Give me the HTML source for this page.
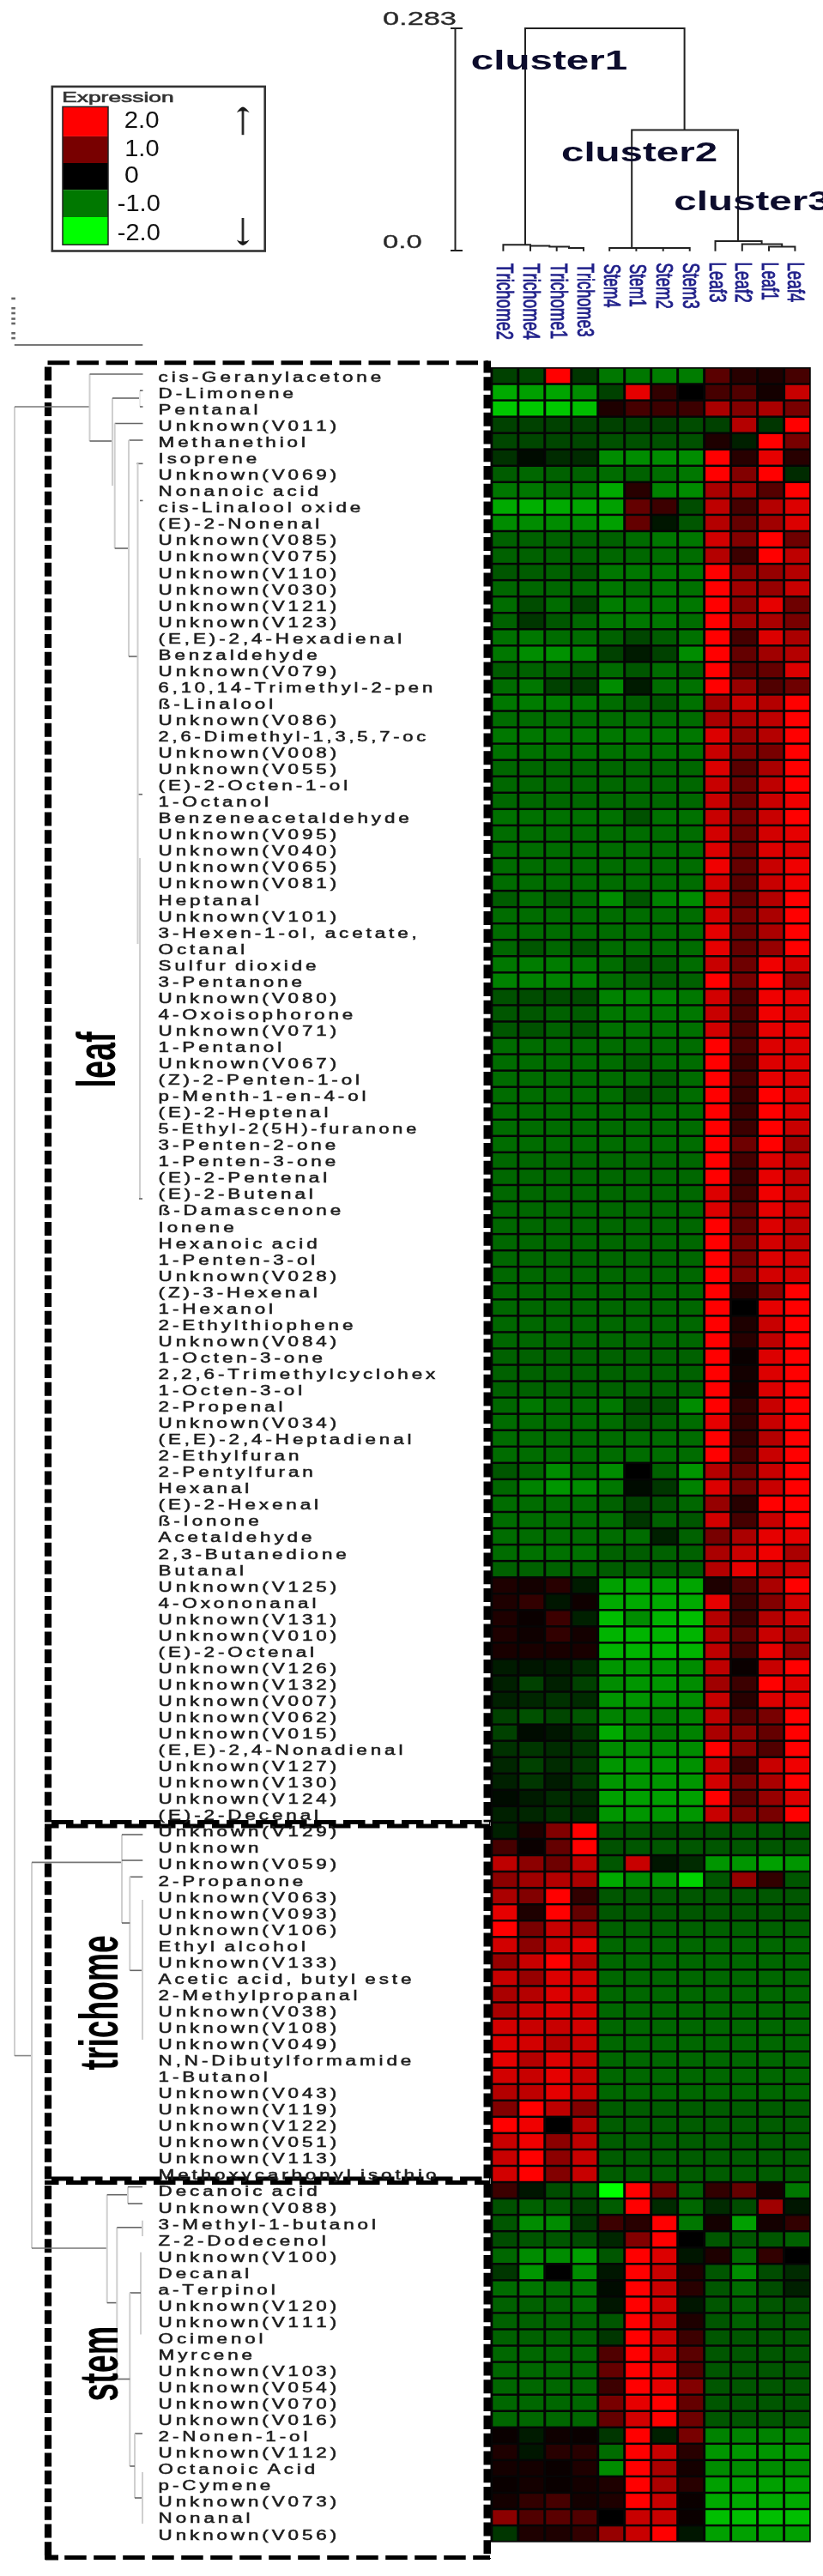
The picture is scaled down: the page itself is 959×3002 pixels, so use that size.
<!DOCTYPE html>
<html><head><meta charset="utf-8">
<style>
html,body{margin:0;padding:0;background:#fff;}
body{width:959px;height:3002px;position:relative;overflow:hidden;font-family:"Liberation Sans",sans-serif;}
svg{position:absolute;left:0;top:0;filter:blur(0.45px);}
.t{position:absolute;white-space:nowrap;line-height:1;transform-origin:0 0;}
</style></head><body>
<svg width="959" height="3002" viewBox="0 0 959 3002">
<rect x="571.5" y="428.0" width="373.26" height="2534.65" fill="#050505"/>
<rect x="574.30" y="429.70" width="28.0" height="16.6" fill="#004100"/>
<rect x="605.28" y="429.70" width="28.0" height="16.6" fill="#004600"/>
<rect x="636.26" y="429.70" width="28.0" height="16.6" fill="#ff0000"/>
<rect x="667.24" y="429.70" width="28.0" height="16.6" fill="#003600"/>
<rect x="698.22" y="429.70" width="28.0" height="16.6" fill="#007700"/>
<rect x="729.20" y="429.70" width="28.0" height="16.6" fill="#007700"/>
<rect x="760.18" y="429.70" width="28.0" height="16.6" fill="#007c00"/>
<rect x="791.16" y="429.70" width="28.0" height="16.6" fill="#007c00"/>
<rect x="822.14" y="429.70" width="28.0" height="16.6" fill="#5a0000"/>
<rect x="853.12" y="429.70" width="28.0" height="16.6" fill="#280000"/>
<rect x="884.10" y="429.70" width="28.0" height="16.6" fill="#1e0000"/>
<rect x="915.08" y="429.70" width="28.0" height="16.6" fill="#460000"/>
<rect x="574.30" y="448.75" width="28.0" height="16.6" fill="#00aa00"/>
<rect x="605.28" y="448.75" width="28.0" height="16.6" fill="#00a000"/>
<rect x="636.26" y="448.75" width="28.0" height="16.6" fill="#00a500"/>
<rect x="667.24" y="448.75" width="28.0" height="16.6" fill="#008c00"/>
<rect x="698.22" y="448.75" width="28.0" height="16.6" fill="#004100"/>
<rect x="729.20" y="448.75" width="28.0" height="16.6" fill="#e60000"/>
<rect x="760.18" y="448.75" width="28.0" height="16.6" fill="#320000"/>
<rect x="791.16" y="448.75" width="28.0" height="16.6" fill="#000000"/>
<rect x="822.14" y="448.75" width="28.0" height="16.6" fill="#460000"/>
<rect x="853.12" y="448.75" width="28.0" height="16.6" fill="#500000"/>
<rect x="884.10" y="448.75" width="28.0" height="16.6" fill="#140000"/>
<rect x="915.08" y="448.75" width="28.0" height="16.6" fill="#c80000"/>
<rect x="574.30" y="467.80" width="28.0" height="16.6" fill="#00c800"/>
<rect x="605.28" y="467.80" width="28.0" height="16.6" fill="#00c800"/>
<rect x="636.26" y="467.80" width="28.0" height="16.6" fill="#00c800"/>
<rect x="667.24" y="467.80" width="28.0" height="16.6" fill="#00be00"/>
<rect x="698.22" y="467.80" width="28.0" height="16.6" fill="#1e0000"/>
<rect x="729.20" y="467.80" width="28.0" height="16.6" fill="#460000"/>
<rect x="760.18" y="467.80" width="28.0" height="16.6" fill="#3c0000"/>
<rect x="791.16" y="467.80" width="28.0" height="16.6" fill="#3c0000"/>
<rect x="822.14" y="467.80" width="28.0" height="16.6" fill="#aa0000"/>
<rect x="853.12" y="467.80" width="28.0" height="16.6" fill="#820000"/>
<rect x="884.10" y="467.80" width="28.0" height="16.6" fill="#aa0000"/>
<rect x="915.08" y="467.80" width="28.0" height="16.6" fill="#780000"/>
<rect x="574.30" y="486.85" width="28.0" height="16.6" fill="#004100"/>
<rect x="605.28" y="486.85" width="28.0" height="16.6" fill="#004100"/>
<rect x="636.26" y="486.85" width="28.0" height="16.6" fill="#004100"/>
<rect x="667.24" y="486.85" width="28.0" height="16.6" fill="#004100"/>
<rect x="698.22" y="486.85" width="28.0" height="16.6" fill="#004100"/>
<rect x="729.20" y="486.85" width="28.0" height="16.6" fill="#004100"/>
<rect x="760.18" y="486.85" width="28.0" height="16.6" fill="#004100"/>
<rect x="791.16" y="486.85" width="28.0" height="16.6" fill="#004c00"/>
<rect x="822.14" y="486.85" width="28.0" height="16.6" fill="#004100"/>
<rect x="853.12" y="486.85" width="28.0" height="16.6" fill="#b40000"/>
<rect x="884.10" y="486.85" width="28.0" height="16.6" fill="#003600"/>
<rect x="915.08" y="486.85" width="28.0" height="16.6" fill="#ff0000"/>
<rect x="574.30" y="505.90" width="28.0" height="16.6" fill="#004600"/>
<rect x="605.28" y="505.90" width="28.0" height="16.6" fill="#004600"/>
<rect x="636.26" y="505.90" width="28.0" height="16.6" fill="#004600"/>
<rect x="667.24" y="505.90" width="28.0" height="16.6" fill="#004600"/>
<rect x="698.22" y="505.90" width="28.0" height="16.6" fill="#005100"/>
<rect x="729.20" y="505.90" width="28.0" height="16.6" fill="#005100"/>
<rect x="760.18" y="505.90" width="28.0" height="16.6" fill="#005100"/>
<rect x="791.16" y="505.90" width="28.0" height="16.6" fill="#005100"/>
<rect x="822.14" y="505.90" width="28.0" height="16.6" fill="#1e0000"/>
<rect x="853.12" y="505.90" width="28.0" height="16.6" fill="#002000"/>
<rect x="884.10" y="505.90" width="28.0" height="16.6" fill="#ff0000"/>
<rect x="915.08" y="505.90" width="28.0" height="16.6" fill="#780000"/>
<rect x="574.30" y="524.95" width="28.0" height="16.6" fill="#003100"/>
<rect x="605.28" y="524.95" width="28.0" height="16.6" fill="#000b00"/>
<rect x="636.26" y="524.95" width="28.0" height="16.6" fill="#002b00"/>
<rect x="667.24" y="524.95" width="28.0" height="16.6" fill="#002b00"/>
<rect x="698.22" y="524.95" width="28.0" height="16.6" fill="#008c00"/>
<rect x="729.20" y="524.95" width="28.0" height="16.6" fill="#008c00"/>
<rect x="760.18" y="524.95" width="28.0" height="16.6" fill="#008c00"/>
<rect x="791.16" y="524.95" width="28.0" height="16.6" fill="#008c00"/>
<rect x="822.14" y="524.95" width="28.0" height="16.6" fill="#ff0000"/>
<rect x="853.12" y="524.95" width="28.0" height="16.6" fill="#280000"/>
<rect x="884.10" y="524.95" width="28.0" height="16.6" fill="#e60000"/>
<rect x="915.08" y="524.95" width="28.0" height="16.6" fill="#280000"/>
<rect x="574.30" y="544.00" width="28.0" height="16.6" fill="#005c00"/>
<rect x="605.28" y="544.00" width="28.0" height="16.6" fill="#006700"/>
<rect x="636.26" y="544.00" width="28.0" height="16.6" fill="#006100"/>
<rect x="667.24" y="544.00" width="28.0" height="16.6" fill="#006100"/>
<rect x="698.22" y="544.00" width="28.0" height="16.6" fill="#006c00"/>
<rect x="729.20" y="544.00" width="28.0" height="16.6" fill="#006100"/>
<rect x="760.18" y="544.00" width="28.0" height="16.6" fill="#006c00"/>
<rect x="791.16" y="544.00" width="28.0" height="16.6" fill="#007700"/>
<rect x="822.14" y="544.00" width="28.0" height="16.6" fill="#ff0000"/>
<rect x="853.12" y="544.00" width="28.0" height="16.6" fill="#820000"/>
<rect x="884.10" y="544.00" width="28.0" height="16.6" fill="#ff0000"/>
<rect x="915.08" y="544.00" width="28.0" height="16.6" fill="#002b00"/>
<rect x="574.30" y="563.05" width="28.0" height="16.6" fill="#007700"/>
<rect x="605.28" y="563.05" width="28.0" height="16.6" fill="#007700"/>
<rect x="636.26" y="563.05" width="28.0" height="16.6" fill="#006c00"/>
<rect x="667.24" y="563.05" width="28.0" height="16.6" fill="#007700"/>
<rect x="698.22" y="563.05" width="28.0" height="16.6" fill="#00aa00"/>
<rect x="729.20" y="563.05" width="28.0" height="16.6" fill="#280000"/>
<rect x="760.18" y="563.05" width="28.0" height="16.6" fill="#008200"/>
<rect x="791.16" y="563.05" width="28.0" height="16.6" fill="#008c00"/>
<rect x="822.14" y="563.05" width="28.0" height="16.6" fill="#aa0000"/>
<rect x="853.12" y="563.05" width="28.0" height="16.6" fill="#a00000"/>
<rect x="884.10" y="563.05" width="28.0" height="16.6" fill="#550000"/>
<rect x="915.08" y="563.05" width="28.0" height="16.6" fill="#ff0000"/>
<rect x="574.30" y="582.10" width="28.0" height="16.6" fill="#00aa00"/>
<rect x="605.28" y="582.10" width="28.0" height="16.6" fill="#00af00"/>
<rect x="636.26" y="582.10" width="28.0" height="16.6" fill="#00aa00"/>
<rect x="667.24" y="582.10" width="28.0" height="16.6" fill="#00a500"/>
<rect x="698.22" y="582.10" width="28.0" height="16.6" fill="#00a000"/>
<rect x="729.20" y="582.10" width="28.0" height="16.6" fill="#640000"/>
<rect x="760.18" y="582.10" width="28.0" height="16.6" fill="#3c0000"/>
<rect x="791.16" y="582.10" width="28.0" height="16.6" fill="#004c00"/>
<rect x="822.14" y="582.10" width="28.0" height="16.6" fill="#be0000"/>
<rect x="853.12" y="582.10" width="28.0" height="16.6" fill="#460000"/>
<rect x="884.10" y="582.10" width="28.0" height="16.6" fill="#b40000"/>
<rect x="915.08" y="582.10" width="28.0" height="16.6" fill="#dc0000"/>
<rect x="574.30" y="601.15" width="28.0" height="16.6" fill="#008c00"/>
<rect x="605.28" y="601.15" width="28.0" height="16.6" fill="#008c00"/>
<rect x="636.26" y="601.15" width="28.0" height="16.6" fill="#008c00"/>
<rect x="667.24" y="601.15" width="28.0" height="16.6" fill="#008c00"/>
<rect x="698.22" y="601.15" width="28.0" height="16.6" fill="#00a000"/>
<rect x="729.20" y="601.15" width="28.0" height="16.6" fill="#640000"/>
<rect x="760.18" y="601.15" width="28.0" height="16.6" fill="#001600"/>
<rect x="791.16" y="601.15" width="28.0" height="16.6" fill="#005600"/>
<rect x="822.14" y="601.15" width="28.0" height="16.6" fill="#b40000"/>
<rect x="853.12" y="601.15" width="28.0" height="16.6" fill="#640000"/>
<rect x="884.10" y="601.15" width="28.0" height="16.6" fill="#a00000"/>
<rect x="915.08" y="601.15" width="28.0" height="16.6" fill="#dc0000"/>
<rect x="574.30" y="620.20" width="28.0" height="16.6" fill="#006100"/>
<rect x="605.28" y="620.20" width="28.0" height="16.6" fill="#006100"/>
<rect x="636.26" y="620.20" width="28.0" height="16.6" fill="#006100"/>
<rect x="667.24" y="620.20" width="28.0" height="16.6" fill="#006100"/>
<rect x="698.22" y="620.20" width="28.0" height="16.6" fill="#006100"/>
<rect x="729.20" y="620.20" width="28.0" height="16.6" fill="#006c00"/>
<rect x="760.18" y="620.20" width="28.0" height="16.6" fill="#007700"/>
<rect x="791.16" y="620.20" width="28.0" height="16.6" fill="#007700"/>
<rect x="822.14" y="620.20" width="28.0" height="16.6" fill="#d20000"/>
<rect x="853.12" y="620.20" width="28.0" height="16.6" fill="#820000"/>
<rect x="884.10" y="620.20" width="28.0" height="16.6" fill="#ff0000"/>
<rect x="915.08" y="620.20" width="28.0" height="16.6" fill="#6e0000"/>
<rect x="574.30" y="639.25" width="28.0" height="16.6" fill="#006100"/>
<rect x="605.28" y="639.25" width="28.0" height="16.6" fill="#006100"/>
<rect x="636.26" y="639.25" width="28.0" height="16.6" fill="#006100"/>
<rect x="667.24" y="639.25" width="28.0" height="16.6" fill="#006100"/>
<rect x="698.22" y="639.25" width="28.0" height="16.6" fill="#006700"/>
<rect x="729.20" y="639.25" width="28.0" height="16.6" fill="#006700"/>
<rect x="760.18" y="639.25" width="28.0" height="16.6" fill="#006c00"/>
<rect x="791.16" y="639.25" width="28.0" height="16.6" fill="#006c00"/>
<rect x="822.14" y="639.25" width="28.0" height="16.6" fill="#b40000"/>
<rect x="853.12" y="639.25" width="28.0" height="16.6" fill="#3c0000"/>
<rect x="884.10" y="639.25" width="28.0" height="16.6" fill="#ff0000"/>
<rect x="915.08" y="639.25" width="28.0" height="16.6" fill="#be0000"/>
<rect x="574.30" y="658.30" width="28.0" height="16.6" fill="#005600"/>
<rect x="605.28" y="658.30" width="28.0" height="16.6" fill="#005c00"/>
<rect x="636.26" y="658.30" width="28.0" height="16.6" fill="#006100"/>
<rect x="667.24" y="658.30" width="28.0" height="16.6" fill="#005600"/>
<rect x="698.22" y="658.30" width="28.0" height="16.6" fill="#007700"/>
<rect x="729.20" y="658.30" width="28.0" height="16.6" fill="#007700"/>
<rect x="760.18" y="658.30" width="28.0" height="16.6" fill="#007700"/>
<rect x="791.16" y="658.30" width="28.0" height="16.6" fill="#007700"/>
<rect x="822.14" y="658.30" width="28.0" height="16.6" fill="#ff0000"/>
<rect x="853.12" y="658.30" width="28.0" height="16.6" fill="#8c0000"/>
<rect x="884.10" y="658.30" width="28.0" height="16.6" fill="#960000"/>
<rect x="915.08" y="658.30" width="28.0" height="16.6" fill="#b40000"/>
<rect x="574.30" y="677.35" width="28.0" height="16.6" fill="#006700"/>
<rect x="605.28" y="677.35" width="28.0" height="16.6" fill="#006700"/>
<rect x="636.26" y="677.35" width="28.0" height="16.6" fill="#006700"/>
<rect x="667.24" y="677.35" width="28.0" height="16.6" fill="#006c00"/>
<rect x="698.22" y="677.35" width="28.0" height="16.6" fill="#007700"/>
<rect x="729.20" y="677.35" width="28.0" height="16.6" fill="#006c00"/>
<rect x="760.18" y="677.35" width="28.0" height="16.6" fill="#007700"/>
<rect x="791.16" y="677.35" width="28.0" height="16.6" fill="#007100"/>
<rect x="822.14" y="677.35" width="28.0" height="16.6" fill="#ff0000"/>
<rect x="853.12" y="677.35" width="28.0" height="16.6" fill="#a00000"/>
<rect x="884.10" y="677.35" width="28.0" height="16.6" fill="#960000"/>
<rect x="915.08" y="677.35" width="28.0" height="16.6" fill="#c80000"/>
<rect x="574.30" y="696.40" width="28.0" height="16.6" fill="#006c00"/>
<rect x="605.28" y="696.40" width="28.0" height="16.6" fill="#004c00"/>
<rect x="636.26" y="696.40" width="28.0" height="16.6" fill="#006c00"/>
<rect x="667.24" y="696.40" width="28.0" height="16.6" fill="#004600"/>
<rect x="698.22" y="696.40" width="28.0" height="16.6" fill="#007c00"/>
<rect x="729.20" y="696.40" width="28.0" height="16.6" fill="#007700"/>
<rect x="760.18" y="696.40" width="28.0" height="16.6" fill="#007700"/>
<rect x="791.16" y="696.40" width="28.0" height="16.6" fill="#007700"/>
<rect x="822.14" y="696.40" width="28.0" height="16.6" fill="#ff0000"/>
<rect x="853.12" y="696.40" width="28.0" height="16.6" fill="#8c0000"/>
<rect x="884.10" y="696.40" width="28.0" height="16.6" fill="#e60000"/>
<rect x="915.08" y="696.40" width="28.0" height="16.6" fill="#6e0000"/>
<rect x="574.30" y="715.45" width="28.0" height="16.6" fill="#006100"/>
<rect x="605.28" y="715.45" width="28.0" height="16.6" fill="#003600"/>
<rect x="636.26" y="715.45" width="28.0" height="16.6" fill="#005600"/>
<rect x="667.24" y="715.45" width="28.0" height="16.6" fill="#006700"/>
<rect x="698.22" y="715.45" width="28.0" height="16.6" fill="#007700"/>
<rect x="729.20" y="715.45" width="28.0" height="16.6" fill="#007700"/>
<rect x="760.18" y="715.45" width="28.0" height="16.6" fill="#007700"/>
<rect x="791.16" y="715.45" width="28.0" height="16.6" fill="#006c00"/>
<rect x="822.14" y="715.45" width="28.0" height="16.6" fill="#ff0000"/>
<rect x="853.12" y="715.45" width="28.0" height="16.6" fill="#a00000"/>
<rect x="884.10" y="715.45" width="28.0" height="16.6" fill="#aa0000"/>
<rect x="915.08" y="715.45" width="28.0" height="16.6" fill="#780000"/>
<rect x="574.30" y="734.50" width="28.0" height="16.6" fill="#007100"/>
<rect x="605.28" y="734.50" width="28.0" height="16.6" fill="#007700"/>
<rect x="636.26" y="734.50" width="28.0" height="16.6" fill="#006c00"/>
<rect x="667.24" y="734.50" width="28.0" height="16.6" fill="#006c00"/>
<rect x="698.22" y="734.50" width="28.0" height="16.6" fill="#006100"/>
<rect x="729.20" y="734.50" width="28.0" height="16.6" fill="#004600"/>
<rect x="760.18" y="734.50" width="28.0" height="16.6" fill="#005c00"/>
<rect x="791.16" y="734.50" width="28.0" height="16.6" fill="#007100"/>
<rect x="822.14" y="734.50" width="28.0" height="16.6" fill="#ff0000"/>
<rect x="853.12" y="734.50" width="28.0" height="16.6" fill="#460000"/>
<rect x="884.10" y="734.50" width="28.0" height="16.6" fill="#dc0000"/>
<rect x="915.08" y="734.50" width="28.0" height="16.6" fill="#aa0000"/>
<rect x="574.30" y="753.55" width="28.0" height="16.6" fill="#007700"/>
<rect x="605.28" y="753.55" width="28.0" height="16.6" fill="#008c00"/>
<rect x="636.26" y="753.55" width="28.0" height="16.6" fill="#009100"/>
<rect x="667.24" y="753.55" width="28.0" height="16.6" fill="#008200"/>
<rect x="698.22" y="753.55" width="28.0" height="16.6" fill="#004100"/>
<rect x="729.20" y="753.55" width="28.0" height="16.6" fill="#001b00"/>
<rect x="760.18" y="753.55" width="28.0" height="16.6" fill="#004100"/>
<rect x="791.16" y="753.55" width="28.0" height="16.6" fill="#008c00"/>
<rect x="822.14" y="753.55" width="28.0" height="16.6" fill="#ff0000"/>
<rect x="853.12" y="753.55" width="28.0" height="16.6" fill="#640000"/>
<rect x="884.10" y="753.55" width="28.0" height="16.6" fill="#a00000"/>
<rect x="915.08" y="753.55" width="28.0" height="16.6" fill="#b40000"/>
<rect x="574.30" y="772.60" width="28.0" height="16.6" fill="#005c00"/>
<rect x="605.28" y="772.60" width="28.0" height="16.6" fill="#006100"/>
<rect x="636.26" y="772.60" width="28.0" height="16.6" fill="#006100"/>
<rect x="667.24" y="772.60" width="28.0" height="16.6" fill="#005600"/>
<rect x="698.22" y="772.60" width="28.0" height="16.6" fill="#006c00"/>
<rect x="729.20" y="772.60" width="28.0" height="16.6" fill="#005600"/>
<rect x="760.18" y="772.60" width="28.0" height="16.6" fill="#006c00"/>
<rect x="791.16" y="772.60" width="28.0" height="16.6" fill="#006100"/>
<rect x="822.14" y="772.60" width="28.0" height="16.6" fill="#ff0000"/>
<rect x="853.12" y="772.60" width="28.0" height="16.6" fill="#5a0000"/>
<rect x="884.10" y="772.60" width="28.0" height="16.6" fill="#640000"/>
<rect x="915.08" y="772.60" width="28.0" height="16.6" fill="#dc0000"/>
<rect x="574.30" y="791.65" width="28.0" height="16.6" fill="#006c00"/>
<rect x="605.28" y="791.65" width="28.0" height="16.6" fill="#007700"/>
<rect x="636.26" y="791.65" width="28.0" height="16.6" fill="#004100"/>
<rect x="667.24" y="791.65" width="28.0" height="16.6" fill="#003b00"/>
<rect x="698.22" y="791.65" width="28.0" height="16.6" fill="#008c00"/>
<rect x="729.20" y="791.65" width="28.0" height="16.6" fill="#001b00"/>
<rect x="760.18" y="791.65" width="28.0" height="16.6" fill="#006c00"/>
<rect x="791.16" y="791.65" width="28.0" height="16.6" fill="#007100"/>
<rect x="822.14" y="791.65" width="28.0" height="16.6" fill="#ff0000"/>
<rect x="853.12" y="791.65" width="28.0" height="16.6" fill="#960000"/>
<rect x="884.10" y="791.65" width="28.0" height="16.6" fill="#500000"/>
<rect x="915.08" y="791.65" width="28.0" height="16.6" fill="#6e0000"/>
<rect x="574.30" y="810.70" width="28.0" height="16.6" fill="#007700"/>
<rect x="605.28" y="810.70" width="28.0" height="16.6" fill="#007c00"/>
<rect x="636.26" y="810.70" width="28.0" height="16.6" fill="#007c00"/>
<rect x="667.24" y="810.70" width="28.0" height="16.6" fill="#007700"/>
<rect x="698.22" y="810.70" width="28.0" height="16.6" fill="#006c00"/>
<rect x="729.20" y="810.70" width="28.0" height="16.6" fill="#005c00"/>
<rect x="760.18" y="810.70" width="28.0" height="16.6" fill="#005600"/>
<rect x="791.16" y="810.70" width="28.0" height="16.6" fill="#007100"/>
<rect x="822.14" y="810.70" width="28.0" height="16.6" fill="#a00000"/>
<rect x="853.12" y="810.70" width="28.0" height="16.6" fill="#c80000"/>
<rect x="884.10" y="810.70" width="28.0" height="16.6" fill="#b40000"/>
<rect x="915.08" y="810.70" width="28.0" height="16.6" fill="#ff0000"/>
<rect x="574.30" y="829.75" width="28.0" height="16.6" fill="#006c00"/>
<rect x="605.28" y="829.75" width="28.0" height="16.6" fill="#006c00"/>
<rect x="636.26" y="829.75" width="28.0" height="16.6" fill="#006c00"/>
<rect x="667.24" y="829.75" width="28.0" height="16.6" fill="#006c00"/>
<rect x="698.22" y="829.75" width="28.0" height="16.6" fill="#006c00"/>
<rect x="729.20" y="829.75" width="28.0" height="16.6" fill="#006c00"/>
<rect x="760.18" y="829.75" width="28.0" height="16.6" fill="#006c00"/>
<rect x="791.16" y="829.75" width="28.0" height="16.6" fill="#006c00"/>
<rect x="822.14" y="829.75" width="28.0" height="16.6" fill="#aa0000"/>
<rect x="853.12" y="829.75" width="28.0" height="16.6" fill="#aa0000"/>
<rect x="884.10" y="829.75" width="28.0" height="16.6" fill="#be0000"/>
<rect x="915.08" y="829.75" width="28.0" height="16.6" fill="#ff0000"/>
<rect x="574.30" y="848.80" width="28.0" height="16.6" fill="#007700"/>
<rect x="605.28" y="848.80" width="28.0" height="16.6" fill="#007700"/>
<rect x="636.26" y="848.80" width="28.0" height="16.6" fill="#007700"/>
<rect x="667.24" y="848.80" width="28.0" height="16.6" fill="#007700"/>
<rect x="698.22" y="848.80" width="28.0" height="16.6" fill="#007700"/>
<rect x="729.20" y="848.80" width="28.0" height="16.6" fill="#007700"/>
<rect x="760.18" y="848.80" width="28.0" height="16.6" fill="#007700"/>
<rect x="791.16" y="848.80" width="28.0" height="16.6" fill="#007700"/>
<rect x="822.14" y="848.80" width="28.0" height="16.6" fill="#dc0000"/>
<rect x="853.12" y="848.80" width="28.0" height="16.6" fill="#960000"/>
<rect x="884.10" y="848.80" width="28.0" height="16.6" fill="#b40000"/>
<rect x="915.08" y="848.80" width="28.0" height="16.6" fill="#ff0000"/>
<rect x="574.30" y="867.85" width="28.0" height="16.6" fill="#007100"/>
<rect x="605.28" y="867.85" width="28.0" height="16.6" fill="#007100"/>
<rect x="636.26" y="867.85" width="28.0" height="16.6" fill="#007100"/>
<rect x="667.24" y="867.85" width="28.0" height="16.6" fill="#007100"/>
<rect x="698.22" y="867.85" width="28.0" height="16.6" fill="#007100"/>
<rect x="729.20" y="867.85" width="28.0" height="16.6" fill="#007100"/>
<rect x="760.18" y="867.85" width="28.0" height="16.6" fill="#007100"/>
<rect x="791.16" y="867.85" width="28.0" height="16.6" fill="#007100"/>
<rect x="822.14" y="867.85" width="28.0" height="16.6" fill="#c80000"/>
<rect x="853.12" y="867.85" width="28.0" height="16.6" fill="#820000"/>
<rect x="884.10" y="867.85" width="28.0" height="16.6" fill="#780000"/>
<rect x="915.08" y="867.85" width="28.0" height="16.6" fill="#ff0000"/>
<rect x="574.30" y="886.90" width="28.0" height="16.6" fill="#006700"/>
<rect x="605.28" y="886.90" width="28.0" height="16.6" fill="#006700"/>
<rect x="636.26" y="886.90" width="28.0" height="16.6" fill="#006700"/>
<rect x="667.24" y="886.90" width="28.0" height="16.6" fill="#006700"/>
<rect x="698.22" y="886.90" width="28.0" height="16.6" fill="#006700"/>
<rect x="729.20" y="886.90" width="28.0" height="16.6" fill="#006700"/>
<rect x="760.18" y="886.90" width="28.0" height="16.6" fill="#006700"/>
<rect x="791.16" y="886.90" width="28.0" height="16.6" fill="#006700"/>
<rect x="822.14" y="886.90" width="28.0" height="16.6" fill="#dc0000"/>
<rect x="853.12" y="886.90" width="28.0" height="16.6" fill="#5a0000"/>
<rect x="884.10" y="886.90" width="28.0" height="16.6" fill="#aa0000"/>
<rect x="915.08" y="886.90" width="28.0" height="16.6" fill="#ff0000"/>
<rect x="574.30" y="905.95" width="28.0" height="16.6" fill="#006700"/>
<rect x="605.28" y="905.95" width="28.0" height="16.6" fill="#006700"/>
<rect x="636.26" y="905.95" width="28.0" height="16.6" fill="#006700"/>
<rect x="667.24" y="905.95" width="28.0" height="16.6" fill="#006700"/>
<rect x="698.22" y="905.95" width="28.0" height="16.6" fill="#006700"/>
<rect x="729.20" y="905.95" width="28.0" height="16.6" fill="#006700"/>
<rect x="760.18" y="905.95" width="28.0" height="16.6" fill="#006700"/>
<rect x="791.16" y="905.95" width="28.0" height="16.6" fill="#006700"/>
<rect x="822.14" y="905.95" width="28.0" height="16.6" fill="#c80000"/>
<rect x="853.12" y="905.95" width="28.0" height="16.6" fill="#6e0000"/>
<rect x="884.10" y="905.95" width="28.0" height="16.6" fill="#be0000"/>
<rect x="915.08" y="905.95" width="28.0" height="16.6" fill="#ff0000"/>
<rect x="574.30" y="925.00" width="28.0" height="16.6" fill="#006700"/>
<rect x="605.28" y="925.00" width="28.0" height="16.6" fill="#006700"/>
<rect x="636.26" y="925.00" width="28.0" height="16.6" fill="#006700"/>
<rect x="667.24" y="925.00" width="28.0" height="16.6" fill="#006700"/>
<rect x="698.22" y="925.00" width="28.0" height="16.6" fill="#006700"/>
<rect x="729.20" y="925.00" width="28.0" height="16.6" fill="#006700"/>
<rect x="760.18" y="925.00" width="28.0" height="16.6" fill="#006700"/>
<rect x="791.16" y="925.00" width="28.0" height="16.6" fill="#006700"/>
<rect x="822.14" y="925.00" width="28.0" height="16.6" fill="#c80000"/>
<rect x="853.12" y="925.00" width="28.0" height="16.6" fill="#6e0000"/>
<rect x="884.10" y="925.00" width="28.0" height="16.6" fill="#c80000"/>
<rect x="915.08" y="925.00" width="28.0" height="16.6" fill="#f00000"/>
<rect x="574.30" y="944.05" width="28.0" height="16.6" fill="#007100"/>
<rect x="605.28" y="944.05" width="28.0" height="16.6" fill="#007100"/>
<rect x="636.26" y="944.05" width="28.0" height="16.6" fill="#007100"/>
<rect x="667.24" y="944.05" width="28.0" height="16.6" fill="#007100"/>
<rect x="698.22" y="944.05" width="28.0" height="16.6" fill="#007100"/>
<rect x="729.20" y="944.05" width="28.0" height="16.6" fill="#005100"/>
<rect x="760.18" y="944.05" width="28.0" height="16.6" fill="#007100"/>
<rect x="791.16" y="944.05" width="28.0" height="16.6" fill="#007100"/>
<rect x="822.14" y="944.05" width="28.0" height="16.6" fill="#c80000"/>
<rect x="853.12" y="944.05" width="28.0" height="16.6" fill="#780000"/>
<rect x="884.10" y="944.05" width="28.0" height="16.6" fill="#c80000"/>
<rect x="915.08" y="944.05" width="28.0" height="16.6" fill="#ff0000"/>
<rect x="574.30" y="963.10" width="28.0" height="16.6" fill="#006c00"/>
<rect x="605.28" y="963.10" width="28.0" height="16.6" fill="#006c00"/>
<rect x="636.26" y="963.10" width="28.0" height="16.6" fill="#006c00"/>
<rect x="667.24" y="963.10" width="28.0" height="16.6" fill="#006c00"/>
<rect x="698.22" y="963.10" width="28.0" height="16.6" fill="#006c00"/>
<rect x="729.20" y="963.10" width="28.0" height="16.6" fill="#006c00"/>
<rect x="760.18" y="963.10" width="28.0" height="16.6" fill="#006c00"/>
<rect x="791.16" y="963.10" width="28.0" height="16.6" fill="#006c00"/>
<rect x="822.14" y="963.10" width="28.0" height="16.6" fill="#d20000"/>
<rect x="853.12" y="963.10" width="28.0" height="16.6" fill="#6e0000"/>
<rect x="884.10" y="963.10" width="28.0" height="16.6" fill="#d20000"/>
<rect x="915.08" y="963.10" width="28.0" height="16.6" fill="#e60000"/>
<rect x="574.30" y="982.15" width="28.0" height="16.6" fill="#006c00"/>
<rect x="605.28" y="982.15" width="28.0" height="16.6" fill="#006c00"/>
<rect x="636.26" y="982.15" width="28.0" height="16.6" fill="#006c00"/>
<rect x="667.24" y="982.15" width="28.0" height="16.6" fill="#006c00"/>
<rect x="698.22" y="982.15" width="28.0" height="16.6" fill="#006c00"/>
<rect x="729.20" y="982.15" width="28.0" height="16.6" fill="#006c00"/>
<rect x="760.18" y="982.15" width="28.0" height="16.6" fill="#006c00"/>
<rect x="791.16" y="982.15" width="28.0" height="16.6" fill="#006c00"/>
<rect x="822.14" y="982.15" width="28.0" height="16.6" fill="#dc0000"/>
<rect x="853.12" y="982.15" width="28.0" height="16.6" fill="#6e0000"/>
<rect x="884.10" y="982.15" width="28.0" height="16.6" fill="#dc0000"/>
<rect x="915.08" y="982.15" width="28.0" height="16.6" fill="#dc0000"/>
<rect x="574.30" y="1001.20" width="28.0" height="16.6" fill="#006c00"/>
<rect x="605.28" y="1001.20" width="28.0" height="16.6" fill="#006c00"/>
<rect x="636.26" y="1001.20" width="28.0" height="16.6" fill="#006c00"/>
<rect x="667.24" y="1001.20" width="28.0" height="16.6" fill="#006c00"/>
<rect x="698.22" y="1001.20" width="28.0" height="16.6" fill="#006c00"/>
<rect x="729.20" y="1001.20" width="28.0" height="16.6" fill="#006c00"/>
<rect x="760.18" y="1001.20" width="28.0" height="16.6" fill="#006c00"/>
<rect x="791.16" y="1001.20" width="28.0" height="16.6" fill="#006c00"/>
<rect x="822.14" y="1001.20" width="28.0" height="16.6" fill="#f00000"/>
<rect x="853.12" y="1001.20" width="28.0" height="16.6" fill="#640000"/>
<rect x="884.10" y="1001.20" width="28.0" height="16.6" fill="#c80000"/>
<rect x="915.08" y="1001.20" width="28.0" height="16.6" fill="#f00000"/>
<rect x="574.30" y="1020.25" width="28.0" height="16.6" fill="#006c00"/>
<rect x="605.28" y="1020.25" width="28.0" height="16.6" fill="#006c00"/>
<rect x="636.26" y="1020.25" width="28.0" height="16.6" fill="#006c00"/>
<rect x="667.24" y="1020.25" width="28.0" height="16.6" fill="#006c00"/>
<rect x="698.22" y="1020.25" width="28.0" height="16.6" fill="#006c00"/>
<rect x="729.20" y="1020.25" width="28.0" height="16.6" fill="#006c00"/>
<rect x="760.18" y="1020.25" width="28.0" height="16.6" fill="#006c00"/>
<rect x="791.16" y="1020.25" width="28.0" height="16.6" fill="#006c00"/>
<rect x="822.14" y="1020.25" width="28.0" height="16.6" fill="#d20000"/>
<rect x="853.12" y="1020.25" width="28.0" height="16.6" fill="#5a0000"/>
<rect x="884.10" y="1020.25" width="28.0" height="16.6" fill="#c80000"/>
<rect x="915.08" y="1020.25" width="28.0" height="16.6" fill="#f00000"/>
<rect x="574.30" y="1039.30" width="28.0" height="16.6" fill="#005c00"/>
<rect x="605.28" y="1039.30" width="28.0" height="16.6" fill="#006c00"/>
<rect x="636.26" y="1039.30" width="28.0" height="16.6" fill="#005c00"/>
<rect x="667.24" y="1039.30" width="28.0" height="16.6" fill="#006c00"/>
<rect x="698.22" y="1039.30" width="28.0" height="16.6" fill="#008c00"/>
<rect x="729.20" y="1039.30" width="28.0" height="16.6" fill="#005600"/>
<rect x="760.18" y="1039.30" width="28.0" height="16.6" fill="#008200"/>
<rect x="791.16" y="1039.30" width="28.0" height="16.6" fill="#008c00"/>
<rect x="822.14" y="1039.30" width="28.0" height="16.6" fill="#d20000"/>
<rect x="853.12" y="1039.30" width="28.0" height="16.6" fill="#640000"/>
<rect x="884.10" y="1039.30" width="28.0" height="16.6" fill="#b40000"/>
<rect x="915.08" y="1039.30" width="28.0" height="16.6" fill="#ff0000"/>
<rect x="574.30" y="1058.35" width="28.0" height="16.6" fill="#006c00"/>
<rect x="605.28" y="1058.35" width="28.0" height="16.6" fill="#006c00"/>
<rect x="636.26" y="1058.35" width="28.0" height="16.6" fill="#006c00"/>
<rect x="667.24" y="1058.35" width="28.0" height="16.6" fill="#006c00"/>
<rect x="698.22" y="1058.35" width="28.0" height="16.6" fill="#006c00"/>
<rect x="729.20" y="1058.35" width="28.0" height="16.6" fill="#006c00"/>
<rect x="760.18" y="1058.35" width="28.0" height="16.6" fill="#006c00"/>
<rect x="791.16" y="1058.35" width="28.0" height="16.6" fill="#006c00"/>
<rect x="822.14" y="1058.35" width="28.0" height="16.6" fill="#d20000"/>
<rect x="853.12" y="1058.35" width="28.0" height="16.6" fill="#780000"/>
<rect x="884.10" y="1058.35" width="28.0" height="16.6" fill="#aa0000"/>
<rect x="915.08" y="1058.35" width="28.0" height="16.6" fill="#ff0000"/>
<rect x="574.30" y="1077.40" width="28.0" height="16.6" fill="#006c00"/>
<rect x="605.28" y="1077.40" width="28.0" height="16.6" fill="#006c00"/>
<rect x="636.26" y="1077.40" width="28.0" height="16.6" fill="#006c00"/>
<rect x="667.24" y="1077.40" width="28.0" height="16.6" fill="#006c00"/>
<rect x="698.22" y="1077.40" width="28.0" height="16.6" fill="#006c00"/>
<rect x="729.20" y="1077.40" width="28.0" height="16.6" fill="#006c00"/>
<rect x="760.18" y="1077.40" width="28.0" height="16.6" fill="#006c00"/>
<rect x="791.16" y="1077.40" width="28.0" height="16.6" fill="#006c00"/>
<rect x="822.14" y="1077.40" width="28.0" height="16.6" fill="#e60000"/>
<rect x="853.12" y="1077.40" width="28.0" height="16.6" fill="#6e0000"/>
<rect x="884.10" y="1077.40" width="28.0" height="16.6" fill="#aa0000"/>
<rect x="915.08" y="1077.40" width="28.0" height="16.6" fill="#ff0000"/>
<rect x="574.30" y="1096.45" width="28.0" height="16.6" fill="#006700"/>
<rect x="605.28" y="1096.45" width="28.0" height="16.6" fill="#005600"/>
<rect x="636.26" y="1096.45" width="28.0" height="16.6" fill="#006700"/>
<rect x="667.24" y="1096.45" width="28.0" height="16.6" fill="#005600"/>
<rect x="698.22" y="1096.45" width="28.0" height="16.6" fill="#006c00"/>
<rect x="729.20" y="1096.45" width="28.0" height="16.6" fill="#006c00"/>
<rect x="760.18" y="1096.45" width="28.0" height="16.6" fill="#006c00"/>
<rect x="791.16" y="1096.45" width="28.0" height="16.6" fill="#006c00"/>
<rect x="822.14" y="1096.45" width="28.0" height="16.6" fill="#e60000"/>
<rect x="853.12" y="1096.45" width="28.0" height="16.6" fill="#640000"/>
<rect x="884.10" y="1096.45" width="28.0" height="16.6" fill="#960000"/>
<rect x="915.08" y="1096.45" width="28.0" height="16.6" fill="#ff0000"/>
<rect x="574.30" y="1115.50" width="28.0" height="16.6" fill="#007700"/>
<rect x="605.28" y="1115.50" width="28.0" height="16.6" fill="#007c00"/>
<rect x="636.26" y="1115.50" width="28.0" height="16.6" fill="#007c00"/>
<rect x="667.24" y="1115.50" width="28.0" height="16.6" fill="#007700"/>
<rect x="698.22" y="1115.50" width="28.0" height="16.6" fill="#006c00"/>
<rect x="729.20" y="1115.50" width="28.0" height="16.6" fill="#005600"/>
<rect x="760.18" y="1115.50" width="28.0" height="16.6" fill="#005c00"/>
<rect x="791.16" y="1115.50" width="28.0" height="16.6" fill="#006c00"/>
<rect x="822.14" y="1115.50" width="28.0" height="16.6" fill="#c80000"/>
<rect x="853.12" y="1115.50" width="28.0" height="16.6" fill="#6e0000"/>
<rect x="884.10" y="1115.50" width="28.0" height="16.6" fill="#f00000"/>
<rect x="915.08" y="1115.50" width="28.0" height="16.6" fill="#d20000"/>
<rect x="574.30" y="1134.55" width="28.0" height="16.6" fill="#008200"/>
<rect x="605.28" y="1134.55" width="28.0" height="16.6" fill="#008200"/>
<rect x="636.26" y="1134.55" width="28.0" height="16.6" fill="#008200"/>
<rect x="667.24" y="1134.55" width="28.0" height="16.6" fill="#008200"/>
<rect x="698.22" y="1134.55" width="28.0" height="16.6" fill="#006c00"/>
<rect x="729.20" y="1134.55" width="28.0" height="16.6" fill="#006100"/>
<rect x="760.18" y="1134.55" width="28.0" height="16.6" fill="#005c00"/>
<rect x="791.16" y="1134.55" width="28.0" height="16.6" fill="#006100"/>
<rect x="822.14" y="1134.55" width="28.0" height="16.6" fill="#ff0000"/>
<rect x="853.12" y="1134.55" width="28.0" height="16.6" fill="#780000"/>
<rect x="884.10" y="1134.55" width="28.0" height="16.6" fill="#ff0000"/>
<rect x="915.08" y="1134.55" width="28.0" height="16.6" fill="#960000"/>
<rect x="574.30" y="1153.60" width="28.0" height="16.6" fill="#005100"/>
<rect x="605.28" y="1153.60" width="28.0" height="16.6" fill="#004c00"/>
<rect x="636.26" y="1153.60" width="28.0" height="16.6" fill="#004c00"/>
<rect x="667.24" y="1153.60" width="28.0" height="16.6" fill="#004c00"/>
<rect x="698.22" y="1153.60" width="28.0" height="16.6" fill="#008200"/>
<rect x="729.20" y="1153.60" width="28.0" height="16.6" fill="#008200"/>
<rect x="760.18" y="1153.60" width="28.0" height="16.6" fill="#008200"/>
<rect x="791.16" y="1153.60" width="28.0" height="16.6" fill="#007700"/>
<rect x="822.14" y="1153.60" width="28.0" height="16.6" fill="#d20000"/>
<rect x="853.12" y="1153.60" width="28.0" height="16.6" fill="#500000"/>
<rect x="884.10" y="1153.60" width="28.0" height="16.6" fill="#f00000"/>
<rect x="915.08" y="1153.60" width="28.0" height="16.6" fill="#e60000"/>
<rect x="574.30" y="1172.65" width="28.0" height="16.6" fill="#005600"/>
<rect x="605.28" y="1172.65" width="28.0" height="16.6" fill="#005600"/>
<rect x="636.26" y="1172.65" width="28.0" height="16.6" fill="#006100"/>
<rect x="667.24" y="1172.65" width="28.0" height="16.6" fill="#005c00"/>
<rect x="698.22" y="1172.65" width="28.0" height="16.6" fill="#007700"/>
<rect x="729.20" y="1172.65" width="28.0" height="16.6" fill="#007700"/>
<rect x="760.18" y="1172.65" width="28.0" height="16.6" fill="#007700"/>
<rect x="791.16" y="1172.65" width="28.0" height="16.6" fill="#007700"/>
<rect x="822.14" y="1172.65" width="28.0" height="16.6" fill="#c80000"/>
<rect x="853.12" y="1172.65" width="28.0" height="16.6" fill="#500000"/>
<rect x="884.10" y="1172.65" width="28.0" height="16.6" fill="#f00000"/>
<rect x="915.08" y="1172.65" width="28.0" height="16.6" fill="#dc0000"/>
<rect x="574.30" y="1191.70" width="28.0" height="16.6" fill="#005600"/>
<rect x="605.28" y="1191.70" width="28.0" height="16.6" fill="#005100"/>
<rect x="636.26" y="1191.70" width="28.0" height="16.6" fill="#006100"/>
<rect x="667.24" y="1191.70" width="28.0" height="16.6" fill="#005600"/>
<rect x="698.22" y="1191.70" width="28.0" height="16.6" fill="#007100"/>
<rect x="729.20" y="1191.70" width="28.0" height="16.6" fill="#007100"/>
<rect x="760.18" y="1191.70" width="28.0" height="16.6" fill="#007100"/>
<rect x="791.16" y="1191.70" width="28.0" height="16.6" fill="#007100"/>
<rect x="822.14" y="1191.70" width="28.0" height="16.6" fill="#d20000"/>
<rect x="853.12" y="1191.70" width="28.0" height="16.6" fill="#500000"/>
<rect x="884.10" y="1191.70" width="28.0" height="16.6" fill="#e60000"/>
<rect x="915.08" y="1191.70" width="28.0" height="16.6" fill="#e60000"/>
<rect x="574.30" y="1210.75" width="28.0" height="16.6" fill="#006c00"/>
<rect x="605.28" y="1210.75" width="28.0" height="16.6" fill="#006c00"/>
<rect x="636.26" y="1210.75" width="28.0" height="16.6" fill="#006c00"/>
<rect x="667.24" y="1210.75" width="28.0" height="16.6" fill="#006c00"/>
<rect x="698.22" y="1210.75" width="28.0" height="16.6" fill="#006c00"/>
<rect x="729.20" y="1210.75" width="28.0" height="16.6" fill="#006c00"/>
<rect x="760.18" y="1210.75" width="28.0" height="16.6" fill="#006c00"/>
<rect x="791.16" y="1210.75" width="28.0" height="16.6" fill="#006c00"/>
<rect x="822.14" y="1210.75" width="28.0" height="16.6" fill="#ff0000"/>
<rect x="853.12" y="1210.75" width="28.0" height="16.6" fill="#500000"/>
<rect x="884.10" y="1210.75" width="28.0" height="16.6" fill="#dc0000"/>
<rect x="915.08" y="1210.75" width="28.0" height="16.6" fill="#dc0000"/>
<rect x="574.30" y="1229.80" width="28.0" height="16.6" fill="#006c00"/>
<rect x="605.28" y="1229.80" width="28.0" height="16.6" fill="#006c00"/>
<rect x="636.26" y="1229.80" width="28.0" height="16.6" fill="#006c00"/>
<rect x="667.24" y="1229.80" width="28.0" height="16.6" fill="#006c00"/>
<rect x="698.22" y="1229.80" width="28.0" height="16.6" fill="#006c00"/>
<rect x="729.20" y="1229.80" width="28.0" height="16.6" fill="#005c00"/>
<rect x="760.18" y="1229.80" width="28.0" height="16.6" fill="#006c00"/>
<rect x="791.16" y="1229.80" width="28.0" height="16.6" fill="#006c00"/>
<rect x="822.14" y="1229.80" width="28.0" height="16.6" fill="#ff0000"/>
<rect x="853.12" y="1229.80" width="28.0" height="16.6" fill="#3c0000"/>
<rect x="884.10" y="1229.80" width="28.0" height="16.6" fill="#dc0000"/>
<rect x="915.08" y="1229.80" width="28.0" height="16.6" fill="#dc0000"/>
<rect x="574.30" y="1248.85" width="28.0" height="16.6" fill="#006c00"/>
<rect x="605.28" y="1248.85" width="28.0" height="16.6" fill="#006c00"/>
<rect x="636.26" y="1248.85" width="28.0" height="16.6" fill="#006c00"/>
<rect x="667.24" y="1248.85" width="28.0" height="16.6" fill="#006c00"/>
<rect x="698.22" y="1248.85" width="28.0" height="16.6" fill="#006c00"/>
<rect x="729.20" y="1248.85" width="28.0" height="16.6" fill="#006c00"/>
<rect x="760.18" y="1248.85" width="28.0" height="16.6" fill="#005c00"/>
<rect x="791.16" y="1248.85" width="28.0" height="16.6" fill="#006c00"/>
<rect x="822.14" y="1248.85" width="28.0" height="16.6" fill="#ff0000"/>
<rect x="853.12" y="1248.85" width="28.0" height="16.6" fill="#460000"/>
<rect x="884.10" y="1248.85" width="28.0" height="16.6" fill="#e60000"/>
<rect x="915.08" y="1248.85" width="28.0" height="16.6" fill="#dc0000"/>
<rect x="574.30" y="1267.90" width="28.0" height="16.6" fill="#006c00"/>
<rect x="605.28" y="1267.90" width="28.0" height="16.6" fill="#006c00"/>
<rect x="636.26" y="1267.90" width="28.0" height="16.6" fill="#006c00"/>
<rect x="667.24" y="1267.90" width="28.0" height="16.6" fill="#006c00"/>
<rect x="698.22" y="1267.90" width="28.0" height="16.6" fill="#006c00"/>
<rect x="729.20" y="1267.90" width="28.0" height="16.6" fill="#005100"/>
<rect x="760.18" y="1267.90" width="28.0" height="16.6" fill="#005c00"/>
<rect x="791.16" y="1267.90" width="28.0" height="16.6" fill="#006c00"/>
<rect x="822.14" y="1267.90" width="28.0" height="16.6" fill="#ff0000"/>
<rect x="853.12" y="1267.90" width="28.0" height="16.6" fill="#3c0000"/>
<rect x="884.10" y="1267.90" width="28.0" height="16.6" fill="#ff0000"/>
<rect x="915.08" y="1267.90" width="28.0" height="16.6" fill="#dc0000"/>
<rect x="574.30" y="1286.95" width="28.0" height="16.6" fill="#006c00"/>
<rect x="605.28" y="1286.95" width="28.0" height="16.6" fill="#006c00"/>
<rect x="636.26" y="1286.95" width="28.0" height="16.6" fill="#006c00"/>
<rect x="667.24" y="1286.95" width="28.0" height="16.6" fill="#006c00"/>
<rect x="698.22" y="1286.95" width="28.0" height="16.6" fill="#006c00"/>
<rect x="729.20" y="1286.95" width="28.0" height="16.6" fill="#006c00"/>
<rect x="760.18" y="1286.95" width="28.0" height="16.6" fill="#006c00"/>
<rect x="791.16" y="1286.95" width="28.0" height="16.6" fill="#006c00"/>
<rect x="822.14" y="1286.95" width="28.0" height="16.6" fill="#ff0000"/>
<rect x="853.12" y="1286.95" width="28.0" height="16.6" fill="#3c0000"/>
<rect x="884.10" y="1286.95" width="28.0" height="16.6" fill="#ff0000"/>
<rect x="915.08" y="1286.95" width="28.0" height="16.6" fill="#dc0000"/>
<rect x="574.30" y="1306.00" width="28.0" height="16.6" fill="#006c00"/>
<rect x="605.28" y="1306.00" width="28.0" height="16.6" fill="#006c00"/>
<rect x="636.26" y="1306.00" width="28.0" height="16.6" fill="#006c00"/>
<rect x="667.24" y="1306.00" width="28.0" height="16.6" fill="#006c00"/>
<rect x="698.22" y="1306.00" width="28.0" height="16.6" fill="#006c00"/>
<rect x="729.20" y="1306.00" width="28.0" height="16.6" fill="#006c00"/>
<rect x="760.18" y="1306.00" width="28.0" height="16.6" fill="#006c00"/>
<rect x="791.16" y="1306.00" width="28.0" height="16.6" fill="#006c00"/>
<rect x="822.14" y="1306.00" width="28.0" height="16.6" fill="#ff0000"/>
<rect x="853.12" y="1306.00" width="28.0" height="16.6" fill="#3c0000"/>
<rect x="884.10" y="1306.00" width="28.0" height="16.6" fill="#ff0000"/>
<rect x="915.08" y="1306.00" width="28.0" height="16.6" fill="#c80000"/>
<rect x="574.30" y="1325.05" width="28.0" height="16.6" fill="#006c00"/>
<rect x="605.28" y="1325.05" width="28.0" height="16.6" fill="#006c00"/>
<rect x="636.26" y="1325.05" width="28.0" height="16.6" fill="#006c00"/>
<rect x="667.24" y="1325.05" width="28.0" height="16.6" fill="#006c00"/>
<rect x="698.22" y="1325.05" width="28.0" height="16.6" fill="#006c00"/>
<rect x="729.20" y="1325.05" width="28.0" height="16.6" fill="#006c00"/>
<rect x="760.18" y="1325.05" width="28.0" height="16.6" fill="#006c00"/>
<rect x="791.16" y="1325.05" width="28.0" height="16.6" fill="#006c00"/>
<rect x="822.14" y="1325.05" width="28.0" height="16.6" fill="#ff0000"/>
<rect x="853.12" y="1325.05" width="28.0" height="16.6" fill="#6e0000"/>
<rect x="884.10" y="1325.05" width="28.0" height="16.6" fill="#ff0000"/>
<rect x="915.08" y="1325.05" width="28.0" height="16.6" fill="#a00000"/>
<rect x="574.30" y="1344.10" width="28.0" height="16.6" fill="#006700"/>
<rect x="605.28" y="1344.10" width="28.0" height="16.6" fill="#006700"/>
<rect x="636.26" y="1344.10" width="28.0" height="16.6" fill="#006700"/>
<rect x="667.24" y="1344.10" width="28.0" height="16.6" fill="#006700"/>
<rect x="698.22" y="1344.10" width="28.0" height="16.6" fill="#006700"/>
<rect x="729.20" y="1344.10" width="28.0" height="16.6" fill="#006700"/>
<rect x="760.18" y="1344.10" width="28.0" height="16.6" fill="#006700"/>
<rect x="791.16" y="1344.10" width="28.0" height="16.6" fill="#006700"/>
<rect x="822.14" y="1344.10" width="28.0" height="16.6" fill="#ff0000"/>
<rect x="853.12" y="1344.10" width="28.0" height="16.6" fill="#460000"/>
<rect x="884.10" y="1344.10" width="28.0" height="16.6" fill="#dc0000"/>
<rect x="915.08" y="1344.10" width="28.0" height="16.6" fill="#be0000"/>
<rect x="574.30" y="1363.15" width="28.0" height="16.6" fill="#006700"/>
<rect x="605.28" y="1363.15" width="28.0" height="16.6" fill="#006700"/>
<rect x="636.26" y="1363.15" width="28.0" height="16.6" fill="#006700"/>
<rect x="667.24" y="1363.15" width="28.0" height="16.6" fill="#006700"/>
<rect x="698.22" y="1363.15" width="28.0" height="16.6" fill="#006700"/>
<rect x="729.20" y="1363.15" width="28.0" height="16.6" fill="#006700"/>
<rect x="760.18" y="1363.15" width="28.0" height="16.6" fill="#006700"/>
<rect x="791.16" y="1363.15" width="28.0" height="16.6" fill="#006700"/>
<rect x="822.14" y="1363.15" width="28.0" height="16.6" fill="#ff0000"/>
<rect x="853.12" y="1363.15" width="28.0" height="16.6" fill="#3c0000"/>
<rect x="884.10" y="1363.15" width="28.0" height="16.6" fill="#e60000"/>
<rect x="915.08" y="1363.15" width="28.0" height="16.6" fill="#be0000"/>
<rect x="574.30" y="1382.20" width="28.0" height="16.6" fill="#006700"/>
<rect x="605.28" y="1382.20" width="28.0" height="16.6" fill="#006700"/>
<rect x="636.26" y="1382.20" width="28.0" height="16.6" fill="#006700"/>
<rect x="667.24" y="1382.20" width="28.0" height="16.6" fill="#006700"/>
<rect x="698.22" y="1382.20" width="28.0" height="16.6" fill="#006700"/>
<rect x="729.20" y="1382.20" width="28.0" height="16.6" fill="#006700"/>
<rect x="760.18" y="1382.20" width="28.0" height="16.6" fill="#006700"/>
<rect x="791.16" y="1382.20" width="28.0" height="16.6" fill="#006700"/>
<rect x="822.14" y="1382.20" width="28.0" height="16.6" fill="#dc0000"/>
<rect x="853.12" y="1382.20" width="28.0" height="16.6" fill="#460000"/>
<rect x="884.10" y="1382.20" width="28.0" height="16.6" fill="#f00000"/>
<rect x="915.08" y="1382.20" width="28.0" height="16.6" fill="#c80000"/>
<rect x="574.30" y="1401.25" width="28.0" height="16.6" fill="#006700"/>
<rect x="605.28" y="1401.25" width="28.0" height="16.6" fill="#006700"/>
<rect x="636.26" y="1401.25" width="28.0" height="16.6" fill="#006700"/>
<rect x="667.24" y="1401.25" width="28.0" height="16.6" fill="#006700"/>
<rect x="698.22" y="1401.25" width="28.0" height="16.6" fill="#006700"/>
<rect x="729.20" y="1401.25" width="28.0" height="16.6" fill="#006700"/>
<rect x="760.18" y="1401.25" width="28.0" height="16.6" fill="#006700"/>
<rect x="791.16" y="1401.25" width="28.0" height="16.6" fill="#006700"/>
<rect x="822.14" y="1401.25" width="28.0" height="16.6" fill="#dc0000"/>
<rect x="853.12" y="1401.25" width="28.0" height="16.6" fill="#640000"/>
<rect x="884.10" y="1401.25" width="28.0" height="16.6" fill="#e60000"/>
<rect x="915.08" y="1401.25" width="28.0" height="16.6" fill="#c80000"/>
<rect x="574.30" y="1420.30" width="28.0" height="16.6" fill="#006700"/>
<rect x="605.28" y="1420.30" width="28.0" height="16.6" fill="#006700"/>
<rect x="636.26" y="1420.30" width="28.0" height="16.6" fill="#006700"/>
<rect x="667.24" y="1420.30" width="28.0" height="16.6" fill="#006700"/>
<rect x="698.22" y="1420.30" width="28.0" height="16.6" fill="#006700"/>
<rect x="729.20" y="1420.30" width="28.0" height="16.6" fill="#006700"/>
<rect x="760.18" y="1420.30" width="28.0" height="16.6" fill="#006700"/>
<rect x="791.16" y="1420.30" width="28.0" height="16.6" fill="#006700"/>
<rect x="822.14" y="1420.30" width="28.0" height="16.6" fill="#ff0000"/>
<rect x="853.12" y="1420.30" width="28.0" height="16.6" fill="#640000"/>
<rect x="884.10" y="1420.30" width="28.0" height="16.6" fill="#dc0000"/>
<rect x="915.08" y="1420.30" width="28.0" height="16.6" fill="#be0000"/>
<rect x="574.30" y="1439.35" width="28.0" height="16.6" fill="#006700"/>
<rect x="605.28" y="1439.35" width="28.0" height="16.6" fill="#006700"/>
<rect x="636.26" y="1439.35" width="28.0" height="16.6" fill="#006700"/>
<rect x="667.24" y="1439.35" width="28.0" height="16.6" fill="#006700"/>
<rect x="698.22" y="1439.35" width="28.0" height="16.6" fill="#006700"/>
<rect x="729.20" y="1439.35" width="28.0" height="16.6" fill="#006700"/>
<rect x="760.18" y="1439.35" width="28.0" height="16.6" fill="#006700"/>
<rect x="791.16" y="1439.35" width="28.0" height="16.6" fill="#006700"/>
<rect x="822.14" y="1439.35" width="28.0" height="16.6" fill="#ff0000"/>
<rect x="853.12" y="1439.35" width="28.0" height="16.6" fill="#780000"/>
<rect x="884.10" y="1439.35" width="28.0" height="16.6" fill="#d20000"/>
<rect x="915.08" y="1439.35" width="28.0" height="16.6" fill="#be0000"/>
<rect x="574.30" y="1458.40" width="28.0" height="16.6" fill="#006700"/>
<rect x="605.28" y="1458.40" width="28.0" height="16.6" fill="#006700"/>
<rect x="636.26" y="1458.40" width="28.0" height="16.6" fill="#006700"/>
<rect x="667.24" y="1458.40" width="28.0" height="16.6" fill="#006700"/>
<rect x="698.22" y="1458.40" width="28.0" height="16.6" fill="#006700"/>
<rect x="729.20" y="1458.40" width="28.0" height="16.6" fill="#006700"/>
<rect x="760.18" y="1458.40" width="28.0" height="16.6" fill="#006700"/>
<rect x="791.16" y="1458.40" width="28.0" height="16.6" fill="#006700"/>
<rect x="822.14" y="1458.40" width="28.0" height="16.6" fill="#ff0000"/>
<rect x="853.12" y="1458.40" width="28.0" height="16.6" fill="#780000"/>
<rect x="884.10" y="1458.40" width="28.0" height="16.6" fill="#dc0000"/>
<rect x="915.08" y="1458.40" width="28.0" height="16.6" fill="#d20000"/>
<rect x="574.30" y="1477.45" width="28.0" height="16.6" fill="#006700"/>
<rect x="605.28" y="1477.45" width="28.0" height="16.6" fill="#006700"/>
<rect x="636.26" y="1477.45" width="28.0" height="16.6" fill="#006700"/>
<rect x="667.24" y="1477.45" width="28.0" height="16.6" fill="#006700"/>
<rect x="698.22" y="1477.45" width="28.0" height="16.6" fill="#006700"/>
<rect x="729.20" y="1477.45" width="28.0" height="16.6" fill="#006700"/>
<rect x="760.18" y="1477.45" width="28.0" height="16.6" fill="#006700"/>
<rect x="791.16" y="1477.45" width="28.0" height="16.6" fill="#006700"/>
<rect x="822.14" y="1477.45" width="28.0" height="16.6" fill="#ff0000"/>
<rect x="853.12" y="1477.45" width="28.0" height="16.6" fill="#820000"/>
<rect x="884.10" y="1477.45" width="28.0" height="16.6" fill="#d20000"/>
<rect x="915.08" y="1477.45" width="28.0" height="16.6" fill="#d20000"/>
<rect x="574.30" y="1496.50" width="28.0" height="16.6" fill="#006700"/>
<rect x="605.28" y="1496.50" width="28.0" height="16.6" fill="#006700"/>
<rect x="636.26" y="1496.50" width="28.0" height="16.6" fill="#006700"/>
<rect x="667.24" y="1496.50" width="28.0" height="16.6" fill="#006700"/>
<rect x="698.22" y="1496.50" width="28.0" height="16.6" fill="#006700"/>
<rect x="729.20" y="1496.50" width="28.0" height="16.6" fill="#006700"/>
<rect x="760.18" y="1496.50" width="28.0" height="16.6" fill="#006700"/>
<rect x="791.16" y="1496.50" width="28.0" height="16.6" fill="#006700"/>
<rect x="822.14" y="1496.50" width="28.0" height="16.6" fill="#ff0000"/>
<rect x="853.12" y="1496.50" width="28.0" height="16.6" fill="#280000"/>
<rect x="884.10" y="1496.50" width="28.0" height="16.6" fill="#8c0000"/>
<rect x="915.08" y="1496.50" width="28.0" height="16.6" fill="#ff0000"/>
<rect x="574.30" y="1515.55" width="28.0" height="16.6" fill="#006700"/>
<rect x="605.28" y="1515.55" width="28.0" height="16.6" fill="#006700"/>
<rect x="636.26" y="1515.55" width="28.0" height="16.6" fill="#006700"/>
<rect x="667.24" y="1515.55" width="28.0" height="16.6" fill="#006700"/>
<rect x="698.22" y="1515.55" width="28.0" height="16.6" fill="#006700"/>
<rect x="729.20" y="1515.55" width="28.0" height="16.6" fill="#006700"/>
<rect x="760.18" y="1515.55" width="28.0" height="16.6" fill="#006700"/>
<rect x="791.16" y="1515.55" width="28.0" height="16.6" fill="#006700"/>
<rect x="822.14" y="1515.55" width="28.0" height="16.6" fill="#ff0000"/>
<rect x="853.12" y="1515.55" width="28.0" height="16.6" fill="#000000"/>
<rect x="884.10" y="1515.55" width="28.0" height="16.6" fill="#e60000"/>
<rect x="915.08" y="1515.55" width="28.0" height="16.6" fill="#ff0000"/>
<rect x="574.30" y="1534.60" width="28.0" height="16.6" fill="#006700"/>
<rect x="605.28" y="1534.60" width="28.0" height="16.6" fill="#006700"/>
<rect x="636.26" y="1534.60" width="28.0" height="16.6" fill="#006700"/>
<rect x="667.24" y="1534.60" width="28.0" height="16.6" fill="#006700"/>
<rect x="698.22" y="1534.60" width="28.0" height="16.6" fill="#006700"/>
<rect x="729.20" y="1534.60" width="28.0" height="16.6" fill="#006700"/>
<rect x="760.18" y="1534.60" width="28.0" height="16.6" fill="#006700"/>
<rect x="791.16" y="1534.60" width="28.0" height="16.6" fill="#006700"/>
<rect x="822.14" y="1534.60" width="28.0" height="16.6" fill="#ff0000"/>
<rect x="853.12" y="1534.60" width="28.0" height="16.6" fill="#1e0000"/>
<rect x="884.10" y="1534.60" width="28.0" height="16.6" fill="#c80000"/>
<rect x="915.08" y="1534.60" width="28.0" height="16.6" fill="#ff0000"/>
<rect x="574.30" y="1553.65" width="28.0" height="16.6" fill="#006700"/>
<rect x="605.28" y="1553.65" width="28.0" height="16.6" fill="#006700"/>
<rect x="636.26" y="1553.65" width="28.0" height="16.6" fill="#006700"/>
<rect x="667.24" y="1553.65" width="28.0" height="16.6" fill="#006700"/>
<rect x="698.22" y="1553.65" width="28.0" height="16.6" fill="#006700"/>
<rect x="729.20" y="1553.65" width="28.0" height="16.6" fill="#006700"/>
<rect x="760.18" y="1553.65" width="28.0" height="16.6" fill="#006700"/>
<rect x="791.16" y="1553.65" width="28.0" height="16.6" fill="#006700"/>
<rect x="822.14" y="1553.65" width="28.0" height="16.6" fill="#ff0000"/>
<rect x="853.12" y="1553.65" width="28.0" height="16.6" fill="#280000"/>
<rect x="884.10" y="1553.65" width="28.0" height="16.6" fill="#be0000"/>
<rect x="915.08" y="1553.65" width="28.0" height="16.6" fill="#ff0000"/>
<rect x="574.30" y="1572.70" width="28.0" height="16.6" fill="#006100"/>
<rect x="605.28" y="1572.70" width="28.0" height="16.6" fill="#006100"/>
<rect x="636.26" y="1572.70" width="28.0" height="16.6" fill="#006100"/>
<rect x="667.24" y="1572.70" width="28.0" height="16.6" fill="#006100"/>
<rect x="698.22" y="1572.70" width="28.0" height="16.6" fill="#006100"/>
<rect x="729.20" y="1572.70" width="28.0" height="16.6" fill="#006100"/>
<rect x="760.18" y="1572.70" width="28.0" height="16.6" fill="#006100"/>
<rect x="791.16" y="1572.70" width="28.0" height="16.6" fill="#006100"/>
<rect x="822.14" y="1572.70" width="28.0" height="16.6" fill="#ff0000"/>
<rect x="853.12" y="1572.70" width="28.0" height="16.6" fill="#0a0000"/>
<rect x="884.10" y="1572.70" width="28.0" height="16.6" fill="#dc0000"/>
<rect x="915.08" y="1572.70" width="28.0" height="16.6" fill="#ff0000"/>
<rect x="574.30" y="1591.75" width="28.0" height="16.6" fill="#006100"/>
<rect x="605.28" y="1591.75" width="28.0" height="16.6" fill="#006100"/>
<rect x="636.26" y="1591.75" width="28.0" height="16.6" fill="#006100"/>
<rect x="667.24" y="1591.75" width="28.0" height="16.6" fill="#006100"/>
<rect x="698.22" y="1591.75" width="28.0" height="16.6" fill="#006100"/>
<rect x="729.20" y="1591.75" width="28.0" height="16.6" fill="#006100"/>
<rect x="760.18" y="1591.75" width="28.0" height="16.6" fill="#006100"/>
<rect x="791.16" y="1591.75" width="28.0" height="16.6" fill="#006100"/>
<rect x="822.14" y="1591.75" width="28.0" height="16.6" fill="#ff0000"/>
<rect x="853.12" y="1591.75" width="28.0" height="16.6" fill="#140000"/>
<rect x="884.10" y="1591.75" width="28.0" height="16.6" fill="#dc0000"/>
<rect x="915.08" y="1591.75" width="28.0" height="16.6" fill="#ff0000"/>
<rect x="574.30" y="1610.80" width="28.0" height="16.6" fill="#006100"/>
<rect x="605.28" y="1610.80" width="28.0" height="16.6" fill="#006100"/>
<rect x="636.26" y="1610.80" width="28.0" height="16.6" fill="#006100"/>
<rect x="667.24" y="1610.80" width="28.0" height="16.6" fill="#006100"/>
<rect x="698.22" y="1610.80" width="28.0" height="16.6" fill="#006100"/>
<rect x="729.20" y="1610.80" width="28.0" height="16.6" fill="#006100"/>
<rect x="760.18" y="1610.80" width="28.0" height="16.6" fill="#006100"/>
<rect x="791.16" y="1610.80" width="28.0" height="16.6" fill="#006100"/>
<rect x="822.14" y="1610.80" width="28.0" height="16.6" fill="#ff0000"/>
<rect x="853.12" y="1610.80" width="28.0" height="16.6" fill="#140000"/>
<rect x="884.10" y="1610.80" width="28.0" height="16.6" fill="#dc0000"/>
<rect x="915.08" y="1610.80" width="28.0" height="16.6" fill="#ff0000"/>
<rect x="574.30" y="1629.85" width="28.0" height="16.6" fill="#006700"/>
<rect x="605.28" y="1629.85" width="28.0" height="16.6" fill="#007700"/>
<rect x="636.26" y="1629.85" width="28.0" height="16.6" fill="#006c00"/>
<rect x="667.24" y="1629.85" width="28.0" height="16.6" fill="#006c00"/>
<rect x="698.22" y="1629.85" width="28.0" height="16.6" fill="#007700"/>
<rect x="729.20" y="1629.85" width="28.0" height="16.6" fill="#004c00"/>
<rect x="760.18" y="1629.85" width="28.0" height="16.6" fill="#005100"/>
<rect x="791.16" y="1629.85" width="28.0" height="16.6" fill="#008c00"/>
<rect x="822.14" y="1629.85" width="28.0" height="16.6" fill="#ff0000"/>
<rect x="853.12" y="1629.85" width="28.0" height="16.6" fill="#320000"/>
<rect x="884.10" y="1629.85" width="28.0" height="16.6" fill="#c80000"/>
<rect x="915.08" y="1629.85" width="28.0" height="16.6" fill="#ff0000"/>
<rect x="574.30" y="1648.90" width="28.0" height="16.6" fill="#006c00"/>
<rect x="605.28" y="1648.90" width="28.0" height="16.6" fill="#006c00"/>
<rect x="636.26" y="1648.90" width="28.0" height="16.6" fill="#006c00"/>
<rect x="667.24" y="1648.90" width="28.0" height="16.6" fill="#006c00"/>
<rect x="698.22" y="1648.90" width="28.0" height="16.6" fill="#006c00"/>
<rect x="729.20" y="1648.90" width="28.0" height="16.6" fill="#005600"/>
<rect x="760.18" y="1648.90" width="28.0" height="16.6" fill="#006100"/>
<rect x="791.16" y="1648.90" width="28.0" height="16.6" fill="#006c00"/>
<rect x="822.14" y="1648.90" width="28.0" height="16.6" fill="#e60000"/>
<rect x="853.12" y="1648.90" width="28.0" height="16.6" fill="#320000"/>
<rect x="884.10" y="1648.90" width="28.0" height="16.6" fill="#c80000"/>
<rect x="915.08" y="1648.90" width="28.0" height="16.6" fill="#ff0000"/>
<rect x="574.30" y="1667.95" width="28.0" height="16.6" fill="#006c00"/>
<rect x="605.28" y="1667.95" width="28.0" height="16.6" fill="#006c00"/>
<rect x="636.26" y="1667.95" width="28.0" height="16.6" fill="#006c00"/>
<rect x="667.24" y="1667.95" width="28.0" height="16.6" fill="#006c00"/>
<rect x="698.22" y="1667.95" width="28.0" height="16.6" fill="#006c00"/>
<rect x="729.20" y="1667.95" width="28.0" height="16.6" fill="#006c00"/>
<rect x="760.18" y="1667.95" width="28.0" height="16.6" fill="#006c00"/>
<rect x="791.16" y="1667.95" width="28.0" height="16.6" fill="#006c00"/>
<rect x="822.14" y="1667.95" width="28.0" height="16.6" fill="#ff0000"/>
<rect x="853.12" y="1667.95" width="28.0" height="16.6" fill="#320000"/>
<rect x="884.10" y="1667.95" width="28.0" height="16.6" fill="#b40000"/>
<rect x="915.08" y="1667.95" width="28.0" height="16.6" fill="#ff0000"/>
<rect x="574.30" y="1687.00" width="28.0" height="16.6" fill="#006c00"/>
<rect x="605.28" y="1687.00" width="28.0" height="16.6" fill="#006c00"/>
<rect x="636.26" y="1687.00" width="28.0" height="16.6" fill="#006c00"/>
<rect x="667.24" y="1687.00" width="28.0" height="16.6" fill="#006c00"/>
<rect x="698.22" y="1687.00" width="28.0" height="16.6" fill="#006c00"/>
<rect x="729.20" y="1687.00" width="28.0" height="16.6" fill="#006c00"/>
<rect x="760.18" y="1687.00" width="28.0" height="16.6" fill="#006c00"/>
<rect x="791.16" y="1687.00" width="28.0" height="16.6" fill="#006c00"/>
<rect x="822.14" y="1687.00" width="28.0" height="16.6" fill="#ff0000"/>
<rect x="853.12" y="1687.00" width="28.0" height="16.6" fill="#460000"/>
<rect x="884.10" y="1687.00" width="28.0" height="16.6" fill="#c80000"/>
<rect x="915.08" y="1687.00" width="28.0" height="16.6" fill="#ff0000"/>
<rect x="574.30" y="1706.05" width="28.0" height="16.6" fill="#005600"/>
<rect x="605.28" y="1706.05" width="28.0" height="16.6" fill="#006700"/>
<rect x="636.26" y="1706.05" width="28.0" height="16.6" fill="#008c00"/>
<rect x="667.24" y="1706.05" width="28.0" height="16.6" fill="#006c00"/>
<rect x="698.22" y="1706.05" width="28.0" height="16.6" fill="#008c00"/>
<rect x="729.20" y="1706.05" width="28.0" height="16.6" fill="#000000"/>
<rect x="760.18" y="1706.05" width="28.0" height="16.6" fill="#006100"/>
<rect x="791.16" y="1706.05" width="28.0" height="16.6" fill="#009600"/>
<rect x="822.14" y="1706.05" width="28.0" height="16.6" fill="#b40000"/>
<rect x="853.12" y="1706.05" width="28.0" height="16.6" fill="#6e0000"/>
<rect x="884.10" y="1706.05" width="28.0" height="16.6" fill="#c80000"/>
<rect x="915.08" y="1706.05" width="28.0" height="16.6" fill="#ff0000"/>
<rect x="574.30" y="1725.10" width="28.0" height="16.6" fill="#006700"/>
<rect x="605.28" y="1725.10" width="28.0" height="16.6" fill="#008200"/>
<rect x="636.26" y="1725.10" width="28.0" height="16.6" fill="#009600"/>
<rect x="667.24" y="1725.10" width="28.0" height="16.6" fill="#008c00"/>
<rect x="698.22" y="1725.10" width="28.0" height="16.6" fill="#007700"/>
<rect x="729.20" y="1725.10" width="28.0" height="16.6" fill="#000b00"/>
<rect x="760.18" y="1725.10" width="28.0" height="16.6" fill="#003600"/>
<rect x="791.16" y="1725.10" width="28.0" height="16.6" fill="#008200"/>
<rect x="822.14" y="1725.10" width="28.0" height="16.6" fill="#dc0000"/>
<rect x="853.12" y="1725.10" width="28.0" height="16.6" fill="#780000"/>
<rect x="884.10" y="1725.10" width="28.0" height="16.6" fill="#c80000"/>
<rect x="915.08" y="1725.10" width="28.0" height="16.6" fill="#ff0000"/>
<rect x="574.30" y="1744.15" width="28.0" height="16.6" fill="#006c00"/>
<rect x="605.28" y="1744.15" width="28.0" height="16.6" fill="#006c00"/>
<rect x="636.26" y="1744.15" width="28.0" height="16.6" fill="#006c00"/>
<rect x="667.24" y="1744.15" width="28.0" height="16.6" fill="#006c00"/>
<rect x="698.22" y="1744.15" width="28.0" height="16.6" fill="#006100"/>
<rect x="729.20" y="1744.15" width="28.0" height="16.6" fill="#004100"/>
<rect x="760.18" y="1744.15" width="28.0" height="16.6" fill="#005100"/>
<rect x="791.16" y="1744.15" width="28.0" height="16.6" fill="#006700"/>
<rect x="822.14" y="1744.15" width="28.0" height="16.6" fill="#960000"/>
<rect x="853.12" y="1744.15" width="28.0" height="16.6" fill="#280000"/>
<rect x="884.10" y="1744.15" width="28.0" height="16.6" fill="#ff0000"/>
<rect x="915.08" y="1744.15" width="28.0" height="16.6" fill="#ff0000"/>
<rect x="574.30" y="1763.20" width="28.0" height="16.6" fill="#006c00"/>
<rect x="605.28" y="1763.20" width="28.0" height="16.6" fill="#006c00"/>
<rect x="636.26" y="1763.20" width="28.0" height="16.6" fill="#006c00"/>
<rect x="667.24" y="1763.20" width="28.0" height="16.6" fill="#006c00"/>
<rect x="698.22" y="1763.20" width="28.0" height="16.6" fill="#006c00"/>
<rect x="729.20" y="1763.20" width="28.0" height="16.6" fill="#003600"/>
<rect x="760.18" y="1763.20" width="28.0" height="16.6" fill="#006100"/>
<rect x="791.16" y="1763.20" width="28.0" height="16.6" fill="#005600"/>
<rect x="822.14" y="1763.20" width="28.0" height="16.6" fill="#d20000"/>
<rect x="853.12" y="1763.20" width="28.0" height="16.6" fill="#460000"/>
<rect x="884.10" y="1763.20" width="28.0" height="16.6" fill="#c80000"/>
<rect x="915.08" y="1763.20" width="28.0" height="16.6" fill="#ff0000"/>
<rect x="574.30" y="1782.25" width="28.0" height="16.6" fill="#006c00"/>
<rect x="605.28" y="1782.25" width="28.0" height="16.6" fill="#006c00"/>
<rect x="636.26" y="1782.25" width="28.0" height="16.6" fill="#006c00"/>
<rect x="667.24" y="1782.25" width="28.0" height="16.6" fill="#006c00"/>
<rect x="698.22" y="1782.25" width="28.0" height="16.6" fill="#006c00"/>
<rect x="729.20" y="1782.25" width="28.0" height="16.6" fill="#006c00"/>
<rect x="760.18" y="1782.25" width="28.0" height="16.6" fill="#002000"/>
<rect x="791.16" y="1782.25" width="28.0" height="16.6" fill="#006100"/>
<rect x="822.14" y="1782.25" width="28.0" height="16.6" fill="#780000"/>
<rect x="853.12" y="1782.25" width="28.0" height="16.6" fill="#aa0000"/>
<rect x="884.10" y="1782.25" width="28.0" height="16.6" fill="#e60000"/>
<rect x="915.08" y="1782.25" width="28.0" height="16.6" fill="#e60000"/>
<rect x="574.30" y="1801.30" width="28.0" height="16.6" fill="#006c00"/>
<rect x="605.28" y="1801.30" width="28.0" height="16.6" fill="#007100"/>
<rect x="636.26" y="1801.30" width="28.0" height="16.6" fill="#007100"/>
<rect x="667.24" y="1801.30" width="28.0" height="16.6" fill="#007100"/>
<rect x="698.22" y="1801.30" width="28.0" height="16.6" fill="#006100"/>
<rect x="729.20" y="1801.30" width="28.0" height="16.6" fill="#005c00"/>
<rect x="760.18" y="1801.30" width="28.0" height="16.6" fill="#006100"/>
<rect x="791.16" y="1801.30" width="28.0" height="16.6" fill="#006100"/>
<rect x="822.14" y="1801.30" width="28.0" height="16.6" fill="#aa0000"/>
<rect x="853.12" y="1801.30" width="28.0" height="16.6" fill="#c80000"/>
<rect x="884.10" y="1801.30" width="28.0" height="16.6" fill="#f00000"/>
<rect x="915.08" y="1801.30" width="28.0" height="16.6" fill="#aa0000"/>
<rect x="574.30" y="1820.35" width="28.0" height="16.6" fill="#006100"/>
<rect x="605.28" y="1820.35" width="28.0" height="16.6" fill="#006100"/>
<rect x="636.26" y="1820.35" width="28.0" height="16.6" fill="#006100"/>
<rect x="667.24" y="1820.35" width="28.0" height="16.6" fill="#006100"/>
<rect x="698.22" y="1820.35" width="28.0" height="16.6" fill="#005c00"/>
<rect x="729.20" y="1820.35" width="28.0" height="16.6" fill="#005c00"/>
<rect x="760.18" y="1820.35" width="28.0" height="16.6" fill="#005c00"/>
<rect x="791.16" y="1820.35" width="28.0" height="16.6" fill="#005c00"/>
<rect x="822.14" y="1820.35" width="28.0" height="16.6" fill="#b40000"/>
<rect x="853.12" y="1820.35" width="28.0" height="16.6" fill="#e60000"/>
<rect x="884.10" y="1820.35" width="28.0" height="16.6" fill="#be0000"/>
<rect x="915.08" y="1820.35" width="28.0" height="16.6" fill="#c80000"/>
<rect x="574.30" y="1839.40" width="28.0" height="16.6" fill="#1e0000"/>
<rect x="605.28" y="1839.40" width="28.0" height="16.6" fill="#140000"/>
<rect x="636.26" y="1839.40" width="28.0" height="16.6" fill="#280000"/>
<rect x="667.24" y="1839.40" width="28.0" height="16.6" fill="#001b00"/>
<rect x="698.22" y="1839.40" width="28.0" height="16.6" fill="#00a000"/>
<rect x="729.20" y="1839.40" width="28.0" height="16.6" fill="#00a500"/>
<rect x="760.18" y="1839.40" width="28.0" height="16.6" fill="#00a000"/>
<rect x="791.16" y="1839.40" width="28.0" height="16.6" fill="#00a500"/>
<rect x="822.14" y="1839.40" width="28.0" height="16.6" fill="#1e0000"/>
<rect x="853.12" y="1839.40" width="28.0" height="16.6" fill="#500000"/>
<rect x="884.10" y="1839.40" width="28.0" height="16.6" fill="#aa0000"/>
<rect x="915.08" y="1839.40" width="28.0" height="16.6" fill="#ff0000"/>
<rect x="574.30" y="1858.45" width="28.0" height="16.6" fill="#1e0000"/>
<rect x="605.28" y="1858.45" width="28.0" height="16.6" fill="#320000"/>
<rect x="636.26" y="1858.45" width="28.0" height="16.6" fill="#001600"/>
<rect x="667.24" y="1858.45" width="28.0" height="16.6" fill="#0f0000"/>
<rect x="698.22" y="1858.45" width="28.0" height="16.6" fill="#00aa00"/>
<rect x="729.20" y="1858.45" width="28.0" height="16.6" fill="#00aa00"/>
<rect x="760.18" y="1858.45" width="28.0" height="16.6" fill="#00aa00"/>
<rect x="791.16" y="1858.45" width="28.0" height="16.6" fill="#00aa00"/>
<rect x="822.14" y="1858.45" width="28.0" height="16.6" fill="#e60000"/>
<rect x="853.12" y="1858.45" width="28.0" height="16.6" fill="#3c0000"/>
<rect x="884.10" y="1858.45" width="28.0" height="16.6" fill="#820000"/>
<rect x="915.08" y="1858.45" width="28.0" height="16.6" fill="#d20000"/>
<rect x="574.30" y="1877.50" width="28.0" height="16.6" fill="#1e0000"/>
<rect x="605.28" y="1877.50" width="28.0" height="16.6" fill="#0a0000"/>
<rect x="636.26" y="1877.50" width="28.0" height="16.6" fill="#3c0000"/>
<rect x="667.24" y="1877.50" width="28.0" height="16.6" fill="#002000"/>
<rect x="698.22" y="1877.50" width="28.0" height="16.6" fill="#00be00"/>
<rect x="729.20" y="1877.50" width="28.0" height="16.6" fill="#008c00"/>
<rect x="760.18" y="1877.50" width="28.0" height="16.6" fill="#00b400"/>
<rect x="791.16" y="1877.50" width="28.0" height="16.6" fill="#00be00"/>
<rect x="822.14" y="1877.50" width="28.0" height="16.6" fill="#b40000"/>
<rect x="853.12" y="1877.50" width="28.0" height="16.6" fill="#3c0000"/>
<rect x="884.10" y="1877.50" width="28.0" height="16.6" fill="#b40000"/>
<rect x="915.08" y="1877.50" width="28.0" height="16.6" fill="#d20000"/>
<rect x="574.30" y="1896.55" width="28.0" height="16.6" fill="#1e0000"/>
<rect x="605.28" y="1896.55" width="28.0" height="16.6" fill="#0f0000"/>
<rect x="636.26" y="1896.55" width="28.0" height="16.6" fill="#320000"/>
<rect x="667.24" y="1896.55" width="28.0" height="16.6" fill="#140000"/>
<rect x="698.22" y="1896.55" width="28.0" height="16.6" fill="#00b400"/>
<rect x="729.20" y="1896.55" width="28.0" height="16.6" fill="#00b400"/>
<rect x="760.18" y="1896.55" width="28.0" height="16.6" fill="#00b400"/>
<rect x="791.16" y="1896.55" width="28.0" height="16.6" fill="#00b400"/>
<rect x="822.14" y="1896.55" width="28.0" height="16.6" fill="#b40000"/>
<rect x="853.12" y="1896.55" width="28.0" height="16.6" fill="#640000"/>
<rect x="884.10" y="1896.55" width="28.0" height="16.6" fill="#c80000"/>
<rect x="915.08" y="1896.55" width="28.0" height="16.6" fill="#aa0000"/>
<rect x="574.30" y="1915.60" width="28.0" height="16.6" fill="#190000"/>
<rect x="605.28" y="1915.60" width="28.0" height="16.6" fill="#190000"/>
<rect x="636.26" y="1915.60" width="28.0" height="16.6" fill="#190000"/>
<rect x="667.24" y="1915.60" width="28.0" height="16.6" fill="#190000"/>
<rect x="698.22" y="1915.60" width="28.0" height="16.6" fill="#00b400"/>
<rect x="729.20" y="1915.60" width="28.0" height="16.6" fill="#00b400"/>
<rect x="760.18" y="1915.60" width="28.0" height="16.6" fill="#00b400"/>
<rect x="791.16" y="1915.60" width="28.0" height="16.6" fill="#00b400"/>
<rect x="822.14" y="1915.60" width="28.0" height="16.6" fill="#be0000"/>
<rect x="853.12" y="1915.60" width="28.0" height="16.6" fill="#460000"/>
<rect x="884.10" y="1915.60" width="28.0" height="16.6" fill="#e60000"/>
<rect x="915.08" y="1915.60" width="28.0" height="16.6" fill="#960000"/>
<rect x="574.30" y="1934.65" width="28.0" height="16.6" fill="#001b00"/>
<rect x="605.28" y="1934.65" width="28.0" height="16.6" fill="#001600"/>
<rect x="636.26" y="1934.65" width="28.0" height="16.6" fill="#001b00"/>
<rect x="667.24" y="1934.65" width="28.0" height="16.6" fill="#002b00"/>
<rect x="698.22" y="1934.65" width="28.0" height="16.6" fill="#009600"/>
<rect x="729.20" y="1934.65" width="28.0" height="16.6" fill="#009600"/>
<rect x="760.18" y="1934.65" width="28.0" height="16.6" fill="#009600"/>
<rect x="791.16" y="1934.65" width="28.0" height="16.6" fill="#008c00"/>
<rect x="822.14" y="1934.65" width="28.0" height="16.6" fill="#be0000"/>
<rect x="853.12" y="1934.65" width="28.0" height="16.6" fill="#0a0000"/>
<rect x="884.10" y="1934.65" width="28.0" height="16.6" fill="#c80000"/>
<rect x="915.08" y="1934.65" width="28.0" height="16.6" fill="#ff0000"/>
<rect x="574.30" y="1953.70" width="28.0" height="16.6" fill="#002000"/>
<rect x="605.28" y="1953.70" width="28.0" height="16.6" fill="#004100"/>
<rect x="636.26" y="1953.70" width="28.0" height="16.6" fill="#002000"/>
<rect x="667.24" y="1953.70" width="28.0" height="16.6" fill="#004100"/>
<rect x="698.22" y="1953.70" width="28.0" height="16.6" fill="#008c00"/>
<rect x="729.20" y="1953.70" width="28.0" height="16.6" fill="#009600"/>
<rect x="760.18" y="1953.70" width="28.0" height="16.6" fill="#009600"/>
<rect x="791.16" y="1953.70" width="28.0" height="16.6" fill="#008c00"/>
<rect x="822.14" y="1953.70" width="28.0" height="16.6" fill="#a00000"/>
<rect x="853.12" y="1953.70" width="28.0" height="16.6" fill="#3c0000"/>
<rect x="884.10" y="1953.70" width="28.0" height="16.6" fill="#ff0000"/>
<rect x="915.08" y="1953.70" width="28.0" height="16.6" fill="#dc0000"/>
<rect x="574.30" y="1972.75" width="28.0" height="16.6" fill="#002000"/>
<rect x="605.28" y="1972.75" width="28.0" height="16.6" fill="#002600"/>
<rect x="636.26" y="1972.75" width="28.0" height="16.6" fill="#003100"/>
<rect x="667.24" y="1972.75" width="28.0" height="16.6" fill="#002b00"/>
<rect x="698.22" y="1972.75" width="28.0" height="16.6" fill="#009600"/>
<rect x="729.20" y="1972.75" width="28.0" height="16.6" fill="#009600"/>
<rect x="760.18" y="1972.75" width="28.0" height="16.6" fill="#009100"/>
<rect x="791.16" y="1972.75" width="28.0" height="16.6" fill="#008c00"/>
<rect x="822.14" y="1972.75" width="28.0" height="16.6" fill="#c80000"/>
<rect x="853.12" y="1972.75" width="28.0" height="16.6" fill="#280000"/>
<rect x="884.10" y="1972.75" width="28.0" height="16.6" fill="#dc0000"/>
<rect x="915.08" y="1972.75" width="28.0" height="16.6" fill="#e60000"/>
<rect x="574.30" y="1991.80" width="28.0" height="16.6" fill="#004100"/>
<rect x="605.28" y="1991.80" width="28.0" height="16.6" fill="#005100"/>
<rect x="636.26" y="1991.80" width="28.0" height="16.6" fill="#004600"/>
<rect x="667.24" y="1991.80" width="28.0" height="16.6" fill="#005600"/>
<rect x="698.22" y="1991.80" width="28.0" height="16.6" fill="#008200"/>
<rect x="729.20" y="1991.80" width="28.0" height="16.6" fill="#008200"/>
<rect x="760.18" y="1991.80" width="28.0" height="16.6" fill="#007700"/>
<rect x="791.16" y="1991.80" width="28.0" height="16.6" fill="#008200"/>
<rect x="822.14" y="1991.80" width="28.0" height="16.6" fill="#be0000"/>
<rect x="853.12" y="1991.80" width="28.0" height="16.6" fill="#500000"/>
<rect x="884.10" y="1991.80" width="28.0" height="16.6" fill="#780000"/>
<rect x="915.08" y="1991.80" width="28.0" height="16.6" fill="#ff0000"/>
<rect x="574.30" y="2010.85" width="28.0" height="16.6" fill="#004100"/>
<rect x="605.28" y="2010.85" width="28.0" height="16.6" fill="#000b00"/>
<rect x="636.26" y="2010.85" width="28.0" height="16.6" fill="#001600"/>
<rect x="667.24" y="2010.85" width="28.0" height="16.6" fill="#003600"/>
<rect x="698.22" y="2010.85" width="28.0" height="16.6" fill="#00aa00"/>
<rect x="729.20" y="2010.85" width="28.0" height="16.6" fill="#008200"/>
<rect x="760.18" y="2010.85" width="28.0" height="16.6" fill="#007700"/>
<rect x="791.16" y="2010.85" width="28.0" height="16.6" fill="#008200"/>
<rect x="822.14" y="2010.85" width="28.0" height="16.6" fill="#aa0000"/>
<rect x="853.12" y="2010.85" width="28.0" height="16.6" fill="#8c0000"/>
<rect x="884.10" y="2010.85" width="28.0" height="16.6" fill="#640000"/>
<rect x="915.08" y="2010.85" width="28.0" height="16.6" fill="#ff0000"/>
<rect x="574.30" y="2029.90" width="28.0" height="16.6" fill="#003100"/>
<rect x="605.28" y="2029.90" width="28.0" height="16.6" fill="#003600"/>
<rect x="636.26" y="2029.90" width="28.0" height="16.6" fill="#002b00"/>
<rect x="667.24" y="2029.90" width="28.0" height="16.6" fill="#003600"/>
<rect x="698.22" y="2029.90" width="28.0" height="16.6" fill="#008c00"/>
<rect x="729.20" y="2029.90" width="28.0" height="16.6" fill="#008c00"/>
<rect x="760.18" y="2029.90" width="28.0" height="16.6" fill="#008c00"/>
<rect x="791.16" y="2029.90" width="28.0" height="16.6" fill="#008c00"/>
<rect x="822.14" y="2029.90" width="28.0" height="16.6" fill="#ff0000"/>
<rect x="853.12" y="2029.90" width="28.0" height="16.6" fill="#8c0000"/>
<rect x="884.10" y="2029.90" width="28.0" height="16.6" fill="#500000"/>
<rect x="915.08" y="2029.90" width="28.0" height="16.6" fill="#ff0000"/>
<rect x="574.30" y="2048.95" width="28.0" height="16.6" fill="#002600"/>
<rect x="605.28" y="2048.95" width="28.0" height="16.6" fill="#004100"/>
<rect x="636.26" y="2048.95" width="28.0" height="16.6" fill="#002b00"/>
<rect x="667.24" y="2048.95" width="28.0" height="16.6" fill="#003b00"/>
<rect x="698.22" y="2048.95" width="28.0" height="16.6" fill="#009600"/>
<rect x="729.20" y="2048.95" width="28.0" height="16.6" fill="#009600"/>
<rect x="760.18" y="2048.95" width="28.0" height="16.6" fill="#009600"/>
<rect x="791.16" y="2048.95" width="28.0" height="16.6" fill="#009100"/>
<rect x="822.14" y="2048.95" width="28.0" height="16.6" fill="#c80000"/>
<rect x="853.12" y="2048.95" width="28.0" height="16.6" fill="#3c0000"/>
<rect x="884.10" y="2048.95" width="28.0" height="16.6" fill="#c80000"/>
<rect x="915.08" y="2048.95" width="28.0" height="16.6" fill="#f00000"/>
<rect x="574.30" y="2068.00" width="28.0" height="16.6" fill="#002000"/>
<rect x="605.28" y="2068.00" width="28.0" height="16.6" fill="#003600"/>
<rect x="636.26" y="2068.00" width="28.0" height="16.6" fill="#001b00"/>
<rect x="667.24" y="2068.00" width="28.0" height="16.6" fill="#003b00"/>
<rect x="698.22" y="2068.00" width="28.0" height="16.6" fill="#009600"/>
<rect x="729.20" y="2068.00" width="28.0" height="16.6" fill="#009600"/>
<rect x="760.18" y="2068.00" width="28.0" height="16.6" fill="#009600"/>
<rect x="791.16" y="2068.00" width="28.0" height="16.6" fill="#009600"/>
<rect x="822.14" y="2068.00" width="28.0" height="16.6" fill="#d20000"/>
<rect x="853.12" y="2068.00" width="28.0" height="16.6" fill="#780000"/>
<rect x="884.10" y="2068.00" width="28.0" height="16.6" fill="#aa0000"/>
<rect x="915.08" y="2068.00" width="28.0" height="16.6" fill="#ff0000"/>
<rect x="574.30" y="2087.05" width="28.0" height="16.6" fill="#000b00"/>
<rect x="605.28" y="2087.05" width="28.0" height="16.6" fill="#001b00"/>
<rect x="636.26" y="2087.05" width="28.0" height="16.6" fill="#002b00"/>
<rect x="667.24" y="2087.05" width="28.0" height="16.6" fill="#002b00"/>
<rect x="698.22" y="2087.05" width="28.0" height="16.6" fill="#00a000"/>
<rect x="729.20" y="2087.05" width="28.0" height="16.6" fill="#00a000"/>
<rect x="760.18" y="2087.05" width="28.0" height="16.6" fill="#00a000"/>
<rect x="791.16" y="2087.05" width="28.0" height="16.6" fill="#00a000"/>
<rect x="822.14" y="2087.05" width="28.0" height="16.6" fill="#ff0000"/>
<rect x="853.12" y="2087.05" width="28.0" height="16.6" fill="#5a0000"/>
<rect x="884.10" y="2087.05" width="28.0" height="16.6" fill="#960000"/>
<rect x="915.08" y="2087.05" width="28.0" height="16.6" fill="#dc0000"/>
<rect x="574.30" y="2106.10" width="28.0" height="16.6" fill="#002000"/>
<rect x="605.28" y="2106.10" width="28.0" height="16.6" fill="#002600"/>
<rect x="636.26" y="2106.10" width="28.0" height="16.6" fill="#003100"/>
<rect x="667.24" y="2106.10" width="28.0" height="16.6" fill="#002b00"/>
<rect x="698.22" y="2106.10" width="28.0" height="16.6" fill="#009600"/>
<rect x="729.20" y="2106.10" width="28.0" height="16.6" fill="#009600"/>
<rect x="760.18" y="2106.10" width="28.0" height="16.6" fill="#009600"/>
<rect x="791.16" y="2106.10" width="28.0" height="16.6" fill="#009600"/>
<rect x="822.14" y="2106.10" width="28.0" height="16.6" fill="#c80000"/>
<rect x="853.12" y="2106.10" width="28.0" height="16.6" fill="#820000"/>
<rect x="884.10" y="2106.10" width="28.0" height="16.6" fill="#780000"/>
<rect x="915.08" y="2106.10" width="28.0" height="16.6" fill="#ff0000"/>
<rect x="574.30" y="2125.15" width="28.0" height="16.6" fill="#002000"/>
<rect x="605.28" y="2125.15" width="28.0" height="16.6" fill="#1e0000"/>
<rect x="636.26" y="2125.15" width="28.0" height="16.6" fill="#820000"/>
<rect x="667.24" y="2125.15" width="28.0" height="16.6" fill="#ff0000"/>
<rect x="698.22" y="2125.15" width="28.0" height="16.6" fill="#005600"/>
<rect x="729.20" y="2125.15" width="28.0" height="16.6" fill="#005600"/>
<rect x="760.18" y="2125.15" width="28.0" height="16.6" fill="#004c00"/>
<rect x="791.16" y="2125.15" width="28.0" height="16.6" fill="#005100"/>
<rect x="822.14" y="2125.15" width="28.0" height="16.6" fill="#005100"/>
<rect x="853.12" y="2125.15" width="28.0" height="16.6" fill="#005600"/>
<rect x="884.10" y="2125.15" width="28.0" height="16.6" fill="#005600"/>
<rect x="915.08" y="2125.15" width="28.0" height="16.6" fill="#005100"/>
<rect x="574.30" y="2144.20" width="28.0" height="16.6" fill="#460000"/>
<rect x="605.28" y="2144.20" width="28.0" height="16.6" fill="#0a0000"/>
<rect x="636.26" y="2144.20" width="28.0" height="16.6" fill="#640000"/>
<rect x="667.24" y="2144.20" width="28.0" height="16.6" fill="#ff0000"/>
<rect x="698.22" y="2144.20" width="28.0" height="16.6" fill="#005100"/>
<rect x="729.20" y="2144.20" width="28.0" height="16.6" fill="#005600"/>
<rect x="760.18" y="2144.20" width="28.0" height="16.6" fill="#005600"/>
<rect x="791.16" y="2144.20" width="28.0" height="16.6" fill="#005600"/>
<rect x="822.14" y="2144.20" width="28.0" height="16.6" fill="#005600"/>
<rect x="853.12" y="2144.20" width="28.0" height="16.6" fill="#005600"/>
<rect x="884.10" y="2144.20" width="28.0" height="16.6" fill="#005600"/>
<rect x="915.08" y="2144.20" width="28.0" height="16.6" fill="#005600"/>
<rect x="574.30" y="2163.25" width="28.0" height="16.6" fill="#be0000"/>
<rect x="605.28" y="2163.25" width="28.0" height="16.6" fill="#8c0000"/>
<rect x="636.26" y="2163.25" width="28.0" height="16.6" fill="#6e0000"/>
<rect x="667.24" y="2163.25" width="28.0" height="16.6" fill="#be0000"/>
<rect x="698.22" y="2163.25" width="28.0" height="16.6" fill="#005600"/>
<rect x="729.20" y="2163.25" width="28.0" height="16.6" fill="#c80000"/>
<rect x="760.18" y="2163.25" width="28.0" height="16.6" fill="#001600"/>
<rect x="791.16" y="2163.25" width="28.0" height="16.6" fill="#002b00"/>
<rect x="822.14" y="2163.25" width="28.0" height="16.6" fill="#009600"/>
<rect x="853.12" y="2163.25" width="28.0" height="16.6" fill="#009600"/>
<rect x="884.10" y="2163.25" width="28.0" height="16.6" fill="#00a000"/>
<rect x="915.08" y="2163.25" width="28.0" height="16.6" fill="#009600"/>
<rect x="574.30" y="2182.30" width="28.0" height="16.6" fill="#8c0000"/>
<rect x="605.28" y="2182.30" width="28.0" height="16.6" fill="#a00000"/>
<rect x="636.26" y="2182.30" width="28.0" height="16.6" fill="#b40000"/>
<rect x="667.24" y="2182.30" width="28.0" height="16.6" fill="#aa0000"/>
<rect x="698.22" y="2182.30" width="28.0" height="16.6" fill="#00aa00"/>
<rect x="729.20" y="2182.30" width="28.0" height="16.6" fill="#008c00"/>
<rect x="760.18" y="2182.30" width="28.0" height="16.6" fill="#009600"/>
<rect x="791.16" y="2182.30" width="28.0" height="16.6" fill="#00d200"/>
<rect x="822.14" y="2182.30" width="28.0" height="16.6" fill="#005600"/>
<rect x="853.12" y="2182.30" width="28.0" height="16.6" fill="#960000"/>
<rect x="884.10" y="2182.30" width="28.0" height="16.6" fill="#320000"/>
<rect x="915.08" y="2182.30" width="28.0" height="16.6" fill="#005600"/>
<rect x="574.30" y="2201.35" width="28.0" height="16.6" fill="#aa0000"/>
<rect x="605.28" y="2201.35" width="28.0" height="16.6" fill="#820000"/>
<rect x="636.26" y="2201.35" width="28.0" height="16.6" fill="#ff0000"/>
<rect x="667.24" y="2201.35" width="28.0" height="16.6" fill="#320000"/>
<rect x="698.22" y="2201.35" width="28.0" height="16.6" fill="#005600"/>
<rect x="729.20" y="2201.35" width="28.0" height="16.6" fill="#005600"/>
<rect x="760.18" y="2201.35" width="28.0" height="16.6" fill="#005600"/>
<rect x="791.16" y="2201.35" width="28.0" height="16.6" fill="#005600"/>
<rect x="822.14" y="2201.35" width="28.0" height="16.6" fill="#005600"/>
<rect x="853.12" y="2201.35" width="28.0" height="16.6" fill="#005600"/>
<rect x="884.10" y="2201.35" width="28.0" height="16.6" fill="#005600"/>
<rect x="915.08" y="2201.35" width="28.0" height="16.6" fill="#005600"/>
<rect x="574.30" y="2220.40" width="28.0" height="16.6" fill="#e60000"/>
<rect x="605.28" y="2220.40" width="28.0" height="16.6" fill="#1e0000"/>
<rect x="636.26" y="2220.40" width="28.0" height="16.6" fill="#ff0000"/>
<rect x="667.24" y="2220.40" width="28.0" height="16.6" fill="#640000"/>
<rect x="698.22" y="2220.40" width="28.0" height="16.6" fill="#005600"/>
<rect x="729.20" y="2220.40" width="28.0" height="16.6" fill="#005600"/>
<rect x="760.18" y="2220.40" width="28.0" height="16.6" fill="#005600"/>
<rect x="791.16" y="2220.40" width="28.0" height="16.6" fill="#005600"/>
<rect x="822.14" y="2220.40" width="28.0" height="16.6" fill="#005600"/>
<rect x="853.12" y="2220.40" width="28.0" height="16.6" fill="#005600"/>
<rect x="884.10" y="2220.40" width="28.0" height="16.6" fill="#005600"/>
<rect x="915.08" y="2220.40" width="28.0" height="16.6" fill="#005600"/>
<rect x="574.30" y="2239.45" width="28.0" height="16.6" fill="#ff0000"/>
<rect x="605.28" y="2239.45" width="28.0" height="16.6" fill="#780000"/>
<rect x="636.26" y="2239.45" width="28.0" height="16.6" fill="#c80000"/>
<rect x="667.24" y="2239.45" width="28.0" height="16.6" fill="#a00000"/>
<rect x="698.22" y="2239.45" width="28.0" height="16.6" fill="#006100"/>
<rect x="729.20" y="2239.45" width="28.0" height="16.6" fill="#006100"/>
<rect x="760.18" y="2239.45" width="28.0" height="16.6" fill="#006100"/>
<rect x="791.16" y="2239.45" width="28.0" height="16.6" fill="#006100"/>
<rect x="822.14" y="2239.45" width="28.0" height="16.6" fill="#006100"/>
<rect x="853.12" y="2239.45" width="28.0" height="16.6" fill="#006100"/>
<rect x="884.10" y="2239.45" width="28.0" height="16.6" fill="#006100"/>
<rect x="915.08" y="2239.45" width="28.0" height="16.6" fill="#006100"/>
<rect x="574.30" y="2258.50" width="28.0" height="16.6" fill="#d20000"/>
<rect x="605.28" y="2258.50" width="28.0" height="16.6" fill="#8c0000"/>
<rect x="636.26" y="2258.50" width="28.0" height="16.6" fill="#c80000"/>
<rect x="667.24" y="2258.50" width="28.0" height="16.6" fill="#e60000"/>
<rect x="698.22" y="2258.50" width="28.0" height="16.6" fill="#006700"/>
<rect x="729.20" y="2258.50" width="28.0" height="16.6" fill="#006700"/>
<rect x="760.18" y="2258.50" width="28.0" height="16.6" fill="#006700"/>
<rect x="791.16" y="2258.50" width="28.0" height="16.6" fill="#006700"/>
<rect x="822.14" y="2258.50" width="28.0" height="16.6" fill="#006700"/>
<rect x="853.12" y="2258.50" width="28.0" height="16.6" fill="#006700"/>
<rect x="884.10" y="2258.50" width="28.0" height="16.6" fill="#006700"/>
<rect x="915.08" y="2258.50" width="28.0" height="16.6" fill="#006700"/>
<rect x="574.30" y="2277.55" width="28.0" height="16.6" fill="#960000"/>
<rect x="605.28" y="2277.55" width="28.0" height="16.6" fill="#c80000"/>
<rect x="636.26" y="2277.55" width="28.0" height="16.6" fill="#ff0000"/>
<rect x="667.24" y="2277.55" width="28.0" height="16.6" fill="#b40000"/>
<rect x="698.22" y="2277.55" width="28.0" height="16.6" fill="#006700"/>
<rect x="729.20" y="2277.55" width="28.0" height="16.6" fill="#006700"/>
<rect x="760.18" y="2277.55" width="28.0" height="16.6" fill="#006700"/>
<rect x="791.16" y="2277.55" width="28.0" height="16.6" fill="#006700"/>
<rect x="822.14" y="2277.55" width="28.0" height="16.6" fill="#006700"/>
<rect x="853.12" y="2277.55" width="28.0" height="16.6" fill="#006700"/>
<rect x="884.10" y="2277.55" width="28.0" height="16.6" fill="#006700"/>
<rect x="915.08" y="2277.55" width="28.0" height="16.6" fill="#006700"/>
<rect x="574.30" y="2296.60" width="28.0" height="16.6" fill="#c80000"/>
<rect x="605.28" y="2296.60" width="28.0" height="16.6" fill="#960000"/>
<rect x="636.26" y="2296.60" width="28.0" height="16.6" fill="#dc0000"/>
<rect x="667.24" y="2296.60" width="28.0" height="16.6" fill="#d20000"/>
<rect x="698.22" y="2296.60" width="28.0" height="16.6" fill="#006700"/>
<rect x="729.20" y="2296.60" width="28.0" height="16.6" fill="#006700"/>
<rect x="760.18" y="2296.60" width="28.0" height="16.6" fill="#006700"/>
<rect x="791.16" y="2296.60" width="28.0" height="16.6" fill="#006700"/>
<rect x="822.14" y="2296.60" width="28.0" height="16.6" fill="#006700"/>
<rect x="853.12" y="2296.60" width="28.0" height="16.6" fill="#006700"/>
<rect x="884.10" y="2296.60" width="28.0" height="16.6" fill="#006700"/>
<rect x="915.08" y="2296.60" width="28.0" height="16.6" fill="#006700"/>
<rect x="574.30" y="2315.65" width="28.0" height="16.6" fill="#aa0000"/>
<rect x="605.28" y="2315.65" width="28.0" height="16.6" fill="#b40000"/>
<rect x="636.26" y="2315.65" width="28.0" height="16.6" fill="#dc0000"/>
<rect x="667.24" y="2315.65" width="28.0" height="16.6" fill="#d20000"/>
<rect x="698.22" y="2315.65" width="28.0" height="16.6" fill="#006700"/>
<rect x="729.20" y="2315.65" width="28.0" height="16.6" fill="#006700"/>
<rect x="760.18" y="2315.65" width="28.0" height="16.6" fill="#006700"/>
<rect x="791.16" y="2315.65" width="28.0" height="16.6" fill="#006700"/>
<rect x="822.14" y="2315.65" width="28.0" height="16.6" fill="#006700"/>
<rect x="853.12" y="2315.65" width="28.0" height="16.6" fill="#006700"/>
<rect x="884.10" y="2315.65" width="28.0" height="16.6" fill="#006700"/>
<rect x="915.08" y="2315.65" width="28.0" height="16.6" fill="#006700"/>
<rect x="574.30" y="2334.70" width="28.0" height="16.6" fill="#aa0000"/>
<rect x="605.28" y="2334.70" width="28.0" height="16.6" fill="#c80000"/>
<rect x="636.26" y="2334.70" width="28.0" height="16.6" fill="#dc0000"/>
<rect x="667.24" y="2334.70" width="28.0" height="16.6" fill="#d20000"/>
<rect x="698.22" y="2334.70" width="28.0" height="16.6" fill="#006700"/>
<rect x="729.20" y="2334.70" width="28.0" height="16.6" fill="#006700"/>
<rect x="760.18" y="2334.70" width="28.0" height="16.6" fill="#006700"/>
<rect x="791.16" y="2334.70" width="28.0" height="16.6" fill="#006700"/>
<rect x="822.14" y="2334.70" width="28.0" height="16.6" fill="#006700"/>
<rect x="853.12" y="2334.70" width="28.0" height="16.6" fill="#006700"/>
<rect x="884.10" y="2334.70" width="28.0" height="16.6" fill="#006700"/>
<rect x="915.08" y="2334.70" width="28.0" height="16.6" fill="#006700"/>
<rect x="574.30" y="2353.75" width="28.0" height="16.6" fill="#d20000"/>
<rect x="605.28" y="2353.75" width="28.0" height="16.6" fill="#c80000"/>
<rect x="636.26" y="2353.75" width="28.0" height="16.6" fill="#c80000"/>
<rect x="667.24" y="2353.75" width="28.0" height="16.6" fill="#d20000"/>
<rect x="698.22" y="2353.75" width="28.0" height="16.6" fill="#006700"/>
<rect x="729.20" y="2353.75" width="28.0" height="16.6" fill="#006700"/>
<rect x="760.18" y="2353.75" width="28.0" height="16.6" fill="#006700"/>
<rect x="791.16" y="2353.75" width="28.0" height="16.6" fill="#006700"/>
<rect x="822.14" y="2353.75" width="28.0" height="16.6" fill="#006700"/>
<rect x="853.12" y="2353.75" width="28.0" height="16.6" fill="#006700"/>
<rect x="884.10" y="2353.75" width="28.0" height="16.6" fill="#006700"/>
<rect x="915.08" y="2353.75" width="28.0" height="16.6" fill="#006700"/>
<rect x="574.30" y="2372.80" width="28.0" height="16.6" fill="#dc0000"/>
<rect x="605.28" y="2372.80" width="28.0" height="16.6" fill="#d20000"/>
<rect x="636.26" y="2372.80" width="28.0" height="16.6" fill="#b40000"/>
<rect x="667.24" y="2372.80" width="28.0" height="16.6" fill="#c80000"/>
<rect x="698.22" y="2372.80" width="28.0" height="16.6" fill="#006700"/>
<rect x="729.20" y="2372.80" width="28.0" height="16.6" fill="#006700"/>
<rect x="760.18" y="2372.80" width="28.0" height="16.6" fill="#006700"/>
<rect x="791.16" y="2372.80" width="28.0" height="16.6" fill="#006700"/>
<rect x="822.14" y="2372.80" width="28.0" height="16.6" fill="#006700"/>
<rect x="853.12" y="2372.80" width="28.0" height="16.6" fill="#006700"/>
<rect x="884.10" y="2372.80" width="28.0" height="16.6" fill="#006700"/>
<rect x="915.08" y="2372.80" width="28.0" height="16.6" fill="#006700"/>
<rect x="574.30" y="2391.85" width="28.0" height="16.6" fill="#e60000"/>
<rect x="605.28" y="2391.85" width="28.0" height="16.6" fill="#b40000"/>
<rect x="636.26" y="2391.85" width="28.0" height="16.6" fill="#dc0000"/>
<rect x="667.24" y="2391.85" width="28.0" height="16.6" fill="#c80000"/>
<rect x="698.22" y="2391.85" width="28.0" height="16.6" fill="#006700"/>
<rect x="729.20" y="2391.85" width="28.0" height="16.6" fill="#006700"/>
<rect x="760.18" y="2391.85" width="28.0" height="16.6" fill="#006700"/>
<rect x="791.16" y="2391.85" width="28.0" height="16.6" fill="#006700"/>
<rect x="822.14" y="2391.85" width="28.0" height="16.6" fill="#006700"/>
<rect x="853.12" y="2391.85" width="28.0" height="16.6" fill="#006700"/>
<rect x="884.10" y="2391.85" width="28.0" height="16.6" fill="#006700"/>
<rect x="915.08" y="2391.85" width="28.0" height="16.6" fill="#006700"/>
<rect x="574.30" y="2410.90" width="28.0" height="16.6" fill="#d20000"/>
<rect x="605.28" y="2410.90" width="28.0" height="16.6" fill="#c80000"/>
<rect x="636.26" y="2410.90" width="28.0" height="16.6" fill="#e60000"/>
<rect x="667.24" y="2410.90" width="28.0" height="16.6" fill="#c80000"/>
<rect x="698.22" y="2410.90" width="28.0" height="16.6" fill="#006700"/>
<rect x="729.20" y="2410.90" width="28.0" height="16.6" fill="#006700"/>
<rect x="760.18" y="2410.90" width="28.0" height="16.6" fill="#006700"/>
<rect x="791.16" y="2410.90" width="28.0" height="16.6" fill="#006700"/>
<rect x="822.14" y="2410.90" width="28.0" height="16.6" fill="#006700"/>
<rect x="853.12" y="2410.90" width="28.0" height="16.6" fill="#006700"/>
<rect x="884.10" y="2410.90" width="28.0" height="16.6" fill="#006700"/>
<rect x="915.08" y="2410.90" width="28.0" height="16.6" fill="#006700"/>
<rect x="574.30" y="2429.95" width="28.0" height="16.6" fill="#b40000"/>
<rect x="605.28" y="2429.95" width="28.0" height="16.6" fill="#be0000"/>
<rect x="636.26" y="2429.95" width="28.0" height="16.6" fill="#e60000"/>
<rect x="667.24" y="2429.95" width="28.0" height="16.6" fill="#c80000"/>
<rect x="698.22" y="2429.95" width="28.0" height="16.6" fill="#006700"/>
<rect x="729.20" y="2429.95" width="28.0" height="16.6" fill="#006700"/>
<rect x="760.18" y="2429.95" width="28.0" height="16.6" fill="#006700"/>
<rect x="791.16" y="2429.95" width="28.0" height="16.6" fill="#006700"/>
<rect x="822.14" y="2429.95" width="28.0" height="16.6" fill="#006700"/>
<rect x="853.12" y="2429.95" width="28.0" height="16.6" fill="#006700"/>
<rect x="884.10" y="2429.95" width="28.0" height="16.6" fill="#006700"/>
<rect x="915.08" y="2429.95" width="28.0" height="16.6" fill="#006700"/>
<rect x="574.30" y="2449.00" width="28.0" height="16.6" fill="#820000"/>
<rect x="605.28" y="2449.00" width="28.0" height="16.6" fill="#ff0000"/>
<rect x="636.26" y="2449.00" width="28.0" height="16.6" fill="#be0000"/>
<rect x="667.24" y="2449.00" width="28.0" height="16.6" fill="#820000"/>
<rect x="698.22" y="2449.00" width="28.0" height="16.6" fill="#005c00"/>
<rect x="729.20" y="2449.00" width="28.0" height="16.6" fill="#005c00"/>
<rect x="760.18" y="2449.00" width="28.0" height="16.6" fill="#005c00"/>
<rect x="791.16" y="2449.00" width="28.0" height="16.6" fill="#005c00"/>
<rect x="822.14" y="2449.00" width="28.0" height="16.6" fill="#005c00"/>
<rect x="853.12" y="2449.00" width="28.0" height="16.6" fill="#005c00"/>
<rect x="884.10" y="2449.00" width="28.0" height="16.6" fill="#005c00"/>
<rect x="915.08" y="2449.00" width="28.0" height="16.6" fill="#005c00"/>
<rect x="574.30" y="2468.05" width="28.0" height="16.6" fill="#ff0000"/>
<rect x="605.28" y="2468.05" width="28.0" height="16.6" fill="#f00000"/>
<rect x="636.26" y="2468.05" width="28.0" height="16.6" fill="#000000"/>
<rect x="667.24" y="2468.05" width="28.0" height="16.6" fill="#b40000"/>
<rect x="698.22" y="2468.05" width="28.0" height="16.6" fill="#005c00"/>
<rect x="729.20" y="2468.05" width="28.0" height="16.6" fill="#005c00"/>
<rect x="760.18" y="2468.05" width="28.0" height="16.6" fill="#005c00"/>
<rect x="791.16" y="2468.05" width="28.0" height="16.6" fill="#005c00"/>
<rect x="822.14" y="2468.05" width="28.0" height="16.6" fill="#005c00"/>
<rect x="853.12" y="2468.05" width="28.0" height="16.6" fill="#005c00"/>
<rect x="884.10" y="2468.05" width="28.0" height="16.6" fill="#005c00"/>
<rect x="915.08" y="2468.05" width="28.0" height="16.6" fill="#005c00"/>
<rect x="574.30" y="2487.10" width="28.0" height="16.6" fill="#c80000"/>
<rect x="605.28" y="2487.10" width="28.0" height="16.6" fill="#f00000"/>
<rect x="636.26" y="2487.10" width="28.0" height="16.6" fill="#8c0000"/>
<rect x="667.24" y="2487.10" width="28.0" height="16.6" fill="#be0000"/>
<rect x="698.22" y="2487.10" width="28.0" height="16.6" fill="#005c00"/>
<rect x="729.20" y="2487.10" width="28.0" height="16.6" fill="#005c00"/>
<rect x="760.18" y="2487.10" width="28.0" height="16.6" fill="#005c00"/>
<rect x="791.16" y="2487.10" width="28.0" height="16.6" fill="#005c00"/>
<rect x="822.14" y="2487.10" width="28.0" height="16.6" fill="#005c00"/>
<rect x="853.12" y="2487.10" width="28.0" height="16.6" fill="#005c00"/>
<rect x="884.10" y="2487.10" width="28.0" height="16.6" fill="#005c00"/>
<rect x="915.08" y="2487.10" width="28.0" height="16.6" fill="#005c00"/>
<rect x="574.30" y="2506.15" width="28.0" height="16.6" fill="#c80000"/>
<rect x="605.28" y="2506.15" width="28.0" height="16.6" fill="#ff0000"/>
<rect x="636.26" y="2506.15" width="28.0" height="16.6" fill="#8c0000"/>
<rect x="667.24" y="2506.15" width="28.0" height="16.6" fill="#c80000"/>
<rect x="698.22" y="2506.15" width="28.0" height="16.6" fill="#005c00"/>
<rect x="729.20" y="2506.15" width="28.0" height="16.6" fill="#005c00"/>
<rect x="760.18" y="2506.15" width="28.0" height="16.6" fill="#005c00"/>
<rect x="791.16" y="2506.15" width="28.0" height="16.6" fill="#005c00"/>
<rect x="822.14" y="2506.15" width="28.0" height="16.6" fill="#005c00"/>
<rect x="853.12" y="2506.15" width="28.0" height="16.6" fill="#005c00"/>
<rect x="884.10" y="2506.15" width="28.0" height="16.6" fill="#005c00"/>
<rect x="915.08" y="2506.15" width="28.0" height="16.6" fill="#005c00"/>
<rect x="574.30" y="2525.20" width="28.0" height="16.6" fill="#d20000"/>
<rect x="605.28" y="2525.20" width="28.0" height="16.6" fill="#ff0000"/>
<rect x="636.26" y="2525.20" width="28.0" height="16.6" fill="#820000"/>
<rect x="667.24" y="2525.20" width="28.0" height="16.6" fill="#c80000"/>
<rect x="698.22" y="2525.20" width="28.0" height="16.6" fill="#005c00"/>
<rect x="729.20" y="2525.20" width="28.0" height="16.6" fill="#005c00"/>
<rect x="760.18" y="2525.20" width="28.0" height="16.6" fill="#005c00"/>
<rect x="791.16" y="2525.20" width="28.0" height="16.6" fill="#005c00"/>
<rect x="822.14" y="2525.20" width="28.0" height="16.6" fill="#005c00"/>
<rect x="853.12" y="2525.20" width="28.0" height="16.6" fill="#005c00"/>
<rect x="884.10" y="2525.20" width="28.0" height="16.6" fill="#005c00"/>
<rect x="915.08" y="2525.20" width="28.0" height="16.6" fill="#005c00"/>
<rect x="574.30" y="2544.25" width="28.0" height="16.6" fill="#3c0000"/>
<rect x="605.28" y="2544.25" width="28.0" height="16.6" fill="#001600"/>
<rect x="636.26" y="2544.25" width="28.0" height="16.6" fill="#004c00"/>
<rect x="667.24" y="2544.25" width="28.0" height="16.6" fill="#005600"/>
<rect x="698.22" y="2544.25" width="28.0" height="16.6" fill="#00ff00"/>
<rect x="729.20" y="2544.25" width="28.0" height="16.6" fill="#ff0000"/>
<rect x="760.18" y="2544.25" width="28.0" height="16.6" fill="#6e0000"/>
<rect x="791.16" y="2544.25" width="28.0" height="16.6" fill="#006100"/>
<rect x="822.14" y="2544.25" width="28.0" height="16.6" fill="#320000"/>
<rect x="853.12" y="2544.25" width="28.0" height="16.6" fill="#640000"/>
<rect x="884.10" y="2544.25" width="28.0" height="16.6" fill="#140000"/>
<rect x="915.08" y="2544.25" width="28.0" height="16.6" fill="#007700"/>
<rect x="574.30" y="2563.30" width="28.0" height="16.6" fill="#005100"/>
<rect x="605.28" y="2563.30" width="28.0" height="16.6" fill="#006100"/>
<rect x="636.26" y="2563.30" width="28.0" height="16.6" fill="#005c00"/>
<rect x="667.24" y="2563.30" width="28.0" height="16.6" fill="#004100"/>
<rect x="698.22" y="2563.30" width="28.0" height="16.6" fill="#005c00"/>
<rect x="729.20" y="2563.30" width="28.0" height="16.6" fill="#ff0000"/>
<rect x="760.18" y="2563.30" width="28.0" height="16.6" fill="#002b00"/>
<rect x="791.16" y="2563.30" width="28.0" height="16.6" fill="#006700"/>
<rect x="822.14" y="2563.30" width="28.0" height="16.6" fill="#002b00"/>
<rect x="853.12" y="2563.30" width="28.0" height="16.6" fill="#004c00"/>
<rect x="884.10" y="2563.30" width="28.0" height="16.6" fill="#a00000"/>
<rect x="915.08" y="2563.30" width="28.0" height="16.6" fill="#001600"/>
<rect x="574.30" y="2582.35" width="28.0" height="16.6" fill="#005600"/>
<rect x="605.28" y="2582.35" width="28.0" height="16.6" fill="#008c00"/>
<rect x="636.26" y="2582.35" width="28.0" height="16.6" fill="#008c00"/>
<rect x="667.24" y="2582.35" width="28.0" height="16.6" fill="#003600"/>
<rect x="698.22" y="2582.35" width="28.0" height="16.6" fill="#3c0000"/>
<rect x="729.20" y="2582.35" width="28.0" height="16.6" fill="#280000"/>
<rect x="760.18" y="2582.35" width="28.0" height="16.6" fill="#ff0000"/>
<rect x="791.16" y="2582.35" width="28.0" height="16.6" fill="#007700"/>
<rect x="822.14" y="2582.35" width="28.0" height="16.6" fill="#140000"/>
<rect x="853.12" y="2582.35" width="28.0" height="16.6" fill="#00a000"/>
<rect x="884.10" y="2582.35" width="28.0" height="16.6" fill="#140000"/>
<rect x="915.08" y="2582.35" width="28.0" height="16.6" fill="#320000"/>
<rect x="574.30" y="2601.40" width="28.0" height="16.6" fill="#004c00"/>
<rect x="605.28" y="2601.40" width="28.0" height="16.6" fill="#005600"/>
<rect x="636.26" y="2601.40" width="28.0" height="16.6" fill="#005600"/>
<rect x="667.24" y="2601.40" width="28.0" height="16.6" fill="#004c00"/>
<rect x="698.22" y="2601.40" width="28.0" height="16.6" fill="#002600"/>
<rect x="729.20" y="2601.40" width="28.0" height="16.6" fill="#820000"/>
<rect x="760.18" y="2601.40" width="28.0" height="16.6" fill="#ff0000"/>
<rect x="791.16" y="2601.40" width="28.0" height="16.6" fill="#000000"/>
<rect x="822.14" y="2601.40" width="28.0" height="16.6" fill="#005600"/>
<rect x="853.12" y="2601.40" width="28.0" height="16.6" fill="#005600"/>
<rect x="884.10" y="2601.40" width="28.0" height="16.6" fill="#005600"/>
<rect x="915.08" y="2601.40" width="28.0" height="16.6" fill="#006100"/>
<rect x="574.30" y="2620.45" width="28.0" height="16.6" fill="#006700"/>
<rect x="605.28" y="2620.45" width="28.0" height="16.6" fill="#008c00"/>
<rect x="636.26" y="2620.45" width="28.0" height="16.6" fill="#008c00"/>
<rect x="667.24" y="2620.45" width="28.0" height="16.6" fill="#00a000"/>
<rect x="698.22" y="2620.45" width="28.0" height="16.6" fill="#005600"/>
<rect x="729.20" y="2620.45" width="28.0" height="16.6" fill="#ff0000"/>
<rect x="760.18" y="2620.45" width="28.0" height="16.6" fill="#dc0000"/>
<rect x="791.16" y="2620.45" width="28.0" height="16.6" fill="#001600"/>
<rect x="822.14" y="2620.45" width="28.0" height="16.6" fill="#1e0000"/>
<rect x="853.12" y="2620.45" width="28.0" height="16.6" fill="#006c00"/>
<rect x="884.10" y="2620.45" width="28.0" height="16.6" fill="#320000"/>
<rect x="915.08" y="2620.45" width="28.0" height="16.6" fill="#000000"/>
<rect x="574.30" y="2639.50" width="28.0" height="16.6" fill="#003600"/>
<rect x="605.28" y="2639.50" width="28.0" height="16.6" fill="#009600"/>
<rect x="636.26" y="2639.50" width="28.0" height="16.6" fill="#000000"/>
<rect x="667.24" y="2639.50" width="28.0" height="16.6" fill="#008c00"/>
<rect x="698.22" y="2639.50" width="28.0" height="16.6" fill="#001600"/>
<rect x="729.20" y="2639.50" width="28.0" height="16.6" fill="#ff0000"/>
<rect x="760.18" y="2639.50" width="28.0" height="16.6" fill="#c80000"/>
<rect x="791.16" y="2639.50" width="28.0" height="16.6" fill="#1e0000"/>
<rect x="822.14" y="2639.50" width="28.0" height="16.6" fill="#005600"/>
<rect x="853.12" y="2639.50" width="28.0" height="16.6" fill="#008c00"/>
<rect x="884.10" y="2639.50" width="28.0" height="16.6" fill="#004c00"/>
<rect x="915.08" y="2639.50" width="28.0" height="16.6" fill="#002b00"/>
<rect x="574.30" y="2658.55" width="28.0" height="16.6" fill="#006c00"/>
<rect x="605.28" y="2658.55" width="28.0" height="16.6" fill="#007700"/>
<rect x="636.26" y="2658.55" width="28.0" height="16.6" fill="#006c00"/>
<rect x="667.24" y="2658.55" width="28.0" height="16.6" fill="#007700"/>
<rect x="698.22" y="2658.55" width="28.0" height="16.6" fill="#000b00"/>
<rect x="729.20" y="2658.55" width="28.0" height="16.6" fill="#ff0000"/>
<rect x="760.18" y="2658.55" width="28.0" height="16.6" fill="#c80000"/>
<rect x="791.16" y="2658.55" width="28.0" height="16.6" fill="#280000"/>
<rect x="822.14" y="2658.55" width="28.0" height="16.6" fill="#005600"/>
<rect x="853.12" y="2658.55" width="28.0" height="16.6" fill="#006c00"/>
<rect x="884.10" y="2658.55" width="28.0" height="16.6" fill="#004c00"/>
<rect x="915.08" y="2658.55" width="28.0" height="16.6" fill="#002000"/>
<rect x="574.30" y="2677.60" width="28.0" height="16.6" fill="#006100"/>
<rect x="605.28" y="2677.60" width="28.0" height="16.6" fill="#006100"/>
<rect x="636.26" y="2677.60" width="28.0" height="16.6" fill="#006100"/>
<rect x="667.24" y="2677.60" width="28.0" height="16.6" fill="#006c00"/>
<rect x="698.22" y="2677.60" width="28.0" height="16.6" fill="#001600"/>
<rect x="729.20" y="2677.60" width="28.0" height="16.6" fill="#ff0000"/>
<rect x="760.18" y="2677.60" width="28.0" height="16.6" fill="#d20000"/>
<rect x="791.16" y="2677.60" width="28.0" height="16.6" fill="#001600"/>
<rect x="822.14" y="2677.60" width="28.0" height="16.6" fill="#005600"/>
<rect x="853.12" y="2677.60" width="28.0" height="16.6" fill="#006100"/>
<rect x="884.10" y="2677.60" width="28.0" height="16.6" fill="#005600"/>
<rect x="915.08" y="2677.60" width="28.0" height="16.6" fill="#004c00"/>
<rect x="574.30" y="2696.65" width="28.0" height="16.6" fill="#006100"/>
<rect x="605.28" y="2696.65" width="28.0" height="16.6" fill="#006100"/>
<rect x="636.26" y="2696.65" width="28.0" height="16.6" fill="#006100"/>
<rect x="667.24" y="2696.65" width="28.0" height="16.6" fill="#006100"/>
<rect x="698.22" y="2696.65" width="28.0" height="16.6" fill="#005600"/>
<rect x="729.20" y="2696.65" width="28.0" height="16.6" fill="#ff0000"/>
<rect x="760.18" y="2696.65" width="28.0" height="16.6" fill="#c80000"/>
<rect x="791.16" y="2696.65" width="28.0" height="16.6" fill="#1e0000"/>
<rect x="822.14" y="2696.65" width="28.0" height="16.6" fill="#005600"/>
<rect x="853.12" y="2696.65" width="28.0" height="16.6" fill="#006100"/>
<rect x="884.10" y="2696.65" width="28.0" height="16.6" fill="#005600"/>
<rect x="915.08" y="2696.65" width="28.0" height="16.6" fill="#005600"/>
<rect x="574.30" y="2715.70" width="28.0" height="16.6" fill="#006100"/>
<rect x="605.28" y="2715.70" width="28.0" height="16.6" fill="#006100"/>
<rect x="636.26" y="2715.70" width="28.0" height="16.6" fill="#006100"/>
<rect x="667.24" y="2715.70" width="28.0" height="16.6" fill="#006100"/>
<rect x="698.22" y="2715.70" width="28.0" height="16.6" fill="#003600"/>
<rect x="729.20" y="2715.70" width="28.0" height="16.6" fill="#ff0000"/>
<rect x="760.18" y="2715.70" width="28.0" height="16.6" fill="#c80000"/>
<rect x="791.16" y="2715.70" width="28.0" height="16.6" fill="#3c0000"/>
<rect x="822.14" y="2715.70" width="28.0" height="16.6" fill="#005600"/>
<rect x="853.12" y="2715.70" width="28.0" height="16.6" fill="#005600"/>
<rect x="884.10" y="2715.70" width="28.0" height="16.6" fill="#005600"/>
<rect x="915.08" y="2715.70" width="28.0" height="16.6" fill="#005600"/>
<rect x="574.30" y="2734.75" width="28.0" height="16.6" fill="#006700"/>
<rect x="605.28" y="2734.75" width="28.0" height="16.6" fill="#006700"/>
<rect x="636.26" y="2734.75" width="28.0" height="16.6" fill="#006700"/>
<rect x="667.24" y="2734.75" width="28.0" height="16.6" fill="#006700"/>
<rect x="698.22" y="2734.75" width="28.0" height="16.6" fill="#500000"/>
<rect x="729.20" y="2734.75" width="28.0" height="16.6" fill="#ff0000"/>
<rect x="760.18" y="2734.75" width="28.0" height="16.6" fill="#c80000"/>
<rect x="791.16" y="2734.75" width="28.0" height="16.6" fill="#5a0000"/>
<rect x="822.14" y="2734.75" width="28.0" height="16.6" fill="#005600"/>
<rect x="853.12" y="2734.75" width="28.0" height="16.6" fill="#005600"/>
<rect x="884.10" y="2734.75" width="28.0" height="16.6" fill="#005600"/>
<rect x="915.08" y="2734.75" width="28.0" height="16.6" fill="#005600"/>
<rect x="574.30" y="2753.80" width="28.0" height="16.6" fill="#006700"/>
<rect x="605.28" y="2753.80" width="28.0" height="16.6" fill="#006700"/>
<rect x="636.26" y="2753.80" width="28.0" height="16.6" fill="#006700"/>
<rect x="667.24" y="2753.80" width="28.0" height="16.6" fill="#006700"/>
<rect x="698.22" y="2753.80" width="28.0" height="16.6" fill="#640000"/>
<rect x="729.20" y="2753.80" width="28.0" height="16.6" fill="#ff0000"/>
<rect x="760.18" y="2753.80" width="28.0" height="16.6" fill="#e60000"/>
<rect x="791.16" y="2753.80" width="28.0" height="16.6" fill="#500000"/>
<rect x="822.14" y="2753.80" width="28.0" height="16.6" fill="#005600"/>
<rect x="853.12" y="2753.80" width="28.0" height="16.6" fill="#005600"/>
<rect x="884.10" y="2753.80" width="28.0" height="16.6" fill="#005600"/>
<rect x="915.08" y="2753.80" width="28.0" height="16.6" fill="#005600"/>
<rect x="574.30" y="2772.85" width="28.0" height="16.6" fill="#006700"/>
<rect x="605.28" y="2772.85" width="28.0" height="16.6" fill="#006700"/>
<rect x="636.26" y="2772.85" width="28.0" height="16.6" fill="#006700"/>
<rect x="667.24" y="2772.85" width="28.0" height="16.6" fill="#006700"/>
<rect x="698.22" y="2772.85" width="28.0" height="16.6" fill="#3c0000"/>
<rect x="729.20" y="2772.85" width="28.0" height="16.6" fill="#ff0000"/>
<rect x="760.18" y="2772.85" width="28.0" height="16.6" fill="#e60000"/>
<rect x="791.16" y="2772.85" width="28.0" height="16.6" fill="#820000"/>
<rect x="822.14" y="2772.85" width="28.0" height="16.6" fill="#005600"/>
<rect x="853.12" y="2772.85" width="28.0" height="16.6" fill="#005600"/>
<rect x="884.10" y="2772.85" width="28.0" height="16.6" fill="#005600"/>
<rect x="915.08" y="2772.85" width="28.0" height="16.6" fill="#005600"/>
<rect x="574.30" y="2791.90" width="28.0" height="16.6" fill="#006700"/>
<rect x="605.28" y="2791.90" width="28.0" height="16.6" fill="#006700"/>
<rect x="636.26" y="2791.90" width="28.0" height="16.6" fill="#006700"/>
<rect x="667.24" y="2791.90" width="28.0" height="16.6" fill="#006700"/>
<rect x="698.22" y="2791.90" width="28.0" height="16.6" fill="#780000"/>
<rect x="729.20" y="2791.90" width="28.0" height="16.6" fill="#e60000"/>
<rect x="760.18" y="2791.90" width="28.0" height="16.6" fill="#ff0000"/>
<rect x="791.16" y="2791.90" width="28.0" height="16.6" fill="#640000"/>
<rect x="822.14" y="2791.90" width="28.0" height="16.6" fill="#005600"/>
<rect x="853.12" y="2791.90" width="28.0" height="16.6" fill="#005600"/>
<rect x="884.10" y="2791.90" width="28.0" height="16.6" fill="#005600"/>
<rect x="915.08" y="2791.90" width="28.0" height="16.6" fill="#005600"/>
<rect x="574.30" y="2810.95" width="28.0" height="16.6" fill="#006700"/>
<rect x="605.28" y="2810.95" width="28.0" height="16.6" fill="#006700"/>
<rect x="636.26" y="2810.95" width="28.0" height="16.6" fill="#006700"/>
<rect x="667.24" y="2810.95" width="28.0" height="16.6" fill="#006700"/>
<rect x="698.22" y="2810.95" width="28.0" height="16.6" fill="#640000"/>
<rect x="729.20" y="2810.95" width="28.0" height="16.6" fill="#d20000"/>
<rect x="760.18" y="2810.95" width="28.0" height="16.6" fill="#ff0000"/>
<rect x="791.16" y="2810.95" width="28.0" height="16.6" fill="#6e0000"/>
<rect x="822.14" y="2810.95" width="28.0" height="16.6" fill="#005600"/>
<rect x="853.12" y="2810.95" width="28.0" height="16.6" fill="#005600"/>
<rect x="884.10" y="2810.95" width="28.0" height="16.6" fill="#005600"/>
<rect x="915.08" y="2810.95" width="28.0" height="16.6" fill="#005600"/>
<rect x="574.30" y="2830.00" width="28.0" height="16.6" fill="#0a0000"/>
<rect x="605.28" y="2830.00" width="28.0" height="16.6" fill="#001b00"/>
<rect x="636.26" y="2830.00" width="28.0" height="16.6" fill="#0f0000"/>
<rect x="667.24" y="2830.00" width="28.0" height="16.6" fill="#0a0000"/>
<rect x="698.22" y="2830.00" width="28.0" height="16.6" fill="#003600"/>
<rect x="729.20" y="2830.00" width="28.0" height="16.6" fill="#ff0000"/>
<rect x="760.18" y="2830.00" width="28.0" height="16.6" fill="#002000"/>
<rect x="791.16" y="2830.00" width="28.0" height="16.6" fill="#780000"/>
<rect x="822.14" y="2830.00" width="28.0" height="16.6" fill="#008200"/>
<rect x="853.12" y="2830.00" width="28.0" height="16.6" fill="#008200"/>
<rect x="884.10" y="2830.00" width="28.0" height="16.6" fill="#008200"/>
<rect x="915.08" y="2830.00" width="28.0" height="16.6" fill="#008200"/>
<rect x="574.30" y="2849.05" width="28.0" height="16.6" fill="#1e0000"/>
<rect x="605.28" y="2849.05" width="28.0" height="16.6" fill="#001600"/>
<rect x="636.26" y="2849.05" width="28.0" height="16.6" fill="#280000"/>
<rect x="667.24" y="2849.05" width="28.0" height="16.6" fill="#280000"/>
<rect x="698.22" y="2849.05" width="28.0" height="16.6" fill="#006c00"/>
<rect x="729.20" y="2849.05" width="28.0" height="16.6" fill="#ff0000"/>
<rect x="760.18" y="2849.05" width="28.0" height="16.6" fill="#c80000"/>
<rect x="791.16" y="2849.05" width="28.0" height="16.6" fill="#280000"/>
<rect x="822.14" y="2849.05" width="28.0" height="16.6" fill="#009600"/>
<rect x="853.12" y="2849.05" width="28.0" height="16.6" fill="#009600"/>
<rect x="884.10" y="2849.05" width="28.0" height="16.6" fill="#009600"/>
<rect x="915.08" y="2849.05" width="28.0" height="16.6" fill="#009600"/>
<rect x="574.30" y="2868.10" width="28.0" height="16.6" fill="#140000"/>
<rect x="605.28" y="2868.10" width="28.0" height="16.6" fill="#140000"/>
<rect x="636.26" y="2868.10" width="28.0" height="16.6" fill="#0a0000"/>
<rect x="667.24" y="2868.10" width="28.0" height="16.6" fill="#1e0000"/>
<rect x="698.22" y="2868.10" width="28.0" height="16.6" fill="#008c00"/>
<rect x="729.20" y="2868.10" width="28.0" height="16.6" fill="#ff0000"/>
<rect x="760.18" y="2868.10" width="28.0" height="16.6" fill="#aa0000"/>
<rect x="791.16" y="2868.10" width="28.0" height="16.6" fill="#140000"/>
<rect x="822.14" y="2868.10" width="28.0" height="16.6" fill="#008c00"/>
<rect x="853.12" y="2868.10" width="28.0" height="16.6" fill="#008c00"/>
<rect x="884.10" y="2868.10" width="28.0" height="16.6" fill="#008c00"/>
<rect x="915.08" y="2868.10" width="28.0" height="16.6" fill="#008c00"/>
<rect x="574.30" y="2887.15" width="28.0" height="16.6" fill="#0a0000"/>
<rect x="605.28" y="2887.15" width="28.0" height="16.6" fill="#140000"/>
<rect x="636.26" y="2887.15" width="28.0" height="16.6" fill="#0a0000"/>
<rect x="667.24" y="2887.15" width="28.0" height="16.6" fill="#140000"/>
<rect x="698.22" y="2887.15" width="28.0" height="16.6" fill="#1e0000"/>
<rect x="729.20" y="2887.15" width="28.0" height="16.6" fill="#ff0000"/>
<rect x="760.18" y="2887.15" width="28.0" height="16.6" fill="#aa0000"/>
<rect x="791.16" y="2887.15" width="28.0" height="16.6" fill="#280000"/>
<rect x="822.14" y="2887.15" width="28.0" height="16.6" fill="#00a000"/>
<rect x="853.12" y="2887.15" width="28.0" height="16.6" fill="#00a000"/>
<rect x="884.10" y="2887.15" width="28.0" height="16.6" fill="#00a000"/>
<rect x="915.08" y="2887.15" width="28.0" height="16.6" fill="#00a000"/>
<rect x="574.30" y="2906.20" width="28.0" height="16.6" fill="#140000"/>
<rect x="605.28" y="2906.20" width="28.0" height="16.6" fill="#320000"/>
<rect x="636.26" y="2906.20" width="28.0" height="16.6" fill="#460000"/>
<rect x="667.24" y="2906.20" width="28.0" height="16.6" fill="#140000"/>
<rect x="698.22" y="2906.20" width="28.0" height="16.6" fill="#1e0000"/>
<rect x="729.20" y="2906.20" width="28.0" height="16.6" fill="#ff0000"/>
<rect x="760.18" y="2906.20" width="28.0" height="16.6" fill="#c80000"/>
<rect x="791.16" y="2906.20" width="28.0" height="16.6" fill="#0a0000"/>
<rect x="822.14" y="2906.20" width="28.0" height="16.6" fill="#00aa00"/>
<rect x="853.12" y="2906.20" width="28.0" height="16.6" fill="#00aa00"/>
<rect x="884.10" y="2906.20" width="28.0" height="16.6" fill="#00aa00"/>
<rect x="915.08" y="2906.20" width="28.0" height="16.6" fill="#00aa00"/>
<rect x="574.30" y="2925.25" width="28.0" height="16.6" fill="#8c0000"/>
<rect x="605.28" y="2925.25" width="28.0" height="16.6" fill="#500000"/>
<rect x="636.26" y="2925.25" width="28.0" height="16.6" fill="#5a0000"/>
<rect x="667.24" y="2925.25" width="28.0" height="16.6" fill="#500000"/>
<rect x="698.22" y="2925.25" width="28.0" height="16.6" fill="#000000"/>
<rect x="729.20" y="2925.25" width="28.0" height="16.6" fill="#c80000"/>
<rect x="760.18" y="2925.25" width="28.0" height="16.6" fill="#c80000"/>
<rect x="791.16" y="2925.25" width="28.0" height="16.6" fill="#0a0000"/>
<rect x="822.14" y="2925.25" width="28.0" height="16.6" fill="#00be00"/>
<rect x="853.12" y="2925.25" width="28.0" height="16.6" fill="#00be00"/>
<rect x="884.10" y="2925.25" width="28.0" height="16.6" fill="#00be00"/>
<rect x="915.08" y="2925.25" width="28.0" height="16.6" fill="#00be00"/>
<rect x="574.30" y="2944.30" width="28.0" height="16.6" fill="#003600"/>
<rect x="605.28" y="2944.30" width="28.0" height="16.6" fill="#1e0000"/>
<rect x="636.26" y="2944.30" width="28.0" height="16.6" fill="#1e0000"/>
<rect x="667.24" y="2944.30" width="28.0" height="16.6" fill="#320000"/>
<rect x="698.22" y="2944.30" width="28.0" height="16.6" fill="#960000"/>
<rect x="729.20" y="2944.30" width="28.0" height="16.6" fill="#c80000"/>
<rect x="760.18" y="2944.30" width="28.0" height="16.6" fill="#ff0000"/>
<rect x="791.16" y="2944.30" width="28.0" height="16.6" fill="#001600"/>
<rect x="822.14" y="2944.30" width="28.0" height="16.6" fill="#00a000"/>
<rect x="853.12" y="2944.30" width="28.0" height="16.6" fill="#00a000"/>
<rect x="884.10" y="2944.30" width="28.0" height="16.6" fill="#00a000"/>
<rect x="915.08" y="2944.30" width="28.0" height="16.6" fill="#00a000"/>
<line x1="55.5" y1="422.7" x2="569" y2="422.7" stroke="#000" stroke-width="5" stroke-dasharray="25.5 8.50" stroke-dashoffset="0.00"/>
<line x1="56.0" y1="422.7" x2="56.0" y2="2123.5" stroke="#000" stroke-width="8.2" stroke-dasharray="16.0 4.76" stroke-dashoffset="15.96"/>
<line x1="567.75" y1="420.5" x2="567.75" y2="2123.5" stroke="#000" stroke-width="8.5" stroke-dasharray="16.0 4.76" stroke-dashoffset="2.00"/>
<line x1="52" y1="2123.6" x2="571" y2="2123.6" stroke="#000" stroke-width="5" stroke-dasharray="25.5 8.50" stroke-dashoffset="26.00"/>
<line x1="52" y1="2127.9" x2="571" y2="2127.9" stroke="#000" stroke-width="5" stroke-dasharray="25.5 8.50" stroke-dashoffset="9.00"/>
<line x1="56.0" y1="2127.9" x2="56.0" y2="2539.5" stroke="#000" stroke-width="8.2" stroke-dasharray="16.0 4.76" stroke-dashoffset="18.66"/>
<line x1="567.75" y1="2127.9" x2="567.75" y2="2539.5" stroke="#000" stroke-width="8.5" stroke-dasharray="16.0 4.76" stroke-dashoffset="20.66"/>
<line x1="52" y1="2539.0" x2="571" y2="2539.0" stroke="#000" stroke-width="5" stroke-dasharray="25.5 8.50" stroke-dashoffset="26.00"/>
<line x1="52" y1="2543.5" x2="571" y2="2543.5" stroke="#000" stroke-width="5" stroke-dasharray="25.5 8.50" stroke-dashoffset="9.00"/>
<line x1="56.0" y1="2543.5" x2="56.0" y2="2982.0" stroke="#000" stroke-width="8.2" stroke-dasharray="16.0 4.76" stroke-dashoffset="17.26"/>
<line x1="567.75" y1="2543.5" x2="567.75" y2="2982.0" stroke="#000" stroke-width="8.5" stroke-dasharray="16.0 4.76" stroke-dashoffset="19.26"/>
<line x1="52" y1="2980.5" x2="571" y2="2980.5" stroke="#000" stroke-width="5" stroke-dasharray="25.5 8.50" stroke-dashoffset="10.80"/>
<path d="M56,2968 L56,2980.5 L68,2980.5" fill="none" stroke="#000" stroke-width="6"/>
<line x1="17" y1="474" x2="17" y2="2396" stroke="#cfcfcf" stroke-width="2"/><line x1="17" y1="474" x2="104.5" y2="474" stroke="#777" stroke-width="1.6"/><line x1="104.5" y1="436" x2="104.5" y2="514" stroke="#cfcfcf" stroke-width="2"/><line x1="104.5" y1="436" x2="166.5" y2="436" stroke="#666" stroke-width="1.6"/><line x1="104.5" y1="514" x2="131" y2="514" stroke="#666" stroke-width="1.6"/><line x1="131" y1="464" x2="131" y2="566" stroke="#cfcfcf" stroke-width="2"/><line x1="131" y1="464" x2="162" y2="464" stroke="#666" stroke-width="1.6"/><line x1="163" y1="455" x2="163" y2="474" stroke="#ddd" stroke-width="1.2"/><line x1="163" y1="455.2" x2="166.5" y2="455.2" stroke="#666" stroke-width="1.6"/><line x1="163" y1="474" x2="166.5" y2="474" stroke="#666" stroke-width="1.6"/><line x1="133.7" y1="493.5" x2="166.5" y2="493.5" stroke="#666" stroke-width="1.6"/><line x1="133.7" y1="493.5" x2="133.7" y2="639" stroke="#cfcfcf" stroke-width="2"/><line x1="133.7" y1="639" x2="149.5" y2="639" stroke="#666" stroke-width="1.6"/><line x1="150.5" y1="513" x2="166.5" y2="513" stroke="#666" stroke-width="1.6"/><line x1="150" y1="513" x2="150" y2="765" stroke="#cfcfcf" stroke-width="2"/><line x1="150" y1="765" x2="160.7" y2="765" stroke="#666" stroke-width="1.6"/><line x1="159.3" y1="540.3" x2="166.5" y2="540.3" stroke="#666" stroke-width="1.6"/><line x1="160.5" y1="540" x2="160.5" y2="1100" stroke="#cfcfcf" stroke-width="2"/><line x1="163" y1="583.4" x2="166.5" y2="583.4" stroke="#666" stroke-width="1.6"/><line x1="161.6" y1="925.7" x2="166" y2="925.7" stroke="#666" stroke-width="1.6"/><line x1="163" y1="1000" x2="163" y2="1397" stroke="#cfcfcf" stroke-width="2"/><line x1="162" y1="1397" x2="166" y2="1397" stroke="#666" stroke-width="1.6"/><line x1="17" y1="2395.6" x2="37" y2="2395.6" stroke="#888" stroke-width="1.6"/><line x1="37" y1="2170.4" x2="37" y2="2620" stroke="#cfcfcf" stroke-width="2"/><line x1="37" y1="2170.4" x2="142" y2="2170.4" stroke="#777" stroke-width="1.6"/><line x1="142" y1="2138" x2="142" y2="2241" stroke="#cfcfcf" stroke-width="2"/><line x1="142" y1="2138" x2="166.3" y2="2138" stroke="#666" stroke-width="1.6"/><line x1="142" y1="2168" x2="166.3" y2="2168" stroke="#666" stroke-width="1.6"/><line x1="151.3" y1="2187.3" x2="166.3" y2="2187.3" stroke="#666" stroke-width="1.6"/><line x1="151.3" y1="2187" x2="151.3" y2="2296.3" stroke="#cfcfcf" stroke-width="2"/><line x1="142" y1="2241" x2="151.3" y2="2241" stroke="#666" stroke-width="1.6"/><line x1="151.3" y1="2296.3" x2="166.3" y2="2296.3" stroke="#666" stroke-width="1.6"/><line x1="166" y1="2214" x2="166" y2="2377" stroke="#cfcfcf" stroke-width="2"/><line x1="37" y1="2620" x2="124.7" y2="2620" stroke="#777" stroke-width="1.6"/><line x1="124.7" y1="2557.7" x2="124.7" y2="2683.6" stroke="#cfcfcf" stroke-width="2"/><line x1="124.7" y1="2557.7" x2="149" y2="2557.7" stroke="#666" stroke-width="1.6"/><line x1="149" y1="2548.5" x2="149" y2="2568" stroke="#cfcfcf" stroke-width="2"/><line x1="149" y1="2548.5" x2="166" y2="2548.5" stroke="#666" stroke-width="1.6"/><line x1="149" y1="2568" x2="166" y2="2568" stroke="#666" stroke-width="1.6"/><line x1="124.7" y1="2683.6" x2="136.3" y2="2683.6" stroke="#666" stroke-width="1.6"/><line x1="136.3" y1="2595.8" x2="136.3" y2="2772.5" stroke="#cfcfcf" stroke-width="2"/><line x1="136.3" y1="2595.8" x2="166" y2="2595.8" stroke="#666" stroke-width="1.6"/><line x1="166" y1="2587.7" x2="166" y2="2606" stroke="#cfcfcf" stroke-width="2"/><line x1="164" y1="2624.7" x2="164" y2="2720.5" stroke="#cfcfcf" stroke-width="2"/><line x1="151.3" y1="2672" x2="164" y2="2672" stroke="#666" stroke-width="1.6"/><line x1="151.3" y1="2672" x2="151.3" y2="2874" stroke="#cfcfcf" stroke-width="2"/><line x1="136.3" y1="2772.5" x2="151.3" y2="2772.5" stroke="#666" stroke-width="1.6"/><line x1="157" y1="2836" x2="166" y2="2836" stroke="#666" stroke-width="1.6"/><line x1="157" y1="2836" x2="157" y2="2911" stroke="#cfcfcf" stroke-width="2"/><line x1="151.3" y1="2874" x2="157" y2="2874" stroke="#666" stroke-width="1.6"/><line x1="157" y1="2911" x2="166" y2="2911" stroke="#666" stroke-width="1.6"/><line x1="166" y1="2881" x2="166" y2="2941" stroke="#cfcfcf" stroke-width="2"/>
<line x1="16.8" y1="401.9" x2="166.3" y2="401.9" stroke="#777" stroke-width="2"/>
<rect x="13.3" y="346.6" width="4.6" height="2.6" fill="#666"/>
<rect x="13.3" y="357.9" width="4.6" height="2.6" fill="#666"/>
<rect x="13.3" y="363.7" width="4.6" height="2.6" fill="#666"/>
<rect x="13.3" y="370.2" width="4.6" height="2.6" fill="#666"/>
<rect x="13.3" y="375.7" width="4.6" height="2.6" fill="#666"/>
<rect x="13.3" y="387.0" width="4.6" height="2.6" fill="#666"/>
<rect x="13.3" y="392.8" width="4.6" height="2.6" fill="#666"/>
<line x1="530.5" y1="33" x2="530.5" y2="292" stroke="#222" stroke-width="2"/>
<line x1="525" y1="33" x2="539" y2="33" stroke="#222" stroke-width="2"/>
<line x1="525" y1="292" x2="539" y2="292" stroke="#222" stroke-width="2"/>
<polyline points="586.4,292.8 586.4,285.2 618.0,285.2 618.0,292.8" fill="none" stroke="#222" stroke-width="2"/>
<polyline points="618.0,286.4 640.3,286.4 640.3,287.5 663,287.5 663,289 680.0,289 680.0,292.8" fill="none" stroke="#222" stroke-width="2"/>
<polyline points="648.7,287.5 648.7,292.8" fill="none" stroke="#222" stroke-width="2"/>
<polyline points="710.2,292.8 710.2,289 803.7,289 803.7,292.8" fill="none" stroke="#222" stroke-width="2"/>
<polyline points="741.4,289 741.4,292.8" fill="none" stroke="#222" stroke-width="2"/>
<polyline points="772.7,289 772.7,292.8" fill="none" stroke="#222" stroke-width="2"/>
<polyline points="833.5,292.8 833.5,281 887.6,281 887.6,284.5" fill="none" stroke="#222" stroke-width="2"/>
<polyline points="864.8,292.8 864.8,284.5 911.2,284.5 911.2,287.4" fill="none" stroke="#222" stroke-width="2"/>
<polyline points="896.0,292.8 896.0,287.4 926.4,287.4 926.4,292.8" fill="none" stroke="#222" stroke-width="2"/>
<polyline points="612.0,285.2 612.0,33 797.6,33 797.6,151.5" fill="none" stroke="#222" stroke-width="2"/>
<polyline points="736.2,289 736.2,151.5 860,151.5 860,281" fill="none" stroke="#222" stroke-width="2"/>
<rect x="60.8" y="100.9" width="247.9" height="191.6" fill="none" stroke="#333" stroke-width="2.6"/>
<rect x="73" y="124.4" width="53" height="34.5" fill="#ff0000"/>
<rect x="73" y="158.9" width="53" height="31.1" fill="#780000"/>
<rect x="73" y="190" width="53" height="31.2" fill="#000000"/>
<rect x="73" y="221.2" width="53" height="31.8" fill="#007800"/>
<rect x="73" y="253" width="53" height="32.2" fill="#00ff00"/>
<rect x="73" y="124.4" width="53" height="160.8" fill="none" stroke="#222" stroke-width="1.5"/>
<line x1="283" y1="128" x2="283" y2="157.2" stroke="#2a2a2a" stroke-width="2.8"/>
<path d="M275.9,131.2 Q279,125.5 283,124.4 Q287,125.5 290.7,131.2 Q287,129 283,129.2 Q279,129 275.9,131.2Z" fill="#1a1a1a"/>
<line x1="283" y1="254" x2="283" y2="282" stroke="#2a2a2a" stroke-width="2.8"/>
<path d="M275.9,279.4 Q279,285 283,286 Q287,285 290.7,279.4 Q287,281.6 283,281.4 Q279,281.6 275.9,279.4Z" fill="#1a1a1a"/>
<g font-family="Liberation Sans" style="font-kerning:none">
<text transform="translate(184.60,444.90) scale(1.4000,1)" x="0.00" y="0" font-size="16" fill="#1c1c1c" letter-spacing="2.8" stroke="#1c1c1c" stroke-width="0.5">cis-Geranylacetone</text>
<text transform="translate(184.60,463.95) scale(1.4000,1)" x="0.00" y="0" font-size="16" fill="#1c1c1c" letter-spacing="2.8" stroke="#1c1c1c" stroke-width="0.5">D-Limonene</text>
<text transform="translate(184.60,483.00) scale(1.4000,1)" x="0.00" y="0" font-size="16" fill="#1c1c1c" letter-spacing="2.8" stroke="#1c1c1c" stroke-width="0.5">Pentanal</text>
<text transform="translate(184.60,502.05) scale(1.4000,1)" x="0.00" y="0" font-size="16" fill="#1c1c1c" letter-spacing="2.8" stroke="#1c1c1c" stroke-width="0.5">Unknown(V011)</text>
<text transform="translate(184.60,521.10) scale(1.4000,1)" x="0.00" y="0" font-size="16" fill="#1c1c1c" letter-spacing="2.8" stroke="#1c1c1c" stroke-width="0.5">Methanethiol</text>
<text transform="translate(184.60,540.15) scale(1.4000,1)" x="0.00" y="0" font-size="16" fill="#1c1c1c" letter-spacing="2.8" stroke="#1c1c1c" stroke-width="0.5">Isoprene</text>
<text transform="translate(184.60,559.20) scale(1.4000,1)" x="0.00" y="0" font-size="16" fill="#1c1c1c" letter-spacing="2.8" stroke="#1c1c1c" stroke-width="0.5">Unknown(V069)</text>
<text transform="translate(184.60,578.25) scale(1.4000,1)" x="0.00" y="0" font-size="16" fill="#1c1c1c" letter-spacing="2.8" word-spacing="-1.9" stroke="#1c1c1c" stroke-width="0.5">Nonanoic acid</text>
<text transform="translate(184.60,597.30) scale(1.4000,1)" x="0.00" y="0" font-size="16" fill="#1c1c1c" letter-spacing="2.8" word-spacing="-1.9" stroke="#1c1c1c" stroke-width="0.5">cis-Linalool oxide</text>
<text transform="translate(184.60,616.35) scale(1.4000,1)" x="0.00" y="0" font-size="16" fill="#1c1c1c" letter-spacing="2.8" stroke="#1c1c1c" stroke-width="0.5">(E)-2-Nonenal</text>
<text transform="translate(184.60,635.40) scale(1.4000,1)" x="0.00" y="0" font-size="16" fill="#1c1c1c" letter-spacing="2.8" stroke="#1c1c1c" stroke-width="0.5">Unknown(V085)</text>
<text transform="translate(184.60,654.45) scale(1.4000,1)" x="0.00" y="0" font-size="16" fill="#1c1c1c" letter-spacing="2.8" stroke="#1c1c1c" stroke-width="0.5">Unknown(V075)</text>
<text transform="translate(184.60,673.50) scale(1.4000,1)" x="0.00" y="0" font-size="16" fill="#1c1c1c" letter-spacing="2.8" stroke="#1c1c1c" stroke-width="0.5">Unknown(V110)</text>
<text transform="translate(184.60,692.55) scale(1.4000,1)" x="0.00" y="0" font-size="16" fill="#1c1c1c" letter-spacing="2.8" stroke="#1c1c1c" stroke-width="0.5">Unknown(V030)</text>
<text transform="translate(184.60,711.60) scale(1.4000,1)" x="0.00" y="0" font-size="16" fill="#1c1c1c" letter-spacing="2.8" stroke="#1c1c1c" stroke-width="0.5">Unknown(V121)</text>
<text transform="translate(184.60,730.65) scale(1.4000,1)" x="0.00" y="0" font-size="16" fill="#1c1c1c" letter-spacing="2.8" stroke="#1c1c1c" stroke-width="0.5">Unknown(V123)</text>
<text transform="translate(184.60,749.70) scale(1.4000,1)" x="0.00" y="0" font-size="16" fill="#1c1c1c" letter-spacing="2.8" stroke="#1c1c1c" stroke-width="0.5">(E,E)-2,4-Hexadienal</text>
<text transform="translate(184.60,768.75) scale(1.4000,1)" x="0.00" y="0" font-size="16" fill="#1c1c1c" letter-spacing="2.8" stroke="#1c1c1c" stroke-width="0.5">Benzaldehyde</text>
<text transform="translate(184.60,787.80) scale(1.4000,1)" x="0.00" y="0" font-size="16" fill="#1c1c1c" letter-spacing="2.8" stroke="#1c1c1c" stroke-width="0.5">Unknown(V079)</text>
<text transform="translate(184.60,806.85) scale(1.3757,1)" x="0.00" y="0" font-size="16" fill="#1c1c1c" letter-spacing="2.8" stroke="#1c1c1c" stroke-width="0.5">6,10,14-Trimethyl-2-pen</text>
<text transform="translate(184.60,825.90) scale(1.4000,1)" x="0.00" y="0" font-size="16" fill="#1c1c1c" letter-spacing="2.8" stroke="#1c1c1c" stroke-width="0.5">ß-Linalool</text>
<text transform="translate(184.60,844.95) scale(1.4000,1)" x="0.00" y="0" font-size="16" fill="#1c1c1c" letter-spacing="2.8" stroke="#1c1c1c" stroke-width="0.5">Unknown(V086)</text>
<text transform="translate(184.60,864.00) scale(1.3687,1)" x="0.00" y="0" font-size="16" fill="#1c1c1c" letter-spacing="2.8" stroke="#1c1c1c" stroke-width="0.5">2,6-Dimethyl-1,3,5,7-oc</text>
<text transform="translate(184.60,883.05) scale(1.4000,1)" x="0.00" y="0" font-size="16" fill="#1c1c1c" letter-spacing="2.8" stroke="#1c1c1c" stroke-width="0.5">Unknown(V008)</text>
<text transform="translate(184.60,902.10) scale(1.4000,1)" x="0.00" y="0" font-size="16" fill="#1c1c1c" letter-spacing="2.8" stroke="#1c1c1c" stroke-width="0.5">Unknown(V055)</text>
<text transform="translate(184.60,921.15) scale(1.4000,1)" x="0.00" y="0" font-size="16" fill="#1c1c1c" letter-spacing="2.8" stroke="#1c1c1c" stroke-width="0.5">(E)-2-Octen-1-ol</text>
<text transform="translate(184.60,940.20) scale(1.4000,1)" x="0.00" y="0" font-size="16" fill="#1c1c1c" letter-spacing="2.8" stroke="#1c1c1c" stroke-width="0.5">1-Octanol</text>
<text transform="translate(184.60,959.25) scale(1.4000,1)" x="0.00" y="0" font-size="16" fill="#1c1c1c" letter-spacing="2.8" stroke="#1c1c1c" stroke-width="0.5">Benzeneacetaldehyde</text>
<text transform="translate(184.60,978.30) scale(1.4000,1)" x="0.00" y="0" font-size="16" fill="#1c1c1c" letter-spacing="2.8" stroke="#1c1c1c" stroke-width="0.5">Unknown(V095)</text>
<text transform="translate(184.60,997.35) scale(1.4000,1)" x="0.00" y="0" font-size="16" fill="#1c1c1c" letter-spacing="2.8" stroke="#1c1c1c" stroke-width="0.5">Unknown(V040)</text>
<text transform="translate(184.60,1016.40) scale(1.4000,1)" x="0.00" y="0" font-size="16" fill="#1c1c1c" letter-spacing="2.8" stroke="#1c1c1c" stroke-width="0.5">Unknown(V065)</text>
<text transform="translate(184.60,1035.45) scale(1.4000,1)" x="0.00" y="0" font-size="16" fill="#1c1c1c" letter-spacing="2.8" stroke="#1c1c1c" stroke-width="0.5">Unknown(V081)</text>
<text transform="translate(184.60,1054.50) scale(1.4000,1)" x="0.00" y="0" font-size="16" fill="#1c1c1c" letter-spacing="2.8" stroke="#1c1c1c" stroke-width="0.5">Heptanal</text>
<text transform="translate(184.60,1073.55) scale(1.4000,1)" x="0.00" y="0" font-size="16" fill="#1c1c1c" letter-spacing="2.8" stroke="#1c1c1c" stroke-width="0.5">Unknown(V101)</text>
<text transform="translate(184.60,1092.60) scale(1.4000,1)" x="0.00" y="0" font-size="16" fill="#1c1c1c" letter-spacing="2.8" word-spacing="-1.9" stroke="#1c1c1c" stroke-width="0.5">3-Hexen-1-ol, acetate,</text>
<text transform="translate(184.60,1111.65) scale(1.4000,1)" x="0.00" y="0" font-size="16" fill="#1c1c1c" letter-spacing="2.8" stroke="#1c1c1c" stroke-width="0.5">Octanal</text>
<text transform="translate(184.60,1130.70) scale(1.4000,1)" x="0.00" y="0" font-size="16" fill="#1c1c1c" letter-spacing="2.8" word-spacing="-1.9" stroke="#1c1c1c" stroke-width="0.5">Sulfur dioxide</text>
<text transform="translate(184.60,1149.75) scale(1.4000,1)" x="0.00" y="0" font-size="16" fill="#1c1c1c" letter-spacing="2.8" stroke="#1c1c1c" stroke-width="0.5">3-Pentanone</text>
<text transform="translate(184.60,1168.80) scale(1.4000,1)" x="0.00" y="0" font-size="16" fill="#1c1c1c" letter-spacing="2.8" stroke="#1c1c1c" stroke-width="0.5">Unknown(V080)</text>
<text transform="translate(184.60,1187.85) scale(1.4000,1)" x="0.00" y="0" font-size="16" fill="#1c1c1c" letter-spacing="2.8" stroke="#1c1c1c" stroke-width="0.5">4-Oxoisophorone</text>
<text transform="translate(184.60,1206.90) scale(1.4000,1)" x="0.00" y="0" font-size="16" fill="#1c1c1c" letter-spacing="2.8" stroke="#1c1c1c" stroke-width="0.5">Unknown(V071)</text>
<text transform="translate(184.60,1225.95) scale(1.4000,1)" x="0.00" y="0" font-size="16" fill="#1c1c1c" letter-spacing="2.8" stroke="#1c1c1c" stroke-width="0.5">1-Pentanol</text>
<text transform="translate(184.60,1245.00) scale(1.4000,1)" x="0.00" y="0" font-size="16" fill="#1c1c1c" letter-spacing="2.8" stroke="#1c1c1c" stroke-width="0.5">Unknown(V067)</text>
<text transform="translate(184.60,1264.05) scale(1.4000,1)" x="0.00" y="0" font-size="16" fill="#1c1c1c" letter-spacing="2.8" stroke="#1c1c1c" stroke-width="0.5">(Z)-2-Penten-1-ol</text>
<text transform="translate(184.60,1283.10) scale(1.4000,1)" x="0.00" y="0" font-size="16" fill="#1c1c1c" letter-spacing="2.8" stroke="#1c1c1c" stroke-width="0.5">p-Menth-1-en-4-ol</text>
<text transform="translate(184.60,1302.15) scale(1.4000,1)" x="0.00" y="0" font-size="16" fill="#1c1c1c" letter-spacing="2.8" stroke="#1c1c1c" stroke-width="0.5">(E)-2-Heptenal</text>
<text transform="translate(184.60,1321.20) scale(1.3520,1)" x="0.00" y="0" font-size="16" fill="#1c1c1c" letter-spacing="2.8" stroke="#1c1c1c" stroke-width="0.5">5-Ethyl-2(5H)-furanone</text>
<text transform="translate(184.60,1340.25) scale(1.4000,1)" x="0.00" y="0" font-size="16" fill="#1c1c1c" letter-spacing="2.8" stroke="#1c1c1c" stroke-width="0.5">3-Penten-2-one</text>
<text transform="translate(184.60,1359.30) scale(1.4000,1)" x="0.00" y="0" font-size="16" fill="#1c1c1c" letter-spacing="2.8" stroke="#1c1c1c" stroke-width="0.5">1-Penten-3-one</text>
<text transform="translate(184.60,1378.35) scale(1.4000,1)" x="0.00" y="0" font-size="16" fill="#1c1c1c" letter-spacing="2.8" stroke="#1c1c1c" stroke-width="0.5">(E)-2-Pentenal</text>
<text transform="translate(184.60,1397.40) scale(1.4000,1)" x="0.00" y="0" font-size="16" fill="#1c1c1c" letter-spacing="2.8" stroke="#1c1c1c" stroke-width="0.5">(E)-2-Butenal</text>
<text transform="translate(184.60,1416.45) scale(1.4000,1)" x="0.00" y="0" font-size="16" fill="#1c1c1c" letter-spacing="2.8" stroke="#1c1c1c" stroke-width="0.5">ß-Damascenone</text>
<text transform="translate(184.60,1435.50) scale(1.4000,1)" x="0.00" y="0" font-size="16" fill="#1c1c1c" letter-spacing="2.8" stroke="#1c1c1c" stroke-width="0.5">Ionene</text>
<text transform="translate(184.60,1454.55) scale(1.4000,1)" x="0.00" y="0" font-size="16" fill="#1c1c1c" letter-spacing="2.8" word-spacing="-1.9" stroke="#1c1c1c" stroke-width="0.5">Hexanoic acid</text>
<text transform="translate(184.60,1473.60) scale(1.4000,1)" x="0.00" y="0" font-size="16" fill="#1c1c1c" letter-spacing="2.8" stroke="#1c1c1c" stroke-width="0.5">1-Penten-3-ol</text>
<text transform="translate(184.60,1492.65) scale(1.4000,1)" x="0.00" y="0" font-size="16" fill="#1c1c1c" letter-spacing="2.8" stroke="#1c1c1c" stroke-width="0.5">Unknown(V028)</text>
<text transform="translate(184.60,1511.70) scale(1.4000,1)" x="0.00" y="0" font-size="16" fill="#1c1c1c" letter-spacing="2.8" stroke="#1c1c1c" stroke-width="0.5">(Z)-3-Hexenal</text>
<text transform="translate(184.60,1530.75) scale(1.4000,1)" x="0.00" y="0" font-size="16" fill="#1c1c1c" letter-spacing="2.8" stroke="#1c1c1c" stroke-width="0.5">1-Hexanol</text>
<text transform="translate(184.60,1549.80) scale(1.4000,1)" x="0.00" y="0" font-size="16" fill="#1c1c1c" letter-spacing="2.8" stroke="#1c1c1c" stroke-width="0.5">2-Ethylthiophene</text>
<text transform="translate(184.60,1568.85) scale(1.4000,1)" x="0.00" y="0" font-size="16" fill="#1c1c1c" letter-spacing="2.8" stroke="#1c1c1c" stroke-width="0.5">Unknown(V084)</text>
<text transform="translate(184.60,1587.90) scale(1.4000,1)" x="0.00" y="0" font-size="16" fill="#1c1c1c" letter-spacing="2.8" stroke="#1c1c1c" stroke-width="0.5">1-Octen-3-one</text>
<text transform="translate(184.60,1606.95) scale(1.4000,1)" x="0.00" y="0" font-size="16" fill="#1c1c1c" letter-spacing="2.8" stroke="#1c1c1c" stroke-width="0.5">2,2,6-Trimethylcyclohex</text>
<text transform="translate(184.60,1626.00) scale(1.4000,1)" x="0.00" y="0" font-size="16" fill="#1c1c1c" letter-spacing="2.8" stroke="#1c1c1c" stroke-width="0.5">1-Octen-3-ol</text>
<text transform="translate(184.60,1645.05) scale(1.4000,1)" x="0.00" y="0" font-size="16" fill="#1c1c1c" letter-spacing="2.8" stroke="#1c1c1c" stroke-width="0.5">2-Propenal</text>
<text transform="translate(184.60,1664.10) scale(1.4000,1)" x="0.00" y="0" font-size="16" fill="#1c1c1c" letter-spacing="2.8" stroke="#1c1c1c" stroke-width="0.5">Unknown(V034)</text>
<text transform="translate(184.60,1683.15) scale(1.4000,1)" x="0.00" y="0" font-size="16" fill="#1c1c1c" letter-spacing="2.8" stroke="#1c1c1c" stroke-width="0.5">(E,E)-2,4-Heptadienal</text>
<text transform="translate(184.60,1702.20) scale(1.4000,1)" x="0.00" y="0" font-size="16" fill="#1c1c1c" letter-spacing="2.8" stroke="#1c1c1c" stroke-width="0.5">2-Ethylfuran</text>
<text transform="translate(184.60,1721.25) scale(1.4000,1)" x="0.00" y="0" font-size="16" fill="#1c1c1c" letter-spacing="2.8" stroke="#1c1c1c" stroke-width="0.5">2-Pentylfuran</text>
<text transform="translate(184.60,1740.30) scale(1.4000,1)" x="0.00" y="0" font-size="16" fill="#1c1c1c" letter-spacing="2.8" stroke="#1c1c1c" stroke-width="0.5">Hexanal</text>
<text transform="translate(184.60,1759.35) scale(1.4000,1)" x="0.00" y="0" font-size="16" fill="#1c1c1c" letter-spacing="2.8" stroke="#1c1c1c" stroke-width="0.5">(E)-2-Hexenal</text>
<text transform="translate(184.60,1778.40) scale(1.4000,1)" x="0.00" y="0" font-size="16" fill="#1c1c1c" letter-spacing="2.8" stroke="#1c1c1c" stroke-width="0.5">ß-Ionone</text>
<text transform="translate(184.60,1797.45) scale(1.4000,1)" x="0.00" y="0" font-size="16" fill="#1c1c1c" letter-spacing="2.8" stroke="#1c1c1c" stroke-width="0.5">Acetaldehyde</text>
<text transform="translate(184.60,1816.50) scale(1.4000,1)" x="0.00" y="0" font-size="16" fill="#1c1c1c" letter-spacing="2.8" stroke="#1c1c1c" stroke-width="0.5">2,3-Butanedione</text>
<text transform="translate(184.60,1835.55) scale(1.4000,1)" x="0.00" y="0" font-size="16" fill="#1c1c1c" letter-spacing="2.8" stroke="#1c1c1c" stroke-width="0.5">Butanal</text>
<text transform="translate(184.60,1854.60) scale(1.4000,1)" x="0.00" y="0" font-size="16" fill="#1c1c1c" letter-spacing="2.8" stroke="#1c1c1c" stroke-width="0.5">Unknown(V125)</text>
<text transform="translate(184.60,1873.65) scale(1.4000,1)" x="0.00" y="0" font-size="16" fill="#1c1c1c" letter-spacing="2.8" stroke="#1c1c1c" stroke-width="0.5">4-Oxononanal</text>
<text transform="translate(184.60,1892.70) scale(1.4000,1)" x="0.00" y="0" font-size="16" fill="#1c1c1c" letter-spacing="2.8" stroke="#1c1c1c" stroke-width="0.5">Unknown(V131)</text>
<text transform="translate(184.60,1911.75) scale(1.4000,1)" x="0.00" y="0" font-size="16" fill="#1c1c1c" letter-spacing="2.8" stroke="#1c1c1c" stroke-width="0.5">Unknown(V010)</text>
<text transform="translate(184.60,1930.80) scale(1.4000,1)" x="0.00" y="0" font-size="16" fill="#1c1c1c" letter-spacing="2.8" stroke="#1c1c1c" stroke-width="0.5">(E)-2-Octenal</text>
<text transform="translate(184.60,1949.85) scale(1.4000,1)" x="0.00" y="0" font-size="16" fill="#1c1c1c" letter-spacing="2.8" stroke="#1c1c1c" stroke-width="0.5">Unknown(V126)</text>
<text transform="translate(184.60,1968.90) scale(1.4000,1)" x="0.00" y="0" font-size="16" fill="#1c1c1c" letter-spacing="2.8" stroke="#1c1c1c" stroke-width="0.5">Unknown(V132)</text>
<text transform="translate(184.60,1987.95) scale(1.4000,1)" x="0.00" y="0" font-size="16" fill="#1c1c1c" letter-spacing="2.8" stroke="#1c1c1c" stroke-width="0.5">Unknown(V007)</text>
<text transform="translate(184.60,2007.00) scale(1.4000,1)" x="0.00" y="0" font-size="16" fill="#1c1c1c" letter-spacing="2.8" stroke="#1c1c1c" stroke-width="0.5">Unknown(V062)</text>
<text transform="translate(184.60,2026.05) scale(1.4000,1)" x="0.00" y="0" font-size="16" fill="#1c1c1c" letter-spacing="2.8" stroke="#1c1c1c" stroke-width="0.5">Unknown(V015)</text>
<text transform="translate(184.60,2045.10) scale(1.4000,1)" x="0.00" y="0" font-size="16" fill="#1c1c1c" letter-spacing="2.8" stroke="#1c1c1c" stroke-width="0.5">(E,E)-2,4-Nonadienal</text>
<text transform="translate(184.60,2064.15) scale(1.4000,1)" x="0.00" y="0" font-size="16" fill="#1c1c1c" letter-spacing="2.8" stroke="#1c1c1c" stroke-width="0.5">Unknown(V127)</text>
<text transform="translate(184.60,2083.20) scale(1.4000,1)" x="0.00" y="0" font-size="16" fill="#1c1c1c" letter-spacing="2.8" stroke="#1c1c1c" stroke-width="0.5">Unknown(V130)</text>
<text transform="translate(184.60,2102.25) scale(1.4000,1)" x="0.00" y="0" font-size="16" fill="#1c1c1c" letter-spacing="2.8" stroke="#1c1c1c" stroke-width="0.5">Unknown(V124)</text>
<text transform="translate(184.60,2121.30) scale(1.4000,1)" x="0.00" y="0" font-size="16" fill="#1c1c1c" letter-spacing="2.8" stroke="#1c1c1c" stroke-width="0.5">(E)-2-Decenal</text>
<text transform="translate(184.60,2140.35) scale(1.4000,1)" x="0.00" y="0" font-size="16" fill="#1c1c1c" letter-spacing="2.8" stroke="#1c1c1c" stroke-width="0.5">Unknown(V129)</text>
<text transform="translate(184.60,2159.40) scale(1.4000,1)" x="0.00" y="0" font-size="16" fill="#1c1c1c" letter-spacing="2.8" stroke="#1c1c1c" stroke-width="0.5">Unknown</text>
<text transform="translate(184.60,2178.45) scale(1.4000,1)" x="0.00" y="0" font-size="16" fill="#1c1c1c" letter-spacing="2.8" stroke="#1c1c1c" stroke-width="0.5">Unknown(V059)</text>
<text transform="translate(184.60,2197.50) scale(1.4000,1)" x="0.00" y="0" font-size="16" fill="#1c1c1c" letter-spacing="2.8" stroke="#1c1c1c" stroke-width="0.5">2-Propanone</text>
<text transform="translate(184.60,2216.55) scale(1.4000,1)" x="0.00" y="0" font-size="16" fill="#1c1c1c" letter-spacing="2.8" stroke="#1c1c1c" stroke-width="0.5">Unknown(V063)</text>
<text transform="translate(184.60,2235.60) scale(1.4000,1)" x="0.00" y="0" font-size="16" fill="#1c1c1c" letter-spacing="2.8" stroke="#1c1c1c" stroke-width="0.5">Unknown(V093)</text>
<text transform="translate(184.60,2254.65) scale(1.4000,1)" x="0.00" y="0" font-size="16" fill="#1c1c1c" letter-spacing="2.8" stroke="#1c1c1c" stroke-width="0.5">Unknown(V106)</text>
<text transform="translate(184.60,2273.70) scale(1.4000,1)" x="0.00" y="0" font-size="16" fill="#1c1c1c" letter-spacing="2.8" word-spacing="-1.9" stroke="#1c1c1c" stroke-width="0.5">Ethyl alcohol</text>
<text transform="translate(184.60,2292.75) scale(1.4000,1)" x="0.00" y="0" font-size="16" fill="#1c1c1c" letter-spacing="2.8" stroke="#1c1c1c" stroke-width="0.5">Unknown(V133)</text>
<text transform="translate(184.60,2311.80) scale(1.4000,1)" x="0.00" y="0" font-size="16" fill="#1c1c1c" letter-spacing="2.8" word-spacing="-1.9" stroke="#1c1c1c" stroke-width="0.5">Acetic acid, butyl este</text>
<text transform="translate(184.60,2330.85) scale(1.4000,1)" x="0.00" y="0" font-size="16" fill="#1c1c1c" letter-spacing="2.8" stroke="#1c1c1c" stroke-width="0.5">2-Methylpropanal</text>
<text transform="translate(184.60,2349.90) scale(1.4000,1)" x="0.00" y="0" font-size="16" fill="#1c1c1c" letter-spacing="2.8" stroke="#1c1c1c" stroke-width="0.5">Unknown(V038)</text>
<text transform="translate(184.60,2368.95) scale(1.4000,1)" x="0.00" y="0" font-size="16" fill="#1c1c1c" letter-spacing="2.8" stroke="#1c1c1c" stroke-width="0.5">Unknown(V108)</text>
<text transform="translate(184.60,2388.00) scale(1.4000,1)" x="0.00" y="0" font-size="16" fill="#1c1c1c" letter-spacing="2.8" stroke="#1c1c1c" stroke-width="0.5">Unknown(V049)</text>
<text transform="translate(184.60,2407.05) scale(1.4000,1)" x="0.00" y="0" font-size="16" fill="#1c1c1c" letter-spacing="2.8" stroke="#1c1c1c" stroke-width="0.5">N,N-Dibutylformamide</text>
<text transform="translate(184.60,2426.10) scale(1.4000,1)" x="0.00" y="0" font-size="16" fill="#1c1c1c" letter-spacing="2.8" stroke="#1c1c1c" stroke-width="0.5">1-Butanol</text>
<text transform="translate(184.60,2445.15) scale(1.4000,1)" x="0.00" y="0" font-size="16" fill="#1c1c1c" letter-spacing="2.8" stroke="#1c1c1c" stroke-width="0.5">Unknown(V043)</text>
<text transform="translate(184.60,2464.20) scale(1.4000,1)" x="0.00" y="0" font-size="16" fill="#1c1c1c" letter-spacing="2.8" stroke="#1c1c1c" stroke-width="0.5">Unknown(V119)</text>
<text transform="translate(184.60,2483.25) scale(1.4000,1)" x="0.00" y="0" font-size="16" fill="#1c1c1c" letter-spacing="2.8" stroke="#1c1c1c" stroke-width="0.5">Unknown(V122)</text>
<text transform="translate(184.60,2502.30) scale(1.4000,1)" x="0.00" y="0" font-size="16" fill="#1c1c1c" letter-spacing="2.8" stroke="#1c1c1c" stroke-width="0.5">Unknown(V051)</text>
<text transform="translate(184.60,2521.35) scale(1.4000,1)" x="0.00" y="0" font-size="16" fill="#1c1c1c" letter-spacing="2.8" stroke="#1c1c1c" stroke-width="0.5">Unknown(V113)</text>
<text transform="translate(184.60,2540.40) scale(1.4000,1)" x="0.00" y="0" font-size="16" fill="#1c1c1c" letter-spacing="2.8" word-spacing="-1.9" stroke="#1c1c1c" stroke-width="0.5">Methoxycarbonyl isothio</text>
<text transform="translate(184.60,2559.45) scale(1.4000,1)" x="0.00" y="0" font-size="16" fill="#1c1c1c" letter-spacing="2.8" word-spacing="-1.9" stroke="#1c1c1c" stroke-width="0.5">Decanoic acid</text>
<text transform="translate(184.60,2578.50) scale(1.4000,1)" x="0.00" y="0" font-size="16" fill="#1c1c1c" letter-spacing="2.8" stroke="#1c1c1c" stroke-width="0.5">Unknown(V088)</text>
<text transform="translate(184.60,2597.55) scale(1.4000,1)" x="0.00" y="0" font-size="16" fill="#1c1c1c" letter-spacing="2.8" stroke="#1c1c1c" stroke-width="0.5">3-Methyl-1-butanol</text>
<text transform="translate(184.60,2616.60) scale(1.4000,1)" x="0.00" y="0" font-size="16" fill="#1c1c1c" letter-spacing="2.8" stroke="#1c1c1c" stroke-width="0.5">Z-2-Dodecenol</text>
<text transform="translate(184.60,2635.65) scale(1.4000,1)" x="0.00" y="0" font-size="16" fill="#1c1c1c" letter-spacing="2.8" stroke="#1c1c1c" stroke-width="0.5">Unknown(V100)</text>
<text transform="translate(184.60,2654.70) scale(1.4000,1)" x="0.00" y="0" font-size="16" fill="#1c1c1c" letter-spacing="2.8" stroke="#1c1c1c" stroke-width="0.5">Decanal</text>
<text transform="translate(184.60,2673.75) scale(1.4000,1)" x="0.00" y="0" font-size="16" fill="#1c1c1c" letter-spacing="2.8" stroke="#1c1c1c" stroke-width="0.5">a-Terpinol</text>
<text transform="translate(184.60,2692.80) scale(1.4000,1)" x="0.00" y="0" font-size="16" fill="#1c1c1c" letter-spacing="2.8" stroke="#1c1c1c" stroke-width="0.5">Unknown(V120)</text>
<text transform="translate(184.60,2711.85) scale(1.4000,1)" x="0.00" y="0" font-size="16" fill="#1c1c1c" letter-spacing="2.8" stroke="#1c1c1c" stroke-width="0.5">Unknown(V111)</text>
<text transform="translate(184.60,2730.90) scale(1.4000,1)" x="0.00" y="0" font-size="16" fill="#1c1c1c" letter-spacing="2.8" stroke="#1c1c1c" stroke-width="0.5">Ocimenol</text>
<text transform="translate(184.60,2749.95) scale(1.4000,1)" x="0.00" y="0" font-size="16" fill="#1c1c1c" letter-spacing="2.8" stroke="#1c1c1c" stroke-width="0.5">Myrcene</text>
<text transform="translate(184.60,2769.00) scale(1.4000,1)" x="0.00" y="0" font-size="16" fill="#1c1c1c" letter-spacing="2.8" stroke="#1c1c1c" stroke-width="0.5">Unknown(V103)</text>
<text transform="translate(184.60,2788.05) scale(1.4000,1)" x="0.00" y="0" font-size="16" fill="#1c1c1c" letter-spacing="2.8" stroke="#1c1c1c" stroke-width="0.5">Unknown(V054)</text>
<text transform="translate(184.60,2807.10) scale(1.4000,1)" x="0.00" y="0" font-size="16" fill="#1c1c1c" letter-spacing="2.8" stroke="#1c1c1c" stroke-width="0.5">Unknown(V070)</text>
<text transform="translate(184.60,2826.15) scale(1.4000,1)" x="0.00" y="0" font-size="16" fill="#1c1c1c" letter-spacing="2.8" stroke="#1c1c1c" stroke-width="0.5">Unknown(V016)</text>
<text transform="translate(184.60,2845.20) scale(1.4000,1)" x="0.00" y="0" font-size="16" fill="#1c1c1c" letter-spacing="2.8" stroke="#1c1c1c" stroke-width="0.5">2-Nonen-1-ol</text>
<text transform="translate(184.60,2864.25) scale(1.4000,1)" x="0.00" y="0" font-size="16" fill="#1c1c1c" letter-spacing="2.8" stroke="#1c1c1c" stroke-width="0.5">Unknown(V112)</text>
<text transform="translate(184.60,2883.30) scale(1.4000,1)" x="0.00" y="0" font-size="16" fill="#1c1c1c" letter-spacing="2.8" word-spacing="-1.9" stroke="#1c1c1c" stroke-width="0.5">Octanoic Acid</text>
<text transform="translate(184.60,2902.35) scale(1.4000,1)" x="0.00" y="0" font-size="16" fill="#1c1c1c" letter-spacing="2.8" stroke="#1c1c1c" stroke-width="0.5">p-Cymene</text>
<text transform="translate(184.60,2921.40) scale(1.4000,1)" x="0.00" y="0" font-size="16" fill="#1c1c1c" letter-spacing="2.8" stroke="#1c1c1c" stroke-width="0.5">Unknown(V073)</text>
<text transform="translate(184.60,2940.45) scale(1.4000,1)" x="0.00" y="0" font-size="16" fill="#1c1c1c" letter-spacing="2.8" stroke="#1c1c1c" stroke-width="0.5">Nonanal</text>
<text transform="translate(184.60,2959.50) scale(1.4000,1)" x="0.00" y="0" font-size="16" fill="#1c1c1c" letter-spacing="2.8" stroke="#1c1c1c" stroke-width="0.5">Unknown(V056)</text>
<text transform="translate(74.30,119.10) scale(1.5998,1)" x="-1.35" y="0" font-size="16.5" fill="#333" stroke="#333" stroke-width="0.6">Expression</text>
<text transform="translate(146.20,149.00) scale(1.0488,1)" x="-1.41" y="0" font-size="28" fill="#111">2.0</text>
<text transform="translate(147.40,182.20) scale(1.0365,1)" x="-2.13" y="0" font-size="28" fill="#111">1.0</text>
<text transform="translate(146.20,213.20) scale(1.0758,1)" x="-1.09" y="0" font-size="28" fill="#111">0</text>
<text transform="translate(138.10,246.40) scale(1.0368,1)" x="-1.24" y="0" font-size="28" fill="#111">-1.0</text>
<text transform="translate(138.10,279.60) scale(1.0368,1)" x="-1.24" y="0" font-size="28" fill="#111">-2.0</text>
<text transform="translate(447.30,28.50) scale(1.5421,1)" x="-0.87" y="0" font-size="22.3" fill="#2a2a2a" stroke="#2a2a2a" stroke-width="0.35">0.283</text>
<text transform="translate(447.30,288.50) scale(1.4731,1)" x="-0.87" y="0" font-size="22.3" fill="#2a2a2a" stroke="#2a2a2a" stroke-width="0.35">0.0</text>
<text transform="translate(550.70,80.70) scale(1.5582,1)" x="-1.19" y="0" font-size="30.5" fill="#0c0c2c" font-weight="bold">cluster1</text>
<text transform="translate(655.80,187.70) scale(1.5589,1)" x="-1.19" y="0" font-size="30.5" fill="#0c0c2c" font-weight="bold">cluster2</text>
<text transform="translate(787.20,244.50) scale(1.5590,1)" x="-1.19" y="0" font-size="30.5" fill="#0c0c2c" font-weight="bold">cluster3</text>
<text transform="translate(579.20,307.30) rotate(90) scale(0.6735,1)" x="-0.63" y="0" font-size="28" fill="#20208a" stroke="#20208a" stroke-width="0.9">Trichome2</text>
<text transform="translate(610.40,307.30) rotate(90) scale(0.6727,1)" x="-0.63" y="0" font-size="28" fill="#20208a" stroke="#20208a" stroke-width="0.9">Trichome4</text>
<text transform="translate(641.60,307.30) rotate(90) scale(0.6679,1)" x="-0.63" y="0" font-size="28" fill="#20208a" stroke="#20208a" stroke-width="0.9">Trichome1</text>
<text transform="translate(672.80,307.30) rotate(90) scale(0.6488,1)" x="-0.63" y="0" font-size="28" fill="#20208a" stroke="#20208a" stroke-width="0.9">Trichome3</text>
<text transform="translate(703.50,308.50) rotate(90) scale(0.6279,1)" x="-1.27" y="0" font-size="28" fill="#20208a" stroke="#20208a" stroke-width="0.9">Stem4</text>
<text transform="translate(734.00,308.50) rotate(90) scale(0.6195,1)" x="-1.27" y="0" font-size="28" fill="#20208a" stroke="#20208a" stroke-width="0.9">Stem1</text>
<text transform="translate(764.80,307.00) rotate(90) scale(0.6646,1)" x="-1.27" y="0" font-size="28" fill="#20208a" stroke="#20208a" stroke-width="0.9">Stem2</text>
<text transform="translate(796.30,307.00) rotate(90) scale(0.6631,1)" x="-1.27" y="0" font-size="28" fill="#20208a" stroke="#20208a" stroke-width="0.9">Stem3</text>
<text transform="translate(826.50,307.00) rotate(90) scale(0.6718,1)" x="-2.30" y="0" font-size="28" fill="#20208a" stroke="#20208a" stroke-width="0.9">Leaf3</text>
<text transform="translate(856.70,307.00) rotate(90) scale(0.6736,1)" x="-2.30" y="0" font-size="28" fill="#20208a" stroke="#20208a" stroke-width="0.9">Leaf2</text>
<text transform="translate(888.00,307.00) rotate(90) scale(0.6325,1)" x="-2.30" y="0" font-size="28" fill="#20208a" stroke="#20208a" stroke-width="0.9">Leaf1</text>
<text transform="translate(918.40,307.00) rotate(90) scale(0.6677,1)" x="-2.30" y="0" font-size="28" fill="#20208a" stroke="#20208a" stroke-width="0.9">Leaf4</text>
<text transform="translate(133.60,1265.00) rotate(-90) scale(0.5984,1)" x="-4.42" y="0" font-size="63.3" fill="#000" font-weight="bold">leaf</text>
<text transform="translate(136.80,2412.00) rotate(-90) scale(0.5878,1)" x="-0.77" y="0" font-size="63.3" fill="#000" font-weight="bold">trichome</text>
<text transform="translate(137.40,2797.30) rotate(-90) scale(0.5952,1)" x="-2.23" y="0" font-size="63.3" fill="#000" font-weight="bold">stem</text>
</g>
</svg>
</body></html>
